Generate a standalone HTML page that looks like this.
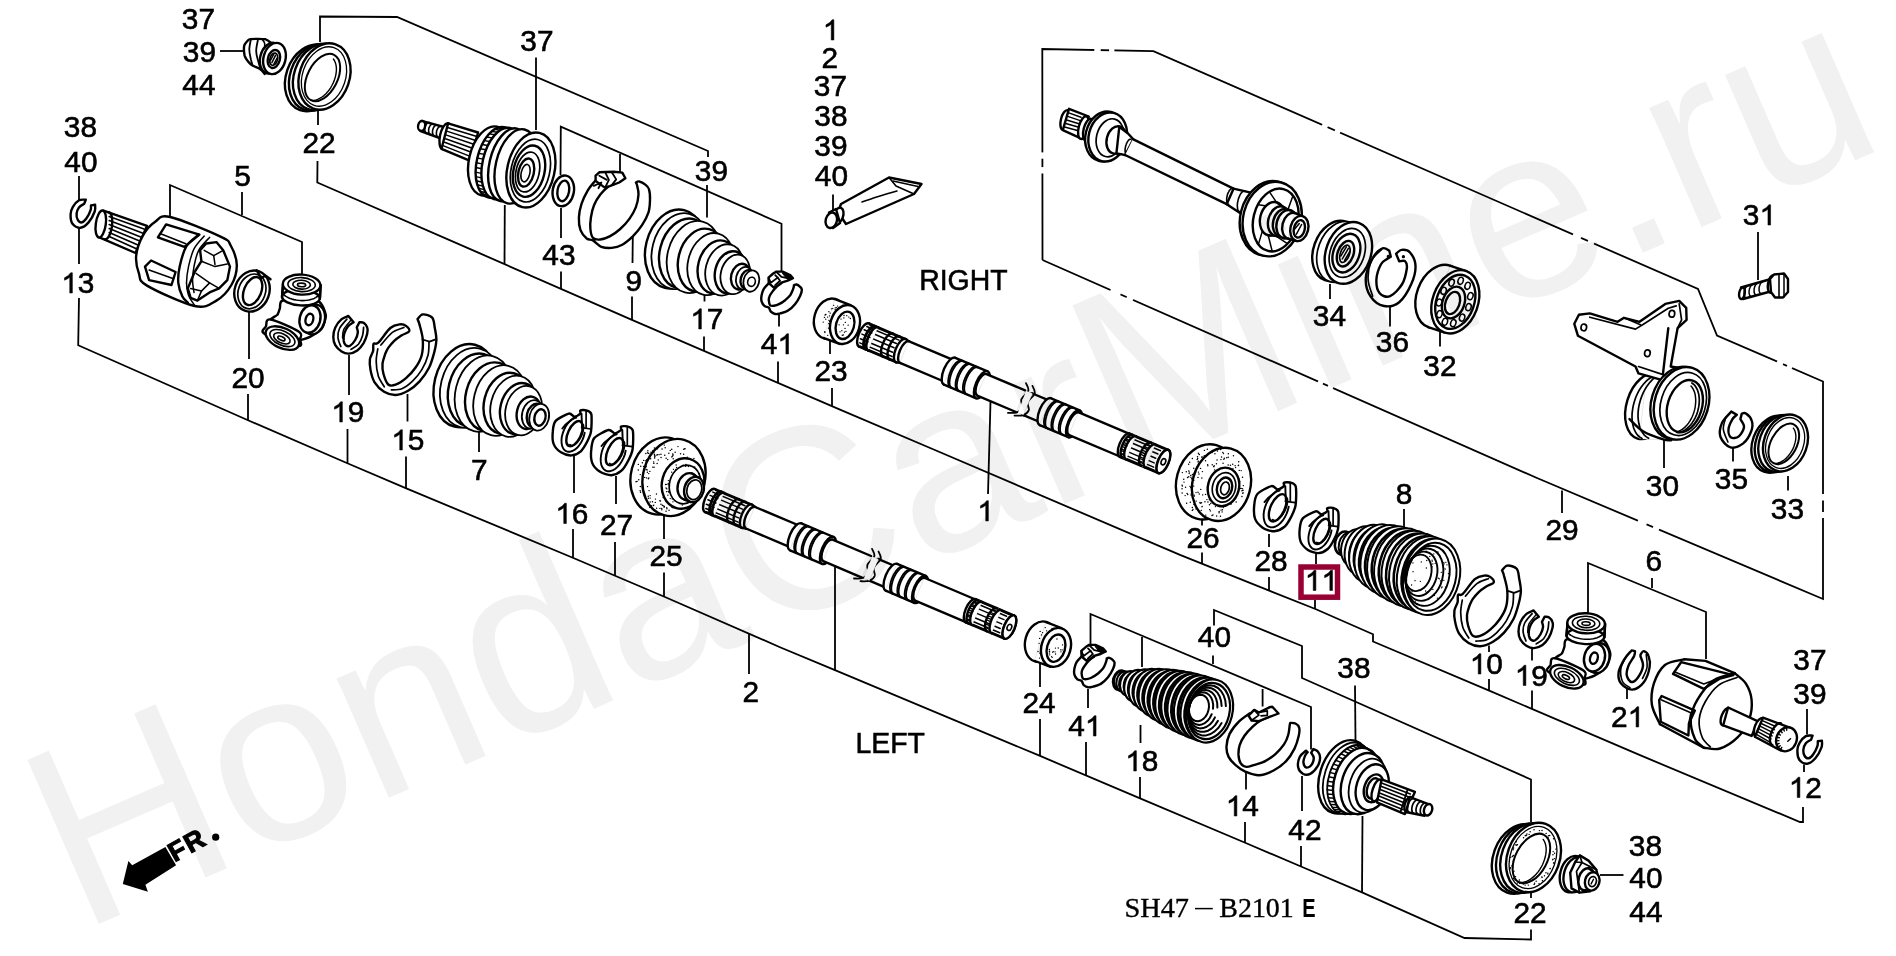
<!DOCTYPE html>
<html><head><meta charset="utf-8"><title>SH47-B2101E</title>
<style>
html,body{margin:0;padding:0;background:#fff;overflow:hidden}
svg{display:block}
.t{font-family:"Liberation Sans",sans-serif;fill:#000;stroke:#000;stroke-width:0.55px}
.s{font-family:"Liberation Serif",serif;fill:#000}
</style></head><body>
<svg width="1896" height="956" viewBox="0 0 1896 956">
<rect width="1896" height="956" fill="#fff"/>
<polyline points="320.0,42.0 320.0,16.5 397.0,17.0 708.0,151.0 708.0,157.0" fill="none" stroke="#000" stroke-width="1.8" />
<polyline points="317.5,161.0 317.3,182.5 480.0,253.4 632.5,320.1 840.0,409.6 933.7,449.5 1180.0,554.9 1269.2,590.6 1315.4,609.0 1373.0,634.3 1373.0,641.5 1489.2,690.6 1640.0,755.2 1800.0,822.0 1803.0,822.0 1803.0,807.0" fill="none" stroke="#000" stroke-width="1.8" />
<line x1="318.0" y1="111.0" x2="318.0" y2="125.0" stroke="#000" stroke-width="1.8" />
<polyline points="79.0,298.0 78.2,345.2 248.6,420.5 346.8,463.0 406.3,488.4 573.4,558.0 663.8,596.5 780.0,647.2 834.4,669.9 1039.5,755.7 1139.5,798.2 1244.6,842.5 1301.0,866.5 1362.0,892.3 1464.5,938.0 1531.0,939.5 1531.0,929.5" fill="none" stroke="#000" stroke-width="1.8" />
<line x1="79.0" y1="176.0" x2="79.0" y2="200.0" stroke="#000" stroke-width="1.8" />
<line x1="79.0" y1="225.0" x2="79.0" y2="264.0" stroke="#000" stroke-width="1.8" />
<line x1="220.0" y1="51.0" x2="244.0" y2="51.0" stroke="#000" stroke-width="1.8" />
<polyline points="170.0,217.0 170.0,185.0 302.0,242.0 302.0,274.0" fill="none" stroke="#000" stroke-width="1.8" />
<line x1="242.0" y1="192.0" x2="242.0" y2="215.0" stroke="#000" stroke-width="1.8" />
<line x1="536.0" y1="57.5" x2="536.0" y2="130.0" stroke="#000" stroke-width="1.8" />
<line x1="504.8" y1="205.0" x2="504.5" y2="264.1" stroke="#000" stroke-width="1.8" />
<line x1="707.0" y1="185.0" x2="707.0" y2="217.5" stroke="#000" stroke-width="1.8" />
<polyline points="560.5,175.0 560.8,126.6 781.5,223.8 781.5,273.0" fill="none" stroke="#000" stroke-width="1.8" />
<line x1="620.0" y1="154.0" x2="620.0" y2="172.0" stroke="#000" stroke-width="1.8" />
<line x1="561.0" y1="208.0" x2="561.0" y2="238.0" stroke="#000" stroke-width="1.8" />
<line x1="561.0" y1="271.5" x2="561.0" y2="288.8" stroke="#000" stroke-width="1.8" />
<line x1="632.8" y1="236.5" x2="632.5" y2="263.0" stroke="#000" stroke-width="1.8" />
<line x1="632.0" y1="296.5" x2="632.0" y2="319.9" stroke="#000" stroke-width="1.8" />
<line x1="704.5" y1="289.0" x2="704.5" y2="301.5" stroke="#000" stroke-width="1.8" />
<line x1="704.0" y1="336.5" x2="704.0" y2="350.9" stroke="#000" stroke-width="1.8" />
<line x1="779.0" y1="314.0" x2="779.0" y2="326.5" stroke="#000" stroke-width="1.8" />
<line x1="778.0" y1="361.5" x2="778.0" y2="382.9" stroke="#000" stroke-width="1.8" />
<line x1="830.0" y1="340.0" x2="830.0" y2="354.0" stroke="#000" stroke-width="1.8" />
<line x1="832.0" y1="388.0" x2="832.0" y2="406.1" stroke="#000" stroke-width="1.8" />
<line x1="833.0" y1="194.5" x2="833.0" y2="210.0" stroke="#000" stroke-width="1.8" />
<line x1="249.0" y1="310.0" x2="249.0" y2="359.0" stroke="#000" stroke-width="1.8" />
<line x1="248.0" y1="394.0" x2="248.0" y2="420.2" stroke="#000" stroke-width="1.8" />
<line x1="349.0" y1="355.0" x2="349.0" y2="395.0" stroke="#000" stroke-width="1.8" />
<line x1="347.5" y1="429.0" x2="347.5" y2="463.3" stroke="#000" stroke-width="1.8" />
<line x1="407.5" y1="394.0" x2="407.5" y2="421.5" stroke="#000" stroke-width="1.8" />
<line x1="406.0" y1="456.5" x2="406.0" y2="488.3" stroke="#000" stroke-width="1.8" />
<line x1="479.0" y1="431.5" x2="479.0" y2="452.0" stroke="#000" stroke-width="1.8" />
<line x1="574.0" y1="456.0" x2="574.0" y2="493.0" stroke="#000" stroke-width="1.8" />
<line x1="573.0" y1="529.0" x2="573.0" y2="557.8" stroke="#000" stroke-width="1.8" />
<line x1="616.0" y1="476.0" x2="616.0" y2="504.0" stroke="#000" stroke-width="1.8" />
<line x1="615.0" y1="542.0" x2="615.0" y2="575.7" stroke="#000" stroke-width="1.8" />
<line x1="664.0" y1="514.0" x2="664.0" y2="539.0" stroke="#000" stroke-width="1.8" />
<line x1="664.0" y1="572.5" x2="664.0" y2="596.6" stroke="#000" stroke-width="1.8" />
<line x1="749.0" y1="633.7" x2="749.0" y2="674.0" stroke="#000" stroke-width="1.8" />
<line x1="835.0" y1="564.0" x2="835.0" y2="670.2" stroke="#000" stroke-width="1.8" />
<line x1="990.5" y1="401.5" x2="988.0" y2="494.0" stroke="#000" stroke-width="1.8" />
<line x1="1202.0" y1="518.0" x2="1202.0" y2="525.5" stroke="#000" stroke-width="1.8" />
<line x1="1202.0" y1="552.5" x2="1202.0" y2="563.7" stroke="#000" stroke-width="1.8" />
<line x1="1269.0" y1="534.0" x2="1269.0" y2="547.0" stroke="#000" stroke-width="1.8" />
<line x1="1269.0" y1="577.0" x2="1269.0" y2="590.5" stroke="#000" stroke-width="1.8" />
<line x1="1316.0" y1="554.0" x2="1316.0" y2="564.0" stroke="#000" stroke-width="1.8" />
<line x1="1315.0" y1="600.0" x2="1315.0" y2="608.8" stroke="#000" stroke-width="1.8" />
<line x1="1404.0" y1="509.0" x2="1404.0" y2="529.0" stroke="#000" stroke-width="1.8" />
<line x1="1330.0" y1="284.0" x2="1330.0" y2="299.0" stroke="#000" stroke-width="1.8" />
<line x1="1390.0" y1="306.5" x2="1390.0" y2="326.5" stroke="#000" stroke-width="1.8" />
<line x1="1440.0" y1="331.5" x2="1440.0" y2="346.5" stroke="#000" stroke-width="1.8" />
<line x1="1758.0" y1="232.0" x2="1758.0" y2="280.0" stroke="#000" stroke-width="1.8" />
<line x1="1664.0" y1="439.0" x2="1664.0" y2="468.0" stroke="#000" stroke-width="1.8" />
<line x1="1733.0" y1="448.0" x2="1733.0" y2="461.5" stroke="#000" stroke-width="1.8" />
<line x1="1788.0" y1="476.0" x2="1788.0" y2="490.5" stroke="#000" stroke-width="1.8" />
<line x1="1562.0" y1="490.5" x2="1562.0" y2="513.0" stroke="#000" stroke-width="1.8" />
<polyline points="1588.0,613.0 1588.0,563.0 1706.0,612.0 1706.0,659.0" fill="none" stroke="#000" stroke-width="1.8" />
<line x1="1652.0" y1="578.0" x2="1652.0" y2="588.0" stroke="#000" stroke-width="1.8" />
<line x1="1489.0" y1="645.5" x2="1489.0" y2="652.0" stroke="#000" stroke-width="1.8" />
<line x1="1489.0" y1="679.0" x2="1489.0" y2="690.5" stroke="#000" stroke-width="1.8" />
<line x1="1532.0" y1="649.0" x2="1532.0" y2="660.5" stroke="#000" stroke-width="1.8" />
<line x1="1532.0" y1="690.5" x2="1532.0" y2="708.9" stroke="#000" stroke-width="1.8" />
<line x1="1627.0" y1="689.0" x2="1627.0" y2="699.0" stroke="#000" stroke-width="1.8" />
<line x1="1807.0" y1="709.0" x2="1807.0" y2="734.5" stroke="#000" stroke-width="1.8" />
<line x1="1804.0" y1="764.5" x2="1804.0" y2="772.0" stroke="#000" stroke-width="1.8" />
<polyline points="1214.0,625.5 1214.0,610.0 1302.0,646.0 1302.0,678.0 1531.0,779.5 1531.0,822.0" fill="none" stroke="#000" stroke-width="1.8" />
<line x1="1213.0" y1="655.5" x2="1213.0" y2="664.0" stroke="#000" stroke-width="1.8" />
<polyline points="1090.5,644.0 1090.5,614.0 1311.0,707.0 1311.0,749.5" fill="none" stroke="#000" stroke-width="1.8" />
<line x1="1142.0" y1="637.0" x2="1142.0" y2="667.0" stroke="#000" stroke-width="1.8" />
<line x1="1262.6" y1="689.0" x2="1262.6" y2="706.5" stroke="#000" stroke-width="1.8" />
<line x1="1355.0" y1="685.5" x2="1355.5" y2="741.0" stroke="#000" stroke-width="1.8" />
<line x1="1362.5" y1="816.0" x2="1362.0" y2="892.3" stroke="#000" stroke-width="1.8" />
<line x1="1040.0" y1="662.0" x2="1040.0" y2="687.0" stroke="#000" stroke-width="1.8" />
<line x1="1040.0" y1="719.0" x2="1040.0" y2="755.9" stroke="#000" stroke-width="1.8" />
<line x1="1088.0" y1="689.0" x2="1088.0" y2="708.0" stroke="#000" stroke-width="1.8" />
<line x1="1086.0" y1="742.0" x2="1086.0" y2="775.5" stroke="#000" stroke-width="1.8" />
<line x1="1140.5" y1="725.0" x2="1140.5" y2="743.0" stroke="#000" stroke-width="1.8" />
<line x1="1140.0" y1="777.0" x2="1140.0" y2="798.4" stroke="#000" stroke-width="1.8" />
<line x1="1246.0" y1="772.5" x2="1246.0" y2="789.5" stroke="#000" stroke-width="1.8" />
<line x1="1245.0" y1="822.0" x2="1245.0" y2="842.7" stroke="#000" stroke-width="1.8" />
<line x1="1302.0" y1="776.0" x2="1302.0" y2="811.0" stroke="#000" stroke-width="1.8" />
<line x1="1301.0" y1="846.0" x2="1301.0" y2="866.5" stroke="#000" stroke-width="1.8" />
<line x1="1531.0" y1="893.0" x2="1531.0" y2="898.0" stroke="#000" stroke-width="1.8" />
<line x1="1600.0" y1="875.0" x2="1623.5" y2="875.0" stroke="#000" stroke-width="1.8" />
<polyline points="1042.5,260.0 1042.3,49.0 1153.4,51.1 1698.0,289.0 1717.0,335.5 1823.0,381.5 1823.0,599.0 1537.0,478.0 1042.5,260.0" fill="none" stroke="#000" stroke-width="1.8" />
<line x1="1094.3" y1="50.0" x2="1100.7" y2="50.1" stroke="#fff" stroke-width="4"/>
<line x1="1109.1" y1="50.3" x2="1114.4" y2="50.4" stroke="#fff" stroke-width="4"/>
<line x1="1322.2" y1="124.8" x2="1327.5" y2="127.2" stroke="#fff" stroke-width="4"/>
<line x1="1334.9" y1="130.4" x2="1340.1" y2="132.7" stroke="#fff" stroke-width="4"/>
<line x1="1573.0" y1="234.4" x2="1581.0" y2="237.9" stroke="#fff" stroke-width="4"/>
<line x1="1588.0" y1="240.9" x2="1594.0" y2="243.6" stroke="#fff" stroke-width="4"/>
<line x1="1777.0" y1="361.5" x2="1783.0" y2="364.1" stroke="#fff" stroke-width="4"/>
<line x1="1787.0" y1="365.9" x2="1792.0" y2="368.0" stroke="#fff" stroke-width="4"/>
<line x1="1042.4" y1="152.4" x2="1042.4" y2="158.7" stroke="#fff" stroke-width="4"/>
<line x1="1042.4" y1="167.1" x2="1042.4" y2="173.5" stroke="#fff" stroke-width="4"/>
<line x1="1823.0" y1="494.0" x2="1823.0" y2="500.5" stroke="#fff" stroke-width="4"/>
<line x1="1823.0" y1="512.0" x2="1823.0" y2="518.0" stroke="#fff" stroke-width="4"/>
<line x1="1110.5" y1="290.0" x2="1120.5" y2="294.4" stroke="#fff" stroke-width="4"/>
<line x1="1126.7" y1="297.1" x2="1133.0" y2="299.9" stroke="#fff" stroke-width="4"/>
<line x1="1318.0" y1="381.5" x2="1323.0" y2="383.7" stroke="#fff" stroke-width="4"/>
<line x1="1328.0" y1="385.9" x2="1333.0" y2="388.1" stroke="#fff" stroke-width="4"/>
<line x1="1638.0" y1="520.7" x2="1646.5" y2="524.3" stroke="#fff" stroke-width="4"/>
<line x1="1653.0" y1="527.1" x2="1659.0" y2="529.6" stroke="#fff" stroke-width="4"/>
<text transform="translate(181.86 29.0) scale(1.085 1.055)" font-size="27.5" class="t">3</text>
<text transform="translate(198.46 29.0) scale(1.085 1.055)" font-size="27.5" class="t">7</text>
<text transform="translate(182.86 61.5) scale(1.085 1.055)" font-size="27.5" class="t">3</text>
<text transform="translate(199.46 61.5) scale(1.085 1.055)" font-size="27.5" class="t">9</text>
<text transform="translate(182.32 95.0) scale(1.085 1.055)" font-size="27.5" class="t">4</text>
<text transform="translate(198.91 95.0) scale(1.085 1.055)" font-size="27.5" class="t">4</text>
<text transform="translate(302.50 153.0) scale(1.085 1.055)" font-size="27.5" class="t">2</text>
<text transform="translate(319.09 153.0) scale(1.085 1.055)" font-size="27.5" class="t">2</text>
<text transform="translate(63.86 137.0) scale(1.085 1.055)" font-size="27.5" class="t">3</text>
<text transform="translate(80.46 137.0) scale(1.085 1.055)" font-size="27.5" class="t">8</text>
<text transform="translate(64.32 172.0) scale(1.085 1.055)" font-size="27.5" class="t">4</text>
<text transform="translate(80.91 172.0) scale(1.085 1.055)" font-size="27.5" class="t">0</text>
<text transform="translate(234.31 186.0) scale(1.085 1.055)" font-size="27.5" class="t">5</text>
<path transform="translate(61.25 293.0) scale(1.085 1.055)" d="M10.25,0.00 L7.83,0.00 L7.83,-14.97 L5.53,-13.35 L2.99,-12.14 L2.99,-14.41 L6.54,-16.65 L8.69,-19.21 L10.25,-19.21Z" fill="#000" stroke="#000" stroke-width="0.5"/>
<text transform="translate(77.85 293.0) scale(1.085 1.055)" font-size="27.5" class="t">3</text>
<text transform="translate(231.50 388.0) scale(1.085 1.055)" font-size="27.5" class="t">2</text>
<text transform="translate(248.09 388.0) scale(1.085 1.055)" font-size="27.5" class="t">0</text>
<path transform="translate(331.25 422.0) scale(1.085 1.055)" d="M10.25,0.00 L7.83,0.00 L7.83,-14.97 L5.53,-13.35 L2.99,-12.14 L2.99,-14.41 L6.54,-16.65 L8.69,-19.21 L10.25,-19.21Z" fill="#000" stroke="#000" stroke-width="0.5"/>
<text transform="translate(347.85 422.0) scale(1.085 1.055)" font-size="27.5" class="t">9</text>
<path transform="translate(391.25 450.0) scale(1.085 1.055)" d="M10.25,0.00 L7.83,0.00 L7.83,-14.97 L5.53,-13.35 L2.99,-12.14 L2.99,-14.41 L6.54,-16.65 L8.69,-19.21 L10.25,-19.21Z" fill="#000" stroke="#000" stroke-width="0.5"/>
<text transform="translate(407.85 450.0) scale(1.085 1.055)" font-size="27.5" class="t">5</text>
<text transform="translate(520.36 51.0) scale(1.085 1.055)" font-size="27.5" class="t">3</text>
<text transform="translate(536.96 51.0) scale(1.085 1.055)" font-size="27.5" class="t">7</text>
<text transform="translate(694.86 180.5) scale(1.085 1.055)" font-size="27.5" class="t">3</text>
<text transform="translate(711.46 180.5) scale(1.085 1.055)" font-size="27.5" class="t">9</text>
<path transform="translate(822.75 40.0) scale(1.085 1.055)" d="M10.25,0.00 L7.83,0.00 L7.83,-14.97 L5.53,-13.35 L2.99,-12.14 L2.99,-14.41 L6.54,-16.65 L8.69,-19.21 L10.25,-19.21Z" fill="#000" stroke="#000" stroke-width="0.5"/>
<text transform="translate(821.50 67.5) scale(1.085 1.055)" font-size="27.5" class="t">2</text>
<text transform="translate(813.86 96.0) scale(1.085 1.055)" font-size="27.5" class="t">3</text>
<text transform="translate(830.46 96.0) scale(1.085 1.055)" font-size="27.5" class="t">7</text>
<text transform="translate(814.36 126.0) scale(1.085 1.055)" font-size="27.5" class="t">3</text>
<text transform="translate(830.96 126.0) scale(1.085 1.055)" font-size="27.5" class="t">8</text>
<text transform="translate(814.36 156.0) scale(1.085 1.055)" font-size="27.5" class="t">3</text>
<text transform="translate(830.96 156.0) scale(1.085 1.055)" font-size="27.5" class="t">9</text>
<text transform="translate(814.82 186.0) scale(1.085 1.055)" font-size="27.5" class="t">4</text>
<text transform="translate(831.41 186.0) scale(1.085 1.055)" font-size="27.5" class="t">0</text>
<text transform="translate(542.32 265.0) scale(1.085 1.055)" font-size="27.5" class="t">4</text>
<text transform="translate(558.91 265.0) scale(1.085 1.055)" font-size="27.5" class="t">3</text>
<text transform="translate(625.60 291.0) scale(1.085 1.055)" font-size="27.5" class="t">9</text>
<path transform="translate(690.25 329.0) scale(1.085 1.055)" d="M10.25,0.00 L7.83,0.00 L7.83,-14.97 L5.53,-13.35 L2.99,-12.14 L2.99,-14.41 L6.54,-16.65 L8.69,-19.21 L10.25,-19.21Z" fill="#000" stroke="#000" stroke-width="0.5"/>
<text transform="translate(706.85 329.0) scale(1.085 1.055)" font-size="27.5" class="t">7</text>
<text transform="translate(760.82 354.0) scale(1.085 1.055)" font-size="27.5" class="t">4</text>
<path transform="translate(777.41 354.0) scale(1.085 1.055)" d="M10.25,0.00 L7.83,0.00 L7.83,-14.97 L5.53,-13.35 L2.99,-12.14 L2.99,-14.41 L6.54,-16.65 L8.69,-19.21 L10.25,-19.21Z" fill="#000" stroke="#000" stroke-width="0.5"/>
<text transform="translate(814.50 381.0) scale(1.085 1.055)" font-size="27.5" class="t">2</text>
<text transform="translate(831.09 381.0) scale(1.085 1.055)" font-size="27.5" class="t">3</text>
<text transform="translate(1312.86 326.0) scale(1.085 1.055)" font-size="27.5" class="t">3</text>
<text transform="translate(1329.46 326.0) scale(1.085 1.055)" font-size="27.5" class="t">4</text>
<text transform="translate(1375.86 352.0) scale(1.085 1.055)" font-size="27.5" class="t">3</text>
<text transform="translate(1392.46 352.0) scale(1.085 1.055)" font-size="27.5" class="t">6</text>
<text transform="translate(1423.36 376.0) scale(1.085 1.055)" font-size="27.5" class="t">3</text>
<text transform="translate(1439.96 376.0) scale(1.085 1.055)" font-size="27.5" class="t">2</text>
<text transform="translate(1742.86 225.0) scale(1.085 1.055)" font-size="27.5" class="t">3</text>
<path transform="translate(1759.46 225.0) scale(1.085 1.055)" d="M10.25,0.00 L7.83,0.00 L7.83,-14.97 L5.53,-13.35 L2.99,-12.14 L2.99,-14.41 L6.54,-16.65 L8.69,-19.21 L10.25,-19.21Z" fill="#000" stroke="#000" stroke-width="0.5"/>
<text transform="translate(1645.86 495.5) scale(1.085 1.055)" font-size="27.5" class="t">3</text>
<text transform="translate(1662.46 495.5) scale(1.085 1.055)" font-size="27.5" class="t">0</text>
<text transform="translate(1714.86 489.0) scale(1.085 1.055)" font-size="27.5" class="t">3</text>
<text transform="translate(1731.46 489.0) scale(1.085 1.055)" font-size="27.5" class="t">5</text>
<text transform="translate(1770.86 519.0) scale(1.085 1.055)" font-size="27.5" class="t">3</text>
<text transform="translate(1787.46 519.0) scale(1.085 1.055)" font-size="27.5" class="t">3</text>
<text transform="translate(1545.50 540.0) scale(1.085 1.055)" font-size="27.5" class="t">2</text>
<text transform="translate(1562.09 540.0) scale(1.085 1.055)" font-size="27.5" class="t">9</text>
<text transform="translate(470.97 480.0) scale(1.085 1.055)" font-size="27.5" class="t">7</text>
<path transform="translate(555.25 523.5) scale(1.085 1.055)" d="M10.25,0.00 L7.83,0.00 L7.83,-14.97 L5.53,-13.35 L2.99,-12.14 L2.99,-14.41 L6.54,-16.65 L8.69,-19.21 L10.25,-19.21Z" fill="#000" stroke="#000" stroke-width="0.5"/>
<text transform="translate(571.85 523.5) scale(1.085 1.055)" font-size="27.5" class="t">6</text>
<text transform="translate(600.00 535.0) scale(1.085 1.055)" font-size="27.5" class="t">2</text>
<text transform="translate(616.59 535.0) scale(1.085 1.055)" font-size="27.5" class="t">7</text>
<text transform="translate(649.50 566.0) scale(1.085 1.055)" font-size="27.5" class="t">2</text>
<text transform="translate(666.09 566.0) scale(1.085 1.055)" font-size="27.5" class="t">5</text>
<text transform="translate(742.50 702.0) scale(1.085 1.055)" font-size="27.5" class="t">2</text>
<path transform="translate(977.25 521.0) scale(1.085 1.055)" d="M10.25,0.00 L7.83,0.00 L7.83,-14.97 L5.53,-13.35 L2.99,-12.14 L2.99,-14.41 L6.54,-16.65 L8.69,-19.21 L10.25,-19.21Z" fill="#000" stroke="#000" stroke-width="0.5"/>
<text transform="translate(1186.50 547.5) scale(1.085 1.055)" font-size="27.5" class="t">2</text>
<text transform="translate(1203.09 547.5) scale(1.085 1.055)" font-size="27.5" class="t">6</text>
<text transform="translate(1254.50 571.0) scale(1.085 1.055)" font-size="27.5" class="t">2</text>
<text transform="translate(1271.09 571.0) scale(1.085 1.055)" font-size="27.5" class="t">8</text>
<path transform="translate(1304.75 590.5) scale(1.085 1.055)" d="M10.25,0.00 L7.83,0.00 L7.83,-14.97 L5.53,-13.35 L2.99,-12.14 L2.99,-14.41 L6.54,-16.65 L8.69,-19.21 L10.25,-19.21Z" fill="#000" stroke="#000" stroke-width="0.5"/>
<path transform="translate(1321.35 590.5) scale(1.085 1.055)" d="M10.25,0.00 L7.83,0.00 L7.83,-14.97 L5.53,-13.35 L2.99,-12.14 L2.99,-14.41 L6.54,-16.65 L8.69,-19.21 L10.25,-19.21Z" fill="#000" stroke="#000" stroke-width="0.5"/>
<text transform="translate(1395.70 504.0) scale(1.085 1.055)" font-size="27.5" class="t">8</text>
<text transform="translate(1197.82 647.0) scale(1.085 1.055)" font-size="27.5" class="t">4</text>
<text transform="translate(1214.41 647.0) scale(1.085 1.055)" font-size="27.5" class="t">0</text>
<text transform="translate(1337.36 678.0) scale(1.085 1.055)" font-size="27.5" class="t">3</text>
<text transform="translate(1353.96 678.0) scale(1.085 1.055)" font-size="27.5" class="t">8</text>
<text transform="translate(1022.50 713.0) scale(1.085 1.055)" font-size="27.5" class="t">2</text>
<text transform="translate(1039.09 713.0) scale(1.085 1.055)" font-size="27.5" class="t">4</text>
<text transform="translate(1068.32 736.0) scale(1.085 1.055)" font-size="27.5" class="t">4</text>
<path transform="translate(1084.91 736.0) scale(1.085 1.055)" d="M10.25,0.00 L7.83,0.00 L7.83,-14.97 L5.53,-13.35 L2.99,-12.14 L2.99,-14.41 L6.54,-16.65 L8.69,-19.21 L10.25,-19.21Z" fill="#000" stroke="#000" stroke-width="0.5"/>
<path transform="translate(1125.25 771.0) scale(1.085 1.055)" d="M10.25,0.00 L7.83,0.00 L7.83,-14.97 L5.53,-13.35 L2.99,-12.14 L2.99,-14.41 L6.54,-16.65 L8.69,-19.21 L10.25,-19.21Z" fill="#000" stroke="#000" stroke-width="0.5"/>
<text transform="translate(1141.85 771.0) scale(1.085 1.055)" font-size="27.5" class="t">8</text>
<path transform="translate(1225.75 816.0) scale(1.085 1.055)" d="M10.25,0.00 L7.83,0.00 L7.83,-14.97 L5.53,-13.35 L2.99,-12.14 L2.99,-14.41 L6.54,-16.65 L8.69,-19.21 L10.25,-19.21Z" fill="#000" stroke="#000" stroke-width="0.5"/>
<text transform="translate(1242.35 816.0) scale(1.085 1.055)" font-size="27.5" class="t">4</text>
<text transform="translate(1288.32 839.5) scale(1.085 1.055)" font-size="27.5" class="t">4</text>
<text transform="translate(1304.91 839.5) scale(1.085 1.055)" font-size="27.5" class="t">2</text>
<text transform="translate(1645.48 571.0) scale(1.085 1.055)" font-size="27.5" class="t">6</text>
<path transform="translate(1469.75 674.0) scale(1.085 1.055)" d="M10.25,0.00 L7.83,0.00 L7.83,-14.97 L5.53,-13.35 L2.99,-12.14 L2.99,-14.41 L6.54,-16.65 L8.69,-19.21 L10.25,-19.21Z" fill="#000" stroke="#000" stroke-width="0.5"/>
<text transform="translate(1486.35 674.0) scale(1.085 1.055)" font-size="27.5" class="t">0</text>
<path transform="translate(1514.75 685.5) scale(1.085 1.055)" d="M10.25,0.00 L7.83,0.00 L7.83,-14.97 L5.53,-13.35 L2.99,-12.14 L2.99,-14.41 L6.54,-16.65 L8.69,-19.21 L10.25,-19.21Z" fill="#000" stroke="#000" stroke-width="0.5"/>
<text transform="translate(1531.35 685.5) scale(1.085 1.055)" font-size="27.5" class="t">9</text>
<text transform="translate(1611.00 727.0) scale(1.085 1.055)" font-size="27.5" class="t">2</text>
<path transform="translate(1627.59 727.0) scale(1.085 1.055)" d="M10.25,0.00 L7.83,0.00 L7.83,-14.97 L5.53,-13.35 L2.99,-12.14 L2.99,-14.41 L6.54,-16.65 L8.69,-19.21 L10.25,-19.21Z" fill="#000" stroke="#000" stroke-width="0.5"/>
<text transform="translate(1793.36 670.0) scale(1.085 1.055)" font-size="27.5" class="t">3</text>
<text transform="translate(1809.96 670.0) scale(1.085 1.055)" font-size="27.5" class="t">7</text>
<text transform="translate(1793.36 704.0) scale(1.085 1.055)" font-size="27.5" class="t">3</text>
<text transform="translate(1809.96 704.0) scale(1.085 1.055)" font-size="27.5" class="t">9</text>
<path transform="translate(1788.75 797.5) scale(1.085 1.055)" d="M10.25,0.00 L7.83,0.00 L7.83,-14.97 L5.53,-13.35 L2.99,-12.14 L2.99,-14.41 L6.54,-16.65 L8.69,-19.21 L10.25,-19.21Z" fill="#000" stroke="#000" stroke-width="0.5"/>
<text transform="translate(1805.35 797.5) scale(1.085 1.055)" font-size="27.5" class="t">2</text>
<text transform="translate(1513.50 923.0) scale(1.085 1.055)" font-size="27.5" class="t">2</text>
<text transform="translate(1530.09 923.0) scale(1.085 1.055)" font-size="27.5" class="t">2</text>
<text transform="translate(1628.86 856.0) scale(1.085 1.055)" font-size="27.5" class="t">3</text>
<text transform="translate(1645.46 856.0) scale(1.085 1.055)" font-size="27.5" class="t">8</text>
<text transform="translate(1629.32 887.5) scale(1.085 1.055)" font-size="27.5" class="t">4</text>
<text transform="translate(1645.91 887.5) scale(1.085 1.055)" font-size="27.5" class="t">0</text>
<text transform="translate(1629.32 922.0) scale(1.085 1.055)" font-size="27.5" class="t">4</text>
<text transform="translate(1645.91 922.0) scale(1.085 1.055)" font-size="27.5" class="t">4</text>
<text transform="translate(919.17 290) scale(1 1.04)" font-size="28.4" class="t">RIGHT</text>
<text transform="translate(855.42 753) scale(1 1.04)" font-size="28.4" class="t">LEFT</text>
<rect x="1301" y="567" width="36.5" height="30.2" fill="none" stroke="#990033" stroke-width="5.5"/>
<text x="1124.5" y="916.8" font-size="26.5" class="s" stroke="#000" stroke-width="0.35" textLength="64.5" lengthAdjust="spacingAndGlyphs">SH47</text>
<line x1="1195" y1="908.6" x2="1212.8" y2="908.6" stroke="#000" stroke-width="1.5"/>
<text x="1219.3" y="916.8" font-size="26.5" class="s" stroke="#000" stroke-width="0.35" textLength="74.5" lengthAdjust="spacingAndGlyphs">B2101</text>
<text transform="translate(1302.3 916.8) scale(0.80 1.03)" font-size="25" font-weight="bold" font-family="Liberation Sans, sans-serif">E</text>
<polygon points="122.8,884 128.4,860.9 132.2,865.3 165.4,847.1 176.1,865.3 145.4,884.8 147.9,891.7" fill="#000"/>
<text x="174.5" y="862.5" font-size="27" font-weight="bold" font-family="Liberation Sans, sans-serif" stroke="#000" stroke-width="1.1" letter-spacing="1.5" transform="rotate(-29 174.5 862.5)">FR</text>
<circle cx="215.7" cy="837.2" r="3.6" fill="#000"/>
<path d="M271.9,43.6 C271.1,43.1 268.1,39.9 265.6,39.3 C263.1,38.8 252.6,38.8 250.4,39.1 C248.2,39.4 247.3,41.1 246.5,42.0 C245.8,42.8 244.3,44.5 244.1,46.1 C243.9,47.7 244.2,53.7 244.6,55.6 C245.1,57.4 247.4,60.7 248.3,61.8 C249.2,63.0 251.1,64.6 252.5,65.5 C253.9,66.3 258.9,68.2 260.3,69.2 C261.8,70.1 264.2,73.3 264.7,73.9" fill="#fff" stroke="#000" stroke-width="2.4" stroke-linejoin="round" stroke-linecap="round" />
<path d="M250.9,39.4 C250.6,41.1 249.3,46.2 249.3,49.6 C249.3,52.9 250.4,56.9 250.9,59.5 C251.5,62.2 252.4,64.5 252.7,65.5" fill="none" stroke="#000" stroke-width="1.8" stroke-linejoin="round" stroke-linecap="round" />
<path d="M258.0,39.4 C257.7,41.4 256.1,47.5 256.2,51.2 C256.2,54.9 257.5,58.6 258.3,61.6 C259.0,64.6 260.2,67.9 260.6,69.2" fill="none" stroke="#000" stroke-width="1.8" stroke-linejoin="round" stroke-linecap="round" />
<path d="M262.4,39.6 C262.8,40.2 264.1,41.7 264.5,42.8 C264.9,43.8 264.7,45.4 264.7,45.9" fill="none" stroke="#000" stroke-width="1.6" stroke-linejoin="round" stroke-linecap="round" />
<ellipse cx="271.0" cy="58.2" rx="10.8" ry="15.7" transform="rotate(15 271.0 58.2)" fill="#fff" stroke="#000" stroke-width="2.4" />
<ellipse cx="274.5" cy="58.5" rx="11.0" ry="15.9" transform="rotate(15 274.5 58.5)" fill="#fff" stroke="#000" stroke-width="2.4" />
<ellipse cx="273.9" cy="59.0" rx="6.0" ry="9.1" transform="rotate(15 273.9 59.0)" fill="#fff" stroke="#000" stroke-width="2.4" />
<ellipse cx="273.7" cy="59.2" rx="3.8" ry="6.3" transform="rotate(15 273.7 59.2)" fill="#fff" stroke="#000" stroke-width="1.7" />
<path d="M271.9,62.7 L275.5,55.3" fill="none" stroke="#000" stroke-width="1.5" stroke-linejoin="round" stroke-linecap="round" />
<path d="M270.3,60.6 L273.9,53.8" fill="none" stroke="#000" stroke-width="1.5" stroke-linejoin="round" stroke-linecap="round" />
<path d="M273.9,64.2 L277.1,58.0" fill="none" stroke="#000" stroke-width="1.5" stroke-linejoin="round" stroke-linecap="round" />
<ellipse cx="311.0" cy="78.0" rx="25.0" ry="34.0" transform="rotate(19 311.0 78.0)" fill="#fff" stroke="#000" stroke-width="2.4" />
<ellipse cx="315.0" cy="77.5" rx="25.0" ry="34.0" transform="rotate(19 315.0 77.5)" fill="#fff" stroke="#000" stroke-width="2.4" />
<ellipse cx="319.0" cy="77.0" rx="25.0" ry="34.0" transform="rotate(19 319.0 77.0)" fill="#fff" stroke="#000" stroke-width="2.4" />
<ellipse cx="324.5" cy="76.5" rx="25.0" ry="34.0" transform="rotate(19 324.5 76.5)" fill="#fff" stroke="#000" stroke-width="2.4" />
<ellipse cx="324.0" cy="76.5" rx="21.5" ry="30.5" transform="rotate(19 324.0 76.5)" fill="#fff" stroke="#000" stroke-width="1.3" />
<ellipse cx="322.5" cy="77.5" rx="15.0" ry="25.5" transform="rotate(27 322.5 77.5)" fill="#fff" stroke="#000" stroke-width="2.0" />
<path d="M333.4,59.0 L334.4,60.5 L335.2,62.2 L335.8,64.1 L336.2,66.1 L336.4,68.3 L336.4,70.7 L336.1,73.1 L335.7,75.6 L335.0,78.1 L334.2,80.6 L333.1,83.1 L331.9,85.5 L330.6,87.8 L329.1,90.0 L327.4,92.1 L325.7,93.9 L323.9,95.6 L322.0,97.0 L320.1,98.2 L318.2,99.2 L316.3,99.9 L314.5,100.3 L312.7,100.4 L311.0,100.2" fill="none" stroke="#000" stroke-width="1.4" stroke-linejoin="round" stroke-linecap="round" />
<path d="M85.8,199.7 C84.7,199.8 81.2,199.1 79.0,200.2 C76.9,201.4 74.3,204.4 72.9,206.8 C71.5,209.1 70.7,211.4 70.6,214.2 C70.5,217.1 70.9,221.5 72.5,223.8 C74.1,226.0 77.7,228.1 80.4,227.8 C83.1,227.6 86.2,225.1 88.6,222.4 C90.9,219.7 93.6,214.5 94.7,211.5 C95.8,208.6 95.0,205.9 95.1,204.7 L91.0,205.4 C90.9,206.2 91.3,208.0 90.6,210.2 C89.9,212.3 88.0,216.3 86.5,218.3 C85.0,220.4 83.2,222.2 81.8,222.4 C80.3,222.6 78.5,221.2 77.7,219.7 C76.8,218.2 76.4,215.6 76.6,213.6 C76.8,211.5 77.8,209.1 79.0,207.4 C80.3,205.8 83.3,204.4 84.2,203.8Z" fill="#fff" stroke="#000" stroke-width="2.4" stroke-linejoin="round" stroke-linecap="round" />
<path d="M1812.6,735.6 C1811.5,735.7 1808.0,735.0 1805.8,736.1 C1803.7,737.3 1801.1,740.3 1799.7,742.7 C1798.3,745.0 1797.5,747.3 1797.4,750.1 C1797.3,753.0 1797.7,757.4 1799.3,759.7 C1800.9,761.9 1804.5,764.0 1807.2,763.7 C1809.9,763.5 1813.0,761.0 1815.4,758.3 C1817.7,755.6 1820.4,750.4 1821.5,747.4 C1822.6,744.5 1821.8,741.8 1821.9,740.6 L1817.8,741.3 C1817.7,742.1 1818.1,743.9 1817.4,746.1 C1816.7,748.2 1814.8,752.2 1813.3,754.2 C1811.8,756.3 1810.0,758.1 1808.6,758.3 C1807.1,758.5 1805.3,757.1 1804.5,755.6 C1803.6,754.1 1803.2,751.5 1803.4,749.5 C1803.6,747.4 1804.6,745.0 1805.8,743.3 C1807.1,741.7 1810.1,740.3 1811.0,739.7Z" fill="#fff" stroke="#000" stroke-width="2.4" stroke-linejoin="round" stroke-linecap="round" />
<path d="M103.5,210.6 L147.0,225.8 L135.5,253.0 L99.4,237.4Z" fill="#fff" stroke="#000" stroke-width="2.4" stroke-linejoin="round" stroke-linecap="round" />
<ellipse cx="100.8" cy="224.0" rx="5.0" ry="13.6" transform="rotate(8 100.8 224.0)" fill="#fff" stroke="#000" stroke-width="2.4" />
<path d="M108.8,212.3 L109.4,212.5 L110.0,213.0 L110.6,213.6 L111.1,214.5 L111.5,215.5 L111.8,216.8 L112.0,218.2 L112.2,219.7 L112.2,221.3 L112.2,223.0 L112.1,224.7 L111.9,226.5 L111.6,228.3 L111.2,230.0 L110.8,231.6 L110.3,233.1 L109.7,234.6 L109.1,235.8 L108.5,236.9 L107.8,237.8 L107.1,238.5 L106.4,239.0 L105.7,239.2 L105.0,239.3" fill="none" stroke="#000" stroke-width="2.4" stroke-linejoin="round" stroke-linecap="round" />
<path d="M109.2,216.5 L144.0,229.1" fill="none" stroke="#000" stroke-width="1.6" stroke-linejoin="round" stroke-linecap="round" />
<path d="M109.2,220.5 L142.4,233.0" fill="none" stroke="#000" stroke-width="1.6" stroke-linejoin="round" stroke-linecap="round" />
<path d="M109.2,224.5 L140.7,236.9" fill="none" stroke="#000" stroke-width="1.6" stroke-linejoin="round" stroke-linecap="round" />
<path d="M109.2,228.5 L139.1,240.8" fill="none" stroke="#000" stroke-width="1.6" stroke-linejoin="round" stroke-linecap="round" />
<path d="M109.2,232.5 L137.4,244.7" fill="none" stroke="#000" stroke-width="1.6" stroke-linejoin="round" stroke-linecap="round" />
<path d="M109.2,236.6 L135.8,248.6" fill="none" stroke="#000" stroke-width="1.6" stroke-linejoin="round" stroke-linecap="round" />
<path d="M194.6,306.0 C183.1,303.5 156.3,291.1 147.0,285.6 C137.7,280.2 140.7,278.4 138.9,273.4 C137.1,268.4 135.5,262.1 136.2,255.7 C136.8,249.4 139.8,241.0 143.0,235.3 C146.1,229.7 150.7,224.8 155.2,221.7 C159.7,218.7 159.3,214.5 170.2,217.0 C181.0,219.5 210.4,231.9 220.5,236.7 C230.6,241.4 228.0,240.8 230.7,245.5 C233.4,250.3 236.7,258.7 236.8,265.2 C236.9,271.8 234.8,279.1 231.4,285.0 C228.0,290.9 222.5,297.1 216.4,300.6 C210.3,304.1 206.2,308.5 194.6,306.0Z" fill="#fff" stroke="#000" stroke-width="2.4" stroke-linejoin="round" stroke-linecap="round" />
<path d="M198.7,234.6 C196.7,236.6 189.7,240.9 186.5,246.2 C183.3,251.5 181.0,260.5 179.7,266.6 C178.3,272.7 177.9,277.9 178.3,282.9 C178.8,287.9 180.8,293.2 182.4,296.5 C184.0,299.8 186.9,301.6 187.8,302.6" fill="none" stroke="#000" stroke-width="2.4" stroke-linejoin="round" stroke-linecap="round" />
<path d="M204.2,236.0 C202.5,238.2 196.6,243.8 194.0,248.9 C191.4,254.0 189.8,260.9 188.5,266.6 C187.3,272.3 186.5,278.2 186.5,282.9 C186.5,287.7 187.2,291.4 188.5,295.2 C189.9,298.9 193.6,303.7 194.6,305.4" fill="none" stroke="#000" stroke-width="1.5" stroke-linejoin="round" stroke-linecap="round" />
<path d="M209.6,237.4 C207.8,239.5 201.3,245.4 198.7,250.3 C196.1,255.2 195.0,261.6 194.0,266.6 C192.9,271.6 192.6,275.9 192.6,280.2 C192.6,284.5 193.7,290.4 194.0,292.4" fill="none" stroke="#000" stroke-width="1.5" stroke-linejoin="round" stroke-linecap="round" />
<path d="M157.9,237.4 L166.1,224.4 L199.4,234.6 L184.4,246.9Z" fill="none" stroke="#000" stroke-width="2.4" stroke-linejoin="round" stroke-linecap="round" />
<path d="M161.3,234.0 L185.8,243.8" fill="none" stroke="#000" stroke-width="1.5" stroke-linejoin="round" stroke-linecap="round" />
<path d="M145.0,266.6 L151.1,260.5 L175.6,272.0 L171.5,285.0 L149.1,280.2Z" fill="none" stroke="#000" stroke-width="2.4" stroke-linejoin="round" stroke-linecap="round" />
<path d="M149.1,270.0 L173.6,278.8" fill="none" stroke="#000" stroke-width="1.5" stroke-linejoin="round" stroke-linecap="round" />
<path d="M206.2,243.5 L216.4,242.1 L223.2,250.3 L230.0,266.6 L227.3,280.2 L219.1,288.4 L209.6,292.4 L197.4,300.6 L190.6,297.9 L187.8,288.4 L194.6,272.0 L201.4,261.2 L200.1,250.3Z" fill="none" stroke="#000" stroke-width="2.4" stroke-linejoin="round" stroke-linecap="round" />
<path d="M204.2,250.3 L213.7,255.7 L223.2,250.3" fill="none" stroke="#000" stroke-width="1.5" stroke-linejoin="round" stroke-linecap="round" />
<path d="M213.7,255.7 L215.0,264.6" fill="none" stroke="#000" stroke-width="1.5" stroke-linejoin="round" stroke-linecap="round" />
<path d="M201.4,261.2 L215.0,266.6 L227.3,263.9" fill="none" stroke="#000" stroke-width="1.5" stroke-linejoin="round" stroke-linecap="round" />
<path d="M196.0,273.4 L209.6,282.9 L219.1,288.4" fill="none" stroke="#000" stroke-width="1.5" stroke-linejoin="round" stroke-linecap="round" />
<path d="M209.6,282.9 L201.4,291.1 L190.6,288.4" fill="none" stroke="#000" stroke-width="1.5" stroke-linejoin="round" stroke-linecap="round" />
<path d="M201.4,291.1 L197.4,300.6" fill="none" stroke="#000" stroke-width="1.5" stroke-linejoin="round" stroke-linecap="round" />
<ellipse cx="252.0" cy="291.1" rx="17.3" ry="20.9" transform="rotate(20 252.0 291.1)" fill="#fff" stroke="#000" stroke-width="2.4" />
<ellipse cx="251.9" cy="291.4" rx="13.5" ry="17.8" transform="rotate(20 251.9 291.4)" fill="#fff" stroke="#000" stroke-width="1.7" />
<ellipse cx="252.6" cy="291.1" rx="8.6" ry="14.7" transform="rotate(22 252.6 291.1)" fill="#fff" stroke="#000" stroke-width="2.4" />
<path d="M256.6,270.2 L261.1,277.8 L265.7,275.6 L270.5,279.3" fill="none" stroke="#000" stroke-width="2.4" stroke-linejoin="round" stroke-linecap="round" />
<path d="M282.7,300.5 C279.0,301.3 280.5,306.7 279.9,308.1 C279.4,309.5 278.3,313.7 277.3,314.9 C276.4,316.1 269.8,318.6 270.5,320.2 C271.2,321.8 281.4,328.9 284.2,330.9 C286.9,332.8 295.2,339.4 297.8,340.0 C300.4,340.6 307.5,338.1 310.0,336.9 C312.4,335.7 320.5,330.0 322.1,327.8 C323.7,325.7 325.9,318.0 325.9,315.7 C325.9,313.4 323.1,306.6 322.1,305.1 C321.1,303.6 320.0,301.0 316.0,300.5 C312.1,300.1 286.3,299.8 282.7,300.5Z" fill="#fff" stroke="#000" stroke-width="2.4" stroke-linejoin="round" stroke-linecap="round" />
<ellipse cx="313.8" cy="319.5" rx="10.9" ry="15.2" transform="rotate(15 313.8 319.5)" fill="#fff" stroke="#000" stroke-width="2.4" />
<ellipse cx="310.0" cy="319.0" rx="10.3" ry="14.0" transform="rotate(15 310.0 319.0)" fill="#fff" stroke="#000" stroke-width="2.4" />
<ellipse cx="309.4" cy="319.5" rx="3.8" ry="5.8" transform="rotate(15 309.4 319.5)" fill="#fff" stroke="#000" stroke-width="2.4" />
<path d="M283.0,284.6 L282.0,297.5 L319.8,299.0 L320.6,285.3" fill="#fff" stroke="#000" stroke-width="2.4" stroke-linejoin="round" stroke-linecap="round" />
<ellipse cx="300.9" cy="297.5" rx="18.8" ry="7.9" transform="rotate(3 300.9 297.5)" fill="#fff" stroke="#000" stroke-width="2.4" />
<path d="M283.0,284.6 L282.0,296.7" fill="none" stroke="#000" stroke-width="2.4" stroke-linejoin="round" stroke-linecap="round" />
<path d="M320.6,285.3 L320.0,298.2" fill="none" stroke="#000" stroke-width="2.4" stroke-linejoin="round" stroke-linecap="round" />
<ellipse cx="301.6" cy="284.6" rx="18.8" ry="10.0" transform="rotate(3 301.6 284.6)" fill="#fff" stroke="#000" stroke-width="2.4" />
<ellipse cx="301.6" cy="284.6" rx="13.7" ry="7.0" transform="rotate(3 301.6 284.6)" fill="#fff" stroke="#000" stroke-width="1.6" />
<ellipse cx="301.6" cy="284.7" rx="8.8" ry="4.4" transform="rotate(3 301.6 284.7)" fill="#fff" stroke="#000" stroke-width="1.6" />
<ellipse cx="301.6" cy="284.9" rx="4.1" ry="1.8" transform="rotate(3 301.6 284.9)" fill="#fff" stroke="#000" stroke-width="1.6" />
<path d="M319.3,294.0 L318.7,295.0 L317.9,295.9 L316.9,296.8 L315.6,297.6 L314.2,298.4 L312.6,299.0 L310.8,299.5 L308.9,300.0 L306.8,300.3 L304.7,300.5 L302.6,300.6 L300.4,300.5 L298.2,300.3 L296.1,300.0 L294.0,299.6 L292.0,299.1 L290.1,298.5 L288.4,297.7 L286.9,296.9 L285.5,296.1 L284.4,295.1 L283.4,294.1 L282.7,293.1 L282.3,292.0" fill="none" stroke="#000" stroke-width="1.6" stroke-linejoin="round" stroke-linecap="round" />
<path d="M270.5,319.5 C265.1,318.6 266.9,323.9 266.0,326.3 C265.0,328.7 259.4,330.6 264.8,333.9 C270.1,337.2 291.9,345.1 297.8,346.0 C303.7,346.9 300.0,341.6 300.1,339.2 C300.2,336.8 303.5,334.9 298.6,331.6 C293.7,328.3 276.0,320.4 270.5,319.5Z" fill="#fff" stroke="#000" stroke-width="2.4" stroke-linejoin="round" stroke-linecap="round" />
<ellipse cx="282.4" cy="338.1" rx="17.9" ry="10.0" transform="rotate(25 282.4 338.1)" fill="#fff" stroke="#000" stroke-width="2.4" />
<ellipse cx="282.4" cy="338.1" rx="13.4" ry="7.1" transform="rotate(25 282.4 338.1)" fill="#fff" stroke="#000" stroke-width="1.6" />
<ellipse cx="281.9" cy="338.4" rx="8.8" ry="4.6" transform="rotate(25 281.9 338.4)" fill="#fff" stroke="#000" stroke-width="1.6" />
<ellipse cx="281.4" cy="338.4" rx="3.9" ry="1.8" transform="rotate(25 281.4 338.4)" fill="#fff" stroke="#000" stroke-width="1.6" />
<path d="M348.4,315.9 C347.3,316.5 343.8,317.2 341.6,319.1 C339.4,321.0 336.7,324.5 335.3,327.4 C333.9,330.4 333.3,333.9 333.3,336.9 C333.3,339.8 333.9,342.8 335.3,345.2 C336.7,347.7 339.4,350.1 341.6,351.5 C343.9,352.9 346.3,353.8 348.9,353.6 C351.6,353.4 354.9,352.2 357.3,350.5 C359.8,348.7 361.9,345.9 363.6,343.1 C365.2,340.3 366.6,336.3 367.2,333.7 C367.9,331.1 367.9,329.3 367.2,327.4 C366.6,325.6 364.9,323.6 363.6,322.7 C362.3,321.9 360.1,322.3 359.4,322.2 L356.8,327.4 C357.0,328.3 358.1,330.6 357.8,332.7 C357.6,334.8 356.5,337.8 355.2,340.0 C353.9,342.2 351.6,344.9 350.0,345.8 C348.4,346.6 346.9,346.0 345.8,345.2 C344.8,344.4 344.0,343.0 343.7,341.0 C343.5,339.1 343.5,336.2 344.2,333.7 C344.9,331.3 346.3,328.3 347.9,326.4 C349.5,324.5 352.7,322.9 353.6,322.2Z" fill="#fff" stroke="#000" stroke-width="2.4" stroke-linejoin="round" stroke-linecap="round" />
<path d="M346.9,319.1 C345.6,320.6 341.0,325.4 339.5,328.5 C338.0,331.6 337.7,334.9 338.0,337.9 C338.2,340.9 340.3,345.1 340.8,346.5" fill="none" stroke="#000" stroke-width="1.7" stroke-linejoin="round" stroke-linecap="round" />
<path d="M363.6,327.4 C363.4,328.8 363.4,333.0 362.5,335.8 C361.7,338.6 360.3,341.9 358.4,344.2 C356.4,346.4 352.3,348.5 351.0,349.4" fill="none" stroke="#000" stroke-width="1.7" stroke-linejoin="round" stroke-linecap="round" />
<path d="M350.5,320.6 C349.4,322.1 345.1,326.7 343.7,329.5 C342.4,332.4 342.7,336.5 342.5,337.9" fill="none" stroke="#000" stroke-width="1.5" stroke-linejoin="round" stroke-linecap="round" />
<path d="M417.5,319.1 C418.4,318.3 420.3,314.7 422.8,314.4 C425.2,314.2 430.2,315.3 432.2,317.6 C434.2,319.8 434.1,324.4 434.8,328.0 C435.5,331.7 436.4,335.5 436.4,339.5 C436.3,343.5 435.5,347.4 434.3,352.1 C433.0,356.8 431.5,362.9 429.0,367.8 C426.6,372.6 423.1,377.5 419.6,381.4 C416.1,385.2 412.1,388.5 408.1,390.8 C404.1,393.0 399.6,394.8 395.6,395.0 C391.6,395.1 387.5,393.9 384.1,391.8 C380.6,389.7 376.9,386.1 374.6,382.4 C372.4,378.7 371.2,373.7 370.5,369.9 C369.7,366.0 369.5,362.5 369.9,359.4 C370.4,356.3 372.5,353.6 373.1,351.0 C373.7,348.4 372.7,345.1 373.6,343.7 C374.5,342.3 375.5,345.3 378.3,342.7 C381.1,340.0 386.8,331.1 390.3,328.0 C393.9,325.0 397.1,324.7 399.7,324.4 C402.4,324.0 404.5,324.8 406.0,325.9 C407.6,327.1 409.9,329.6 409.2,331.2 C408.5,332.7 404.3,333.8 401.8,335.3 C399.4,336.9 396.8,338.5 394.5,340.6 C392.3,342.7 389.8,345.6 388.2,347.9 C386.7,350.2 385.6,353.1 385.1,354.2 L385.1,354.2 C384.7,355.7 382.8,360.3 382.5,363.6 C382.2,366.9 382.6,370.6 383.5,374.0 C384.5,377.5 386.2,382.7 388.2,384.5 C390.2,386.3 392.6,385.8 395.6,384.7 C398.5,383.7 402.7,381.0 406.0,378.2 C409.3,375.4 412.8,371.6 415.4,367.8 C418.1,363.9 420.5,359.9 421.7,355.2 C422.9,350.5 423.1,344.6 422.8,339.5 C422.4,334.5 420.5,328.3 419.6,324.9 C418.8,321.5 417.9,320.1 417.5,319.1Z" fill="#fff" stroke="#000" stroke-width="2.4" stroke-linejoin="round" stroke-linecap="round" />
<path d="M429.0,341.6 C428.9,343.9 429.2,350.5 428.0,355.2 C426.8,359.9 424.3,365.5 421.7,369.9 C419.1,374.2 415.6,378.2 412.3,381.4 C409.0,384.5 405.3,387.3 401.8,388.7 C398.4,390.1 393.1,389.7 391.4,389.9" fill="none" stroke="#000" stroke-width="1.7" stroke-linejoin="round" stroke-linecap="round" />
<path d="M377.8,348.9 C377.5,351.0 376.1,357.0 376.2,361.5 C376.3,366.0 377.0,371.9 378.3,376.1 C379.6,380.3 383.3,385.0 384.3,386.8" fill="none" stroke="#000" stroke-width="1.7" stroke-linejoin="round" stroke-linecap="round" />
<path d="M380.9,345.0 C382.8,342.9 388.6,335.3 392.4,332.4 C396.3,329.5 402.0,328.3 403.9,327.5" fill="none" stroke="#000" stroke-width="1.7" stroke-linejoin="round" stroke-linecap="round" />
<path d="M422.4,339.5 L429.6,341.6 L434.9,339.7" fill="none" stroke="#000" stroke-width="1.8" stroke-linejoin="round" stroke-linecap="round" />
<path d="M1502.0,570.3 C1502.9,569.5 1504.8,565.9 1507.3,565.6 C1509.7,565.4 1514.7,566.5 1516.7,568.8 C1518.7,571.0 1518.6,575.6 1519.3,579.2 C1520.0,582.9 1520.9,586.7 1520.9,590.7 C1520.8,594.7 1520.0,598.6 1518.8,603.3 C1517.5,608.0 1516.0,614.1 1513.5,619.0 C1511.1,623.8 1507.6,628.7 1504.1,632.6 C1500.6,636.4 1496.6,639.7 1492.6,642.0 C1488.6,644.2 1484.1,646.0 1480.1,646.2 C1476.1,646.3 1472.0,645.1 1468.6,643.0 C1465.1,640.9 1461.4,637.3 1459.1,633.6 C1456.9,629.9 1455.7,624.9 1455.0,621.1 C1454.2,617.2 1454.0,613.7 1454.4,610.6 C1454.9,607.5 1457.0,604.8 1457.6,602.2 C1458.2,599.6 1457.2,596.3 1458.1,594.9 C1459.0,593.5 1460.0,596.5 1462.8,593.9 C1465.6,591.2 1471.3,582.3 1474.8,579.2 C1478.4,576.2 1481.6,575.9 1484.2,575.6 C1486.9,575.2 1489.0,576.0 1490.5,577.1 C1492.1,578.3 1494.4,580.8 1493.7,582.4 C1493.0,583.9 1488.8,585.0 1486.3,586.5 C1483.9,588.1 1481.3,589.7 1479.0,591.8 C1476.8,593.9 1474.3,596.8 1472.7,599.1 C1471.2,601.4 1470.1,604.3 1469.6,605.4 L1469.6,605.4 C1469.2,606.9 1467.3,611.5 1467.0,614.8 C1466.7,618.1 1467.1,621.8 1468.0,625.2 C1469.0,628.7 1470.7,633.9 1472.7,635.7 C1474.7,637.5 1477.1,637.0 1480.1,635.9 C1483.0,634.9 1487.2,632.2 1490.5,629.4 C1493.8,626.6 1497.3,622.8 1499.9,619.0 C1502.6,615.1 1505.0,611.1 1506.2,606.4 C1507.4,601.7 1507.6,595.8 1507.3,590.7 C1506.9,585.7 1505.0,579.5 1504.1,576.1 C1503.3,572.7 1502.4,571.3 1502.0,570.3Z" fill="#fff" stroke="#000" stroke-width="2.4" stroke-linejoin="round" stroke-linecap="round" />
<path d="M1513.5,592.8 C1513.4,595.1 1513.7,601.7 1512.5,606.4 C1511.3,611.1 1508.8,616.7 1506.2,621.1 C1503.6,625.4 1500.1,629.4 1496.8,632.6 C1493.5,635.7 1489.8,638.5 1486.3,639.9 C1482.9,641.3 1477.6,640.9 1475.9,641.1" fill="none" stroke="#000" stroke-width="1.7" stroke-linejoin="round" stroke-linecap="round" />
<path d="M1462.3,600.1 C1462.0,602.2 1460.6,608.2 1460.7,612.7 C1460.8,617.2 1461.5,623.1 1462.8,627.3 C1464.1,631.5 1467.8,636.2 1468.8,638.0" fill="none" stroke="#000" stroke-width="1.7" stroke-linejoin="round" stroke-linecap="round" />
<path d="M1465.4,596.2 C1467.3,594.1 1473.1,586.5 1476.9,583.6 C1480.8,580.7 1486.5,579.5 1488.4,578.7" fill="none" stroke="#000" stroke-width="1.7" stroke-linejoin="round" stroke-linecap="round" />
<path d="M1506.9,590.7 L1514.1,592.8 L1519.4,590.9" fill="none" stroke="#000" stroke-width="1.8" stroke-linejoin="round" stroke-linecap="round" />
<path d="M1533.6,610.4 C1532.5,611.0 1529.0,611.7 1526.8,613.6 C1524.6,615.5 1521.9,619.0 1520.5,621.9 C1519.1,624.9 1518.5,628.4 1518.5,631.4 C1518.5,634.3 1519.1,637.3 1520.5,639.7 C1521.9,642.2 1524.6,644.6 1526.8,646.0 C1529.1,647.4 1531.5,648.3 1534.1,648.1 C1536.8,647.9 1540.1,646.7 1542.5,645.0 C1545.0,643.2 1547.1,640.4 1548.8,637.6 C1550.4,634.8 1551.8,630.8 1552.4,628.2 C1553.1,625.6 1553.1,623.8 1552.4,621.9 C1551.8,620.1 1550.1,618.1 1548.8,617.2 C1547.5,616.4 1545.3,616.8 1544.6,616.7 L1542.0,621.9 C1542.2,622.8 1543.3,625.1 1543.0,627.2 C1542.8,629.3 1541.7,632.3 1540.4,634.5 C1539.1,636.7 1536.8,639.4 1535.2,640.3 C1533.6,641.1 1532.1,640.5 1531.0,639.7 C1530.0,638.9 1529.2,637.5 1528.9,635.5 C1528.7,633.6 1528.7,630.7 1529.4,628.2 C1530.1,625.8 1531.5,622.8 1533.1,620.9 C1534.7,619.0 1537.9,617.4 1538.8,616.7Z" fill="#fff" stroke="#000" stroke-width="2.4" stroke-linejoin="round" stroke-linecap="round" />
<path d="M1532.1,613.6 C1530.8,615.1 1526.2,619.9 1524.7,623.0 C1523.2,626.1 1522.9,629.4 1523.2,632.4 C1523.4,635.4 1525.5,639.6 1526.0,641.0" fill="none" stroke="#000" stroke-width="1.7" stroke-linejoin="round" stroke-linecap="round" />
<path d="M1548.8,621.9 C1548.6,623.3 1548.6,627.5 1547.7,630.3 C1546.9,633.1 1545.5,636.4 1543.6,638.7 C1541.6,640.9 1537.5,643.0 1536.2,643.9" fill="none" stroke="#000" stroke-width="1.7" stroke-linejoin="round" stroke-linecap="round" />
<path d="M1535.7,615.1 C1534.6,616.6 1530.3,621.2 1528.9,624.0 C1527.6,626.9 1527.9,631.0 1527.7,632.4" fill="none" stroke="#000" stroke-width="1.5" stroke-linejoin="round" stroke-linecap="round" />
<path d="M1567.2,639.2 C1563.5,640.0 1565.0,645.4 1564.4,646.8 C1563.9,648.2 1562.8,652.4 1561.8,653.6 C1560.9,654.8 1554.3,657.3 1555.0,658.9 C1555.7,660.5 1565.9,667.6 1568.7,669.6 C1571.4,671.5 1579.7,678.1 1582.3,678.7 C1584.9,679.3 1592.0,676.8 1594.5,675.6 C1596.9,674.4 1605.0,668.7 1606.6,666.5 C1608.2,664.4 1610.4,656.7 1610.4,654.4 C1610.4,652.1 1607.6,645.3 1606.6,643.8 C1605.6,642.3 1604.5,639.7 1600.5,639.2 C1596.6,638.8 1570.8,638.5 1567.2,639.2Z" fill="#fff" stroke="#000" stroke-width="2.4" stroke-linejoin="round" stroke-linecap="round" />
<ellipse cx="1598.3" cy="658.2" rx="10.9" ry="15.2" transform="rotate(15 1598.3 658.2)" fill="#fff" stroke="#000" stroke-width="2.4" />
<ellipse cx="1594.5" cy="657.7" rx="10.3" ry="14.0" transform="rotate(15 1594.5 657.7)" fill="#fff" stroke="#000" stroke-width="2.4" />
<ellipse cx="1593.9" cy="658.2" rx="3.8" ry="5.8" transform="rotate(15 1593.9 658.2)" fill="#fff" stroke="#000" stroke-width="2.4" />
<path d="M1567.5,623.3 L1566.5,636.2 L1604.3,637.7 L1605.1,624.0" fill="#fff" stroke="#000" stroke-width="2.4" stroke-linejoin="round" stroke-linecap="round" />
<ellipse cx="1585.4" cy="636.2" rx="18.8" ry="7.9" transform="rotate(3 1585.4 636.2)" fill="#fff" stroke="#000" stroke-width="2.4" />
<path d="M1567.5,623.3 L1566.5,635.4" fill="none" stroke="#000" stroke-width="2.4" stroke-linejoin="round" stroke-linecap="round" />
<path d="M1605.1,624.0 L1604.5,636.9" fill="none" stroke="#000" stroke-width="2.4" stroke-linejoin="round" stroke-linecap="round" />
<ellipse cx="1586.1" cy="623.3" rx="18.8" ry="10.0" transform="rotate(3 1586.1 623.3)" fill="#fff" stroke="#000" stroke-width="2.4" />
<ellipse cx="1586.1" cy="623.3" rx="13.7" ry="7.0" transform="rotate(3 1586.1 623.3)" fill="#fff" stroke="#000" stroke-width="1.6" />
<ellipse cx="1586.1" cy="623.4" rx="8.8" ry="4.4" transform="rotate(3 1586.1 623.4)" fill="#fff" stroke="#000" stroke-width="1.6" />
<ellipse cx="1586.1" cy="623.6" rx="4.1" ry="1.8" transform="rotate(3 1586.1 623.6)" fill="#fff" stroke="#000" stroke-width="1.6" />
<path d="M1603.8,632.7 L1603.2,633.7 L1602.4,634.6 L1601.4,635.5 L1600.1,636.3 L1598.7,637.1 L1597.1,637.7 L1595.3,638.2 L1593.4,638.7 L1591.3,639.0 L1589.2,639.2 L1587.1,639.3 L1584.9,639.2 L1582.7,639.0 L1580.6,638.7 L1578.5,638.3 L1576.5,637.8 L1574.6,637.2 L1572.9,636.4 L1571.4,635.6 L1570.0,634.8 L1568.9,633.8 L1567.9,632.8 L1567.2,631.8 L1566.8,630.7" fill="none" stroke="#000" stroke-width="1.6" stroke-linejoin="round" stroke-linecap="round" />
<path d="M1555.0,658.2 C1549.6,657.3 1551.4,662.6 1550.5,665.0 C1549.5,667.4 1543.9,669.3 1549.3,672.6 C1554.6,675.9 1576.4,683.8 1582.3,684.7 C1588.2,685.6 1584.5,680.3 1584.6,677.9 C1584.7,675.5 1588.0,673.6 1583.1,670.3 C1578.2,667.0 1560.5,659.1 1555.0,658.2Z" fill="#fff" stroke="#000" stroke-width="2.4" stroke-linejoin="round" stroke-linecap="round" />
<ellipse cx="1566.9" cy="676.8" rx="17.9" ry="10.0" transform="rotate(25 1566.9 676.8)" fill="#fff" stroke="#000" stroke-width="2.4" />
<ellipse cx="1566.9" cy="676.8" rx="13.4" ry="7.1" transform="rotate(25 1566.9 676.8)" fill="#fff" stroke="#000" stroke-width="1.6" />
<ellipse cx="1566.4" cy="677.1" rx="8.8" ry="4.6" transform="rotate(25 1566.4 677.1)" fill="#fff" stroke="#000" stroke-width="1.6" />
<ellipse cx="1565.9" cy="677.1" rx="3.9" ry="1.8" transform="rotate(25 1565.9 677.1)" fill="#fff" stroke="#000" stroke-width="1.6" />
<ellipse cx="464.7" cy="385.7" rx="30.4" ry="42.2" transform="rotate(14 464.7 385.7)" fill="#fff" stroke="#000" stroke-width="2.4" />
<ellipse cx="469.9" cy="387.9" rx="29.2" ry="40.5" transform="rotate(14 469.9 387.9)" fill="#fff" stroke="#000" stroke-width="1.8" />
<ellipse cx="475.1" cy="390.1" rx="26.6" ry="37.0" transform="rotate(14 475.1 390.1)" fill="#fff" stroke="#000" stroke-width="2.4" />
<ellipse cx="483.3" cy="393.6" rx="27.9" ry="38.7" transform="rotate(14 483.3 393.6)" fill="#fff" stroke="#000" stroke-width="1.8" />
<ellipse cx="490.8" cy="396.7" rx="25.1" ry="34.8" transform="rotate(14 490.8 396.7)" fill="#fff" stroke="#000" stroke-width="2.4" />
<ellipse cx="499.7" cy="400.5" rx="25.8" ry="35.8" transform="rotate(14 499.7 400.5)" fill="#fff" stroke="#000" stroke-width="1.8" />
<ellipse cx="506.4" cy="403.3" rx="22.3" ry="31.0" transform="rotate(14 506.4 403.3)" fill="#fff" stroke="#000" stroke-width="2.4" />
<ellipse cx="513.1" cy="406.2" rx="22.3" ry="31.0" transform="rotate(14 513.1 406.2)" fill="#fff" stroke="#000" stroke-width="1.8" />
<ellipse cx="519.1" cy="408.7" rx="18.7" ry="26.0" transform="rotate(14 519.1 408.7)" fill="#fff" stroke="#000" stroke-width="2.4" />
<ellipse cx="523.6" cy="410.6" rx="18.0" ry="25.0" transform="rotate(14 523.6 410.6)" fill="#fff" stroke="#000" stroke-width="1.8" />
<ellipse cx="528.8" cy="412.8" rx="11.9" ry="16.5" transform="rotate(14 528.8 412.8)" fill="#fff" stroke="#000" stroke-width="2.4" />
<ellipse cx="532.5" cy="414.4" rx="10.4" ry="14.5" transform="rotate(14 532.5 414.4)" fill="#fff" stroke="#000" stroke-width="1.8" />
<ellipse cx="535.5" cy="415.6" rx="8.6" ry="12.0" transform="rotate(14 535.5 415.6)" fill="#fff" stroke="#000" stroke-width="2.4" />
<ellipse cx="539.2" cy="417.2" rx="9.7" ry="13.5" transform="rotate(14 539.2 417.2)" fill="#fff" stroke="#000" stroke-width="1.8" />
<ellipse cx="540.0" cy="417.5" rx="5.5" ry="8.3" transform="rotate(14 540.0 417.5)" fill="#fff" stroke="#000" stroke-width="2.4" />
<path d="M555.7,420.9 C557.8,418.5 566.3,414.2 568.8,413.6 C571.3,413.0 573.0,416.7 574.5,416.7 C576.1,416.7 579.5,414.4 580.3,413.6 C581.0,412.8 579.5,410.9 580.3,410.5 C581.0,410.0 584.6,409.8 586.0,410.3 C587.5,410.7 590.6,411.3 591.3,414.1 C591.9,416.9 591.6,427.7 591.0,431.4 C590.5,435.1 588.4,439.2 587.1,441.8 C585.7,444.5 582.9,449.4 580.8,451.3 C578.7,453.1 574.0,455.3 571.4,455.4 C568.7,455.6 563.3,453.8 560.9,452.3 C558.5,450.8 554.7,446.7 553.6,443.9 C552.5,441.1 552.5,434.4 552.8,431.4 C553.0,428.3 553.6,423.3 555.7,420.9Z" fill="#fff" stroke="#000" stroke-width="2.4" stroke-linejoin="round" stroke-linecap="round" />
<path d="M584.7,432.7 L583.9,436.1 L582.7,439.4 L581.1,442.5 L579.2,445.3 L577.1,447.8 L574.8,449.7 L572.5,451.0 L570.2,451.7 L568.1,451.8 L566.1,451.2 L564.4,450.0 L563.1,448.2 L562.1,445.9 L561.6,443.1 L561.5,440.0 L561.8,436.8 L562.7,433.4 L563.9,430.1 L565.4,427.0 L567.3,424.1 L569.4,421.7 L571.7,419.8 L574.0,418.4 L576.3,417.7" fill="none" stroke="#000" stroke-width="1.9" stroke-linejoin="round" stroke-linecap="round" />
<ellipse cx="574.5" cy="433.7" rx="6.5" ry="13.6" transform="rotate(25 574.5 433.7)" fill="#fff" stroke="#000" stroke-width="2.4" />
<path d="M583.4,424.9 L583.5,425.9 L583.6,426.9 L583.5,428.1 L583.4,429.4 L583.2,430.7 L582.8,432.0 L582.4,433.4 L581.9,434.8 L581.3,436.1 L580.6,437.4 L579.9,438.7 L579.1,439.9 L578.3,441.0 L577.5,442.1 L576.6,443.0 L575.7,443.8 L574.9,444.4 L574.0,444.9 L573.2,445.3 L572.4,445.5 L571.7,445.5 L571.0,445.4 L570.4,445.1 L569.9,444.6" fill="none" stroke="#000" stroke-width="1.7" stroke-linejoin="round" stroke-linecap="round" />
<path d="M581.5,413.6 L582.1,427.7" fill="none" stroke="#000" stroke-width="1.9" stroke-linejoin="round" stroke-linecap="round" />
<path d="M586.1,410.9 L586.1,427.4" fill="none" stroke="#000" stroke-width="1.7" stroke-linejoin="round" stroke-linecap="round" />
<path d="M581.6,427.7 L590.8,429.0" fill="none" stroke="#000" stroke-width="1.7" stroke-linejoin="round" stroke-linecap="round" />
<path d="M562.3,428.5 L565.1,425.1 L574.7,417.1" fill="none" stroke="#000" stroke-width="1.9" stroke-linejoin="round" stroke-linecap="round" />
<path d="M594.4,437.9 C596.7,435.3 605.8,430.6 608.5,430.0 C611.2,429.4 613.1,433.4 614.7,433.4 C616.4,433.4 620.1,430.9 621.0,430.0 C621.8,429.1 620.1,427.1 621.0,426.6 C621.8,426.1 625.6,425.9 627.2,426.4 C628.8,426.9 632.1,427.5 632.8,430.6 C633.5,433.6 633.2,445.2 632.6,449.2 C632.0,453.2 629.8,457.6 628.3,460.5 C626.8,463.4 623.8,468.7 621.5,470.7 C619.3,472.6 614.2,475.0 611.4,475.2 C608.5,475.3 602.6,473.5 600.1,471.8 C597.5,470.1 593.3,465.8 592.2,462.8 C591.0,459.7 590.9,452.5 591.3,449.2 C591.6,445.9 592.1,440.5 594.4,437.9Z" fill="#fff" stroke="#000" stroke-width="2.4" stroke-linejoin="round" stroke-linecap="round" />
<path d="M625.7,450.6 L624.9,454.3 L623.5,457.8 L621.8,461.2 L619.8,464.3 L617.5,466.9 L615.1,469.0 L612.6,470.4 L610.1,471.2 L607.8,471.3 L605.7,470.6 L603.8,469.3 L602.4,467.4 L601.3,464.8 L600.8,461.9 L600.7,458.5 L601.1,455.0 L601.9,451.4 L603.2,447.8 L604.9,444.4 L607.0,441.4 L609.3,438.8 L611.7,436.7 L614.2,435.2 L616.7,434.4" fill="none" stroke="#000" stroke-width="1.9" stroke-linejoin="round" stroke-linecap="round" />
<ellipse cx="614.7" cy="451.7" rx="7.0" ry="14.7" transform="rotate(25 614.7 451.7)" fill="#fff" stroke="#000" stroke-width="2.4" />
<path d="M624.3,442.2 L624.5,443.2 L624.5,444.4 L624.5,445.7 L624.3,447.0 L624.1,448.4 L623.7,449.9 L623.3,451.4 L622.7,452.8 L622.1,454.3 L621.4,455.7 L620.6,457.1 L619.7,458.4 L618.9,459.6 L617.9,460.7 L617.0,461.7 L616.1,462.6 L615.1,463.3 L614.2,463.8 L613.3,464.2 L612.5,464.4 L611.7,464.4 L611.0,464.3 L610.3,464.0 L609.7,463.5" fill="none" stroke="#000" stroke-width="1.7" stroke-linejoin="round" stroke-linecap="round" />
<path d="M622.3,430.0 L622.9,445.3" fill="none" stroke="#000" stroke-width="1.9" stroke-linejoin="round" stroke-linecap="round" />
<path d="M627.3,427.1 L627.3,444.9" fill="none" stroke="#000" stroke-width="1.7" stroke-linejoin="round" stroke-linecap="round" />
<path d="M622.4,445.3 L632.4,446.6" fill="none" stroke="#000" stroke-width="1.7" stroke-linejoin="round" stroke-linecap="round" />
<path d="M601.5,446.0 L604.6,442.4 L615.0,433.7" fill="none" stroke="#000" stroke-width="1.9" stroke-linejoin="round" stroke-linecap="round" />
<ellipse cx="710.0" cy="500.6" rx="5.3" ry="12.6" transform="rotate(22.91378056430903 710.0 500.6)" fill="#fff" stroke="#000" stroke-width="2.4" />
<path d="M714.9,489.0 L751.7,504.6 L741.9,527.8 L705.1,512.2Z" fill="#fff" stroke="#000" stroke-width="0.1" stroke-linejoin="round" stroke-linecap="round" />
<path d="M714.9,489.0 L751.7,504.6" fill="none" stroke="#000" stroke-width="2.4" stroke-linejoin="round" stroke-linecap="round" />
<path d="M705.1,512.2 L741.9,527.8" fill="none" stroke="#000" stroke-width="2.4" stroke-linejoin="round" stroke-linecap="round" />
<path d="M715.4,490.3 L747.7,503.9" fill="none" stroke="#000" stroke-width="1.5" stroke-linejoin="round" stroke-linecap="round" />
<path d="M712.8,492.1 L745.0,505.7" fill="none" stroke="#000" stroke-width="1.5" stroke-linejoin="round" stroke-linecap="round" />
<path d="M710.1,495.4 L742.4,509.1" fill="none" stroke="#000" stroke-width="1.5" stroke-linejoin="round" stroke-linecap="round" />
<path d="M707.9,499.7 L740.1,513.3" fill="none" stroke="#000" stroke-width="1.5" stroke-linejoin="round" stroke-linecap="round" />
<path d="M706.4,504.3 L738.6,517.9" fill="none" stroke="#000" stroke-width="1.5" stroke-linejoin="round" stroke-linecap="round" />
<path d="M705.8,508.5 L738.1,522.1" fill="none" stroke="#000" stroke-width="1.5" stroke-linejoin="round" stroke-linecap="round" />
<path d="M706.4,511.7 L738.6,525.3" fill="none" stroke="#000" stroke-width="1.5" stroke-linejoin="round" stroke-linecap="round" />
<path d="M711.5,514.9 L710.4,514.0 L709.8,512.3 L709.5,510.1 L709.8,507.3 L710.5,504.3 L711.6,501.3 L713.0,498.3 L714.7,495.7 L716.5,493.7 L718.3,492.2 L719.9,491.6 L721.4,491.7" fill="none" stroke="#000" stroke-width="2.4" stroke-linejoin="round" stroke-linecap="round" />
<path d="M714.3,516.1 L713.2,515.2 L712.5,513.5 L712.3,511.2 L712.5,508.5 L713.2,505.5 L714.3,502.4 L715.8,499.5 L717.4,496.9 L719.2,494.8 L721.0,493.4 L722.7,492.7 L724.1,492.9" fill="none" stroke="#000" stroke-width="2.4" stroke-linejoin="round" stroke-linecap="round" />
<path d="M729.0,522.3 L727.9,521.4 L727.3,519.7 L727.0,517.5 L727.3,514.7 L728.0,511.7 L729.1,508.7 L730.5,505.7 L732.2,503.1 L734.0,501.1 L735.8,499.6 L737.4,499.0 L738.9,499.1" fill="none" stroke="#000" stroke-width="2.4" stroke-linejoin="round" stroke-linecap="round" />
<path d="M735.5,525.1 L734.4,524.1 L733.7,522.5 L733.5,520.2 L733.7,517.5 L734.4,514.5 L735.5,511.4 L737.0,508.5 L738.6,505.9 L740.4,503.8 L742.2,502.4 L743.9,501.7 L745.3,501.8" fill="none" stroke="#000" stroke-width="2.4" stroke-linejoin="round" stroke-linecap="round" />
<path d="M721.4,491.7 L724.1,492.9 L714.3,516.1 L711.5,514.9Z" fill="#fff" stroke="#000" stroke-width="0.1" stroke-linejoin="round" stroke-linecap="round" />
<path d="M711.5,514.9 L710.4,514.0 L709.8,512.3 L709.5,510.1 L709.8,507.3 L710.5,504.3 L711.6,501.3 L713.0,498.3 L714.7,495.7 L716.5,493.7 L718.3,492.2 L719.9,491.6 L721.4,491.7" fill="none" stroke="#000" stroke-width="2.4" stroke-linejoin="round" stroke-linecap="round" />
<path d="M714.3,516.1 L713.2,515.2 L712.5,513.5 L712.3,511.2 L712.5,508.5 L713.2,505.5 L714.3,502.4 L715.8,499.5 L717.4,496.9 L719.2,494.8 L721.0,493.4 L722.7,492.7 L724.1,492.9" fill="none" stroke="#000" stroke-width="2.4" stroke-linejoin="round" stroke-linecap="round" />
<ellipse cx="746.8" cy="516.2" rx="5.3" ry="12.6" transform="rotate(22.91378056430903 746.8 516.2)" fill="#fff" stroke="#000" stroke-width="2.4" />
<path d="M751.7,504.6 L755.1,507.0 L746.0,528.5 L741.9,527.8Z" fill="#fff" stroke="#000" stroke-width="0.1" stroke-linejoin="round" stroke-linecap="round" />
<path d="M751.7,504.6 L755.1,507.0" fill="none" stroke="#000" stroke-width="2.4" stroke-linejoin="round" stroke-linecap="round" />
<path d="M741.9,527.8 L746.0,528.5" fill="none" stroke="#000" stroke-width="2.4" stroke-linejoin="round" stroke-linecap="round" />
<ellipse cx="750.5" cy="517.7" rx="4.9" ry="11.7" transform="rotate(22.91378056430903 750.5 517.7)" fill="#fff" stroke="#000" stroke-width="2.4" />
<path d="M755.1,507.0 L800.2,526.0 L791.1,547.6 L746.0,528.5Z" fill="#fff" stroke="#000" stroke-width="0.1" stroke-linejoin="round" stroke-linecap="round" />
<path d="M755.1,507.0 L800.2,526.0" fill="none" stroke="#000" stroke-width="2.4" stroke-linejoin="round" stroke-linecap="round" />
<path d="M746.0,528.5 L791.1,547.6" fill="none" stroke="#000" stroke-width="2.4" stroke-linejoin="round" stroke-linecap="round" />
<ellipse cx="795.7" cy="536.8" rx="6.1" ry="14.6" transform="rotate(22.91378056430903 795.7 536.8)" fill="#fff" stroke="#000" stroke-width="2.4" />
<path d="M801.3,523.4 L833.6,537.0 L822.2,563.9 L790.0,550.3Z" fill="#fff" stroke="#000" stroke-width="0.1" stroke-linejoin="round" stroke-linecap="round" />
<path d="M801.3,523.4 L833.6,537.0" fill="none" stroke="#000" stroke-width="2.4" stroke-linejoin="round" stroke-linecap="round" />
<path d="M790.0,550.3 L822.2,563.9" fill="none" stroke="#000" stroke-width="2.4" stroke-linejoin="round" stroke-linecap="round" />
<ellipse cx="827.9" cy="550.4" rx="6.1" ry="14.6" transform="rotate(22.91378056430903 827.9 550.4)" fill="#fff" stroke="#000" stroke-width="2.4" />
<path d="M796.4,553.0 L795.2,551.9 L794.4,550.0 L794.1,547.4 L794.4,544.2 L795.2,540.7 L796.5,537.1 L798.1,533.7 L800.1,530.7 L802.1,528.3 L804.2,526.7 L806.1,525.9 L807.8,526.1" fill="none" stroke="#000" stroke-width="1.8" stroke-linejoin="round" stroke-linecap="round" />
<path d="M797.8,553.6 L796.5,552.5 L795.7,550.6 L795.5,547.9 L795.8,544.8 L796.6,541.3 L797.8,537.7 L799.5,534.3 L801.4,531.3 L803.5,528.9 L805.6,527.3 L807.5,526.5 L809.2,526.7" fill="none" stroke="#000" stroke-width="1.8" stroke-linejoin="round" stroke-linecap="round" />
<path d="M803.8,556.1 L802.5,555.0 L801.7,553.1 L801.5,550.5 L801.7,547.3 L802.6,543.8 L803.8,540.3 L805.5,536.9 L807.4,533.9 L809.5,531.5 L811.6,529.8 L813.5,529.0 L815.2,529.2" fill="none" stroke="#000" stroke-width="1.8" stroke-linejoin="round" stroke-linecap="round" />
<path d="M805.2,556.7 L803.9,555.6 L803.1,553.7 L802.8,551.1 L803.1,547.9 L803.9,544.4 L805.2,540.8 L806.9,537.4 L808.8,534.4 L810.9,532.0 L813.0,530.4 L814.9,529.6 L816.5,529.8" fill="none" stroke="#000" stroke-width="1.8" stroke-linejoin="round" stroke-linecap="round" />
<path d="M811.2,559.2 L809.9,558.1 L809.1,556.2 L808.8,553.6 L809.1,550.4 L809.9,546.9 L811.2,543.4 L812.9,540.0 L814.8,537.0 L816.9,534.6 L818.9,532.9 L820.9,532.2 L822.5,532.3" fill="none" stroke="#000" stroke-width="1.8" stroke-linejoin="round" stroke-linecap="round" />
<path d="M812.5,559.8 L811.3,558.7 L810.5,556.8 L810.2,554.2 L810.5,551.0 L811.3,547.5 L812.6,544.0 L814.2,540.6 L816.2,537.6 L818.3,535.2 L820.3,533.5 L822.3,532.7 L823.9,532.9" fill="none" stroke="#000" stroke-width="1.8" stroke-linejoin="round" stroke-linecap="round" />
<ellipse cx="827.9" cy="550.4" rx="4.9" ry="11.7" transform="rotate(22.91378056430903 827.9 550.4)" fill="#fff" stroke="#000" stroke-width="2.4" />
<path d="M832.5,539.7 L871.1,556.0 L862.0,577.6 L823.3,561.2Z" fill="#fff" stroke="#000" stroke-width="0.1" stroke-linejoin="round" stroke-linecap="round" />
<path d="M832.5,539.7 L871.1,556.0" fill="none" stroke="#000" stroke-width="2.4" stroke-linejoin="round" stroke-linecap="round" />
<path d="M823.3,561.2 L862.0,577.6" fill="none" stroke="#000" stroke-width="2.4" stroke-linejoin="round" stroke-linecap="round" />
<ellipse cx="874.0" cy="569.9" rx="4.9" ry="11.7" transform="rotate(22.91378056430903 874.0 569.9)" fill="#fff" stroke="#000" stroke-width="2.4" />
<path d="M878.5,559.1 L896.0,566.5 L886.9,588.1 L869.4,580.7Z" fill="#fff" stroke="#000" stroke-width="0.1" stroke-linejoin="round" stroke-linecap="round" />
<path d="M878.5,559.1 L896.0,566.5" fill="none" stroke="#000" stroke-width="2.4" stroke-linejoin="round" stroke-linecap="round" />
<path d="M869.4,580.7 L886.9,588.1" fill="none" stroke="#000" stroke-width="2.4" stroke-linejoin="round" stroke-linecap="round" />
<path d="M872.0,548.8 C872.4,550.0 875.1,553.6 874.3,556.3 C873.5,559.0 868.4,562.2 867.4,564.9 C866.4,567.7 869.1,570.8 868.3,573.0 C867.6,575.1 865.3,577.0 863.0,578.0 C860.6,578.9 855.5,578.4 854.0,578.5" fill="none" stroke="#000" stroke-width="1.8" stroke-linejoin="round" stroke-linecap="round" />
<path d="M878.5,551.5 C878.9,552.8 881.5,556.3 880.7,559.0 C880.0,561.7 874.8,564.9 873.8,567.7 C872.8,570.5 875.5,573.5 874.8,575.7 C874.0,577.8 871.8,579.8 869.4,580.7 C867.0,581.6 862.0,581.2 860.5,581.2" fill="none" stroke="#000" stroke-width="1.8" stroke-linejoin="round" stroke-linecap="round" />
<path d="M872.1,556.4 L878.5,559.1 L869.4,580.7 L863.9,578.3Z" fill="#fff" stroke="#000" stroke-width="0.1" stroke-linejoin="round" stroke-linecap="round" />
<ellipse cx="891.5" cy="577.3" rx="6.1" ry="14.6" transform="rotate(22.91378056430903 891.5 577.3)" fill="#fff" stroke="#000" stroke-width="2.4" />
<path d="M897.1,563.9 L925.7,575.9 L914.3,602.8 L885.8,590.7Z" fill="#fff" stroke="#000" stroke-width="0.1" stroke-linejoin="round" stroke-linecap="round" />
<path d="M897.1,563.9 L925.7,575.9" fill="none" stroke="#000" stroke-width="2.4" stroke-linejoin="round" stroke-linecap="round" />
<path d="M885.8,590.7 L914.3,602.8" fill="none" stroke="#000" stroke-width="2.4" stroke-linejoin="round" stroke-linecap="round" />
<ellipse cx="920.0" cy="589.4" rx="6.1" ry="14.6" transform="rotate(22.91378056430903 920.0 589.4)" fill="#fff" stroke="#000" stroke-width="2.4" />
<path d="M892.2,593.5 L891.0,592.4 L890.2,590.5 L889.9,587.8 L890.2,584.7 L891.0,581.2 L892.3,577.6 L893.9,574.2 L895.9,571.2 L897.9,568.8 L900.0,567.2 L901.9,566.4 L903.6,566.6" fill="none" stroke="#000" stroke-width="1.8" stroke-linejoin="round" stroke-linecap="round" />
<path d="M893.6,594.1 L892.3,593.0 L891.5,591.1 L891.3,588.4 L891.6,585.3 L892.4,581.8 L893.6,578.2 L895.3,574.8 L897.2,571.8 L899.3,569.4 L901.4,567.8 L903.3,567.0 L905.0,567.2" fill="none" stroke="#000" stroke-width="1.8" stroke-linejoin="round" stroke-linecap="round" />
<path d="M899.6,596.6 L898.3,595.5 L897.5,593.6 L897.3,591.0 L897.5,587.8 L898.3,584.3 L899.6,580.8 L901.3,577.4 L903.2,574.3 L905.3,571.9 L907.4,570.3 L909.3,569.5 L911.0,569.7" fill="none" stroke="#000" stroke-width="1.8" stroke-linejoin="round" stroke-linecap="round" />
<path d="M901.0,597.2 L899.7,596.1 L898.9,594.2 L898.6,591.5 L898.9,588.4 L899.7,584.9 L901.0,581.3 L902.7,577.9 L904.6,574.9 L906.7,572.5 L908.8,570.9 L910.7,570.1 L912.3,570.3" fill="none" stroke="#000" stroke-width="1.8" stroke-linejoin="round" stroke-linecap="round" />
<path d="M907.0,599.7 L905.7,598.6 L904.9,596.7 L904.6,594.1 L904.9,590.9 L905.7,587.4 L907.0,583.9 L908.7,580.5 L910.6,577.5 L912.7,575.1 L914.7,573.4 L916.7,572.6 L918.3,572.8" fill="none" stroke="#000" stroke-width="1.8" stroke-linejoin="round" stroke-linecap="round" />
<path d="M908.3,600.3 L907.1,599.2 L906.3,597.3 L906.0,594.7 L906.3,591.5 L907.1,588.0 L908.4,584.5 L910.0,581.1 L912.0,578.0 L914.0,575.6 L916.1,574.0 L918.1,573.2 L919.7,573.4" fill="none" stroke="#000" stroke-width="1.8" stroke-linejoin="round" stroke-linecap="round" />
<ellipse cx="920.0" cy="589.4" rx="5.2" ry="12.3" transform="rotate(22.91378056430903 920.0 589.4)" fill="#fff" stroke="#000" stroke-width="2.4" />
<path d="M924.8,578.0 L975.5,599.5 L965.9,622.1 L915.2,600.7Z" fill="#fff" stroke="#000" stroke-width="0.1" stroke-linejoin="round" stroke-linecap="round" />
<path d="M924.8,578.0 L975.5,599.5" fill="none" stroke="#000" stroke-width="2.4" stroke-linejoin="round" stroke-linecap="round" />
<path d="M915.2,600.7 L965.9,622.1" fill="none" stroke="#000" stroke-width="2.4" stroke-linejoin="round" stroke-linecap="round" />
<ellipse cx="970.7" cy="610.8" rx="5.3" ry="12.6" transform="rotate(22.91378056430903 970.7 610.8)" fill="#fff" stroke="#000" stroke-width="2.4" />
<path d="M975.6,599.2 L1014.3,615.5 L1004.4,638.7 L965.8,622.4Z" fill="#fff" stroke="#000" stroke-width="0.1" stroke-linejoin="round" stroke-linecap="round" />
<path d="M975.6,599.2 L1014.3,615.5" fill="none" stroke="#000" stroke-width="2.4" stroke-linejoin="round" stroke-linecap="round" />
<path d="M965.8,622.4 L1004.4,638.7" fill="none" stroke="#000" stroke-width="2.4" stroke-linejoin="round" stroke-linecap="round" />
<ellipse cx="1009.4" cy="627.1" rx="5.3" ry="12.6" transform="rotate(22.91378056430903 1009.4 627.1)" fill="#fff" stroke="#000" stroke-width="2.4" />
<path d="M976.1,600.4 L1009.3,614.5" fill="none" stroke="#000" stroke-width="1.5" stroke-linejoin="round" stroke-linecap="round" />
<path d="M973.5,602.3 L1006.6,616.3" fill="none" stroke="#000" stroke-width="1.5" stroke-linejoin="round" stroke-linecap="round" />
<path d="M970.8,605.6 L1004.0,619.6" fill="none" stroke="#000" stroke-width="1.5" stroke-linejoin="round" stroke-linecap="round" />
<path d="M968.6,609.9 L1001.7,623.9" fill="none" stroke="#000" stroke-width="1.5" stroke-linejoin="round" stroke-linecap="round" />
<path d="M967.1,614.5 L1000.2,628.5" fill="none" stroke="#000" stroke-width="1.5" stroke-linejoin="round" stroke-linecap="round" />
<path d="M966.5,618.7 L999.7,632.7" fill="none" stroke="#000" stroke-width="1.5" stroke-linejoin="round" stroke-linecap="round" />
<path d="M967.0,621.9 L1000.2,635.9" fill="none" stroke="#000" stroke-width="1.5" stroke-linejoin="round" stroke-linecap="round" />
<path d="M978.3,600.3 L982.0,601.9 L972.2,625.1 L968.5,623.6Z" fill="#fff" stroke="#000" stroke-width="0.1" stroke-linejoin="round" stroke-linecap="round" />
<path d="M968.5,623.6 L967.4,622.6 L966.7,621.0 L966.5,618.7 L966.8,616.0 L967.5,613.0 L968.6,609.9 L970.0,607.0 L971.7,604.4 L973.5,602.3 L975.2,600.9 L976.9,600.2 L978.3,600.3" fill="none" stroke="#000" stroke-width="2.4" stroke-linejoin="round" stroke-linecap="round" />
<path d="M972.2,625.1 L971.1,624.2 L970.4,622.5 L970.2,620.3 L970.4,617.5 L971.1,614.5 L972.2,611.4 L973.7,608.5 L975.3,605.9 L977.1,603.8 L978.9,602.4 L980.6,601.8 L982.0,601.9" fill="none" stroke="#000" stroke-width="2.4" stroke-linejoin="round" stroke-linecap="round" />
<path d="M977.1,600.7 L979.3,601.6" fill="none" stroke="#000" stroke-width="1.3" stroke-linejoin="round" stroke-linecap="round" />
<path d="M974.8,602.0 L977.0,603.0" fill="none" stroke="#000" stroke-width="1.3" stroke-linejoin="round" stroke-linecap="round" />
<path d="M972.4,604.7 L974.6,605.6" fill="none" stroke="#000" stroke-width="1.3" stroke-linejoin="round" stroke-linecap="round" />
<path d="M970.2,608.2 L972.4,609.2" fill="none" stroke="#000" stroke-width="1.3" stroke-linejoin="round" stroke-linecap="round" />
<path d="M968.5,612.3 L970.7,613.2" fill="none" stroke="#000" stroke-width="1.3" stroke-linejoin="round" stroke-linecap="round" />
<path d="M967.5,616.3 L969.7,617.2" fill="none" stroke="#000" stroke-width="1.3" stroke-linejoin="round" stroke-linecap="round" />
<path d="M967.3,619.8 L969.5,620.8" fill="none" stroke="#000" stroke-width="1.3" stroke-linejoin="round" stroke-linecap="round" />
<path d="M967.9,622.5 L970.1,623.4" fill="none" stroke="#000" stroke-width="1.3" stroke-linejoin="round" stroke-linecap="round" />
<path d="M996.8,608.1 L1001.4,610.1 L991.6,633.3 L986.9,631.3Z" fill="#fff" stroke="#000" stroke-width="0.1" stroke-linejoin="round" stroke-linecap="round" />
<path d="M986.9,631.3 L985.9,630.4 L985.2,628.8 L984.9,626.5 L985.2,623.8 L985.9,620.8 L987.0,617.7 L988.4,614.7 L990.1,612.2 L991.9,610.1 L993.7,608.7 L995.3,608.0 L996.8,608.1" fill="none" stroke="#000" stroke-width="2.4" stroke-linejoin="round" stroke-linecap="round" />
<path d="M991.6,633.3 L990.5,632.4 L989.8,630.7 L989.5,628.4 L989.8,625.7 L990.5,622.7 L991.6,619.6 L993.0,616.7 L994.7,614.1 L996.5,612.0 L998.3,610.6 L999.9,609.9 L1001.4,610.1" fill="none" stroke="#000" stroke-width="2.4" stroke-linejoin="round" stroke-linecap="round" />
<path d="M995.5,608.4 L998.7,609.8" fill="none" stroke="#000" stroke-width="1.3" stroke-linejoin="round" stroke-linecap="round" />
<path d="M993.2,609.8 L996.3,611.2" fill="none" stroke="#000" stroke-width="1.3" stroke-linejoin="round" stroke-linecap="round" />
<path d="M990.8,612.5 L994.0,613.8" fill="none" stroke="#000" stroke-width="1.3" stroke-linejoin="round" stroke-linecap="round" />
<path d="M988.6,616.0 L991.8,617.3" fill="none" stroke="#000" stroke-width="1.3" stroke-linejoin="round" stroke-linecap="round" />
<path d="M986.9,620.0 L990.1,621.4" fill="none" stroke="#000" stroke-width="1.3" stroke-linejoin="round" stroke-linecap="round" />
<path d="M985.9,624.1 L989.0,625.4" fill="none" stroke="#000" stroke-width="1.3" stroke-linejoin="round" stroke-linecap="round" />
<path d="M985.7,627.6 L988.8,628.9" fill="none" stroke="#000" stroke-width="1.3" stroke-linejoin="round" stroke-linecap="round" />
<path d="M986.3,630.3 L989.4,631.6" fill="none" stroke="#000" stroke-width="1.3" stroke-linejoin="round" stroke-linecap="round" />
<ellipse cx="1009.4" cy="627.1" rx="5.3" ry="12.6" transform="rotate(22.91378056430903 1009.4 627.1)" fill="#fff" stroke="#000" stroke-width="2.4" />
<ellipse cx="1009.4" cy="627.4" rx="2.2" ry="3.2" transform="rotate(22.91378056430903 1009.4 627.4)" fill="#fff" stroke="#000" stroke-width="1.6" />
<ellipse cx="864.0" cy="335.0" rx="5.3" ry="12.6" transform="rotate(22.91378056430903 864.0 335.0)" fill="#fff" stroke="#000" stroke-width="2.4" />
<path d="M868.9,323.4 L905.7,339.0 L895.9,362.2 L859.1,346.6Z" fill="#fff" stroke="#000" stroke-width="0.1" stroke-linejoin="round" stroke-linecap="round" />
<path d="M868.9,323.4 L905.7,339.0" fill="none" stroke="#000" stroke-width="2.4" stroke-linejoin="round" stroke-linecap="round" />
<path d="M859.1,346.6 L895.9,362.2" fill="none" stroke="#000" stroke-width="2.4" stroke-linejoin="round" stroke-linecap="round" />
<path d="M869.4,324.7 L901.7,338.3" fill="none" stroke="#000" stroke-width="1.5" stroke-linejoin="round" stroke-linecap="round" />
<path d="M866.8,326.5 L899.0,340.1" fill="none" stroke="#000" stroke-width="1.5" stroke-linejoin="round" stroke-linecap="round" />
<path d="M864.1,329.8 L896.4,343.5" fill="none" stroke="#000" stroke-width="1.5" stroke-linejoin="round" stroke-linecap="round" />
<path d="M861.9,334.1 L894.1,347.7" fill="none" stroke="#000" stroke-width="1.5" stroke-linejoin="round" stroke-linecap="round" />
<path d="M860.4,338.7 L892.6,352.3" fill="none" stroke="#000" stroke-width="1.5" stroke-linejoin="round" stroke-linecap="round" />
<path d="M859.8,342.9 L892.1,356.5" fill="none" stroke="#000" stroke-width="1.5" stroke-linejoin="round" stroke-linecap="round" />
<path d="M860.4,346.1 L892.6,359.7" fill="none" stroke="#000" stroke-width="1.5" stroke-linejoin="round" stroke-linecap="round" />
<path d="M865.5,349.3 L864.4,348.4 L863.8,346.7 L863.5,344.5 L863.8,341.7 L864.5,338.7 L865.6,335.7 L867.0,332.7 L868.7,330.1 L870.5,328.1 L872.3,326.6 L873.9,326.0 L875.4,326.1" fill="none" stroke="#000" stroke-width="2.4" stroke-linejoin="round" stroke-linecap="round" />
<path d="M868.3,350.5 L867.2,349.6 L866.5,347.9 L866.3,345.6 L866.5,342.9 L867.2,339.9 L868.3,336.8 L869.8,333.9 L871.4,331.3 L873.2,329.2 L875.0,327.8 L876.7,327.1 L878.1,327.3" fill="none" stroke="#000" stroke-width="2.4" stroke-linejoin="round" stroke-linecap="round" />
<path d="M883.0,356.7 L881.9,355.8 L881.3,354.1 L881.0,351.9 L881.3,349.1 L882.0,346.1 L883.1,343.1 L884.5,340.1 L886.2,337.5 L888.0,335.5 L889.8,334.0 L891.4,333.4 L892.9,333.5" fill="none" stroke="#000" stroke-width="2.4" stroke-linejoin="round" stroke-linecap="round" />
<path d="M889.5,359.5 L888.4,358.5 L887.7,356.9 L887.5,354.6 L887.7,351.9 L888.4,348.9 L889.5,345.8 L891.0,342.9 L892.6,340.3 L894.4,338.2 L896.2,336.8 L897.9,336.1 L899.3,336.2" fill="none" stroke="#000" stroke-width="2.4" stroke-linejoin="round" stroke-linecap="round" />
<path d="M875.4,326.1 L878.1,327.3 L868.3,350.5 L865.5,349.3Z" fill="#fff" stroke="#000" stroke-width="0.1" stroke-linejoin="round" stroke-linecap="round" />
<path d="M865.5,349.3 L864.4,348.4 L863.8,346.7 L863.5,344.5 L863.8,341.7 L864.5,338.7 L865.6,335.7 L867.0,332.7 L868.7,330.1 L870.5,328.1 L872.3,326.6 L873.9,326.0 L875.4,326.1" fill="none" stroke="#000" stroke-width="2.4" stroke-linejoin="round" stroke-linecap="round" />
<path d="M868.3,350.5 L867.2,349.6 L866.5,347.9 L866.3,345.6 L866.5,342.9 L867.2,339.9 L868.3,336.8 L869.8,333.9 L871.4,331.3 L873.2,329.2 L875.0,327.8 L876.7,327.1 L878.1,327.3" fill="none" stroke="#000" stroke-width="2.4" stroke-linejoin="round" stroke-linecap="round" />
<ellipse cx="900.8" cy="350.6" rx="5.3" ry="12.6" transform="rotate(22.91378056430903 900.8 350.6)" fill="#fff" stroke="#000" stroke-width="2.4" />
<path d="M905.7,339.0 L909.1,341.4 L900.0,362.9 L895.9,362.2Z" fill="#fff" stroke="#000" stroke-width="0.1" stroke-linejoin="round" stroke-linecap="round" />
<path d="M905.7,339.0 L909.1,341.4" fill="none" stroke="#000" stroke-width="2.4" stroke-linejoin="round" stroke-linecap="round" />
<path d="M895.9,362.2 L900.0,362.9" fill="none" stroke="#000" stroke-width="2.4" stroke-linejoin="round" stroke-linecap="round" />
<ellipse cx="904.5" cy="352.1" rx="4.9" ry="11.7" transform="rotate(22.91378056430903 904.5 352.1)" fill="#fff" stroke="#000" stroke-width="2.4" />
<path d="M909.1,341.4 L954.2,360.4 L945.1,382.0 L900.0,362.9Z" fill="#fff" stroke="#000" stroke-width="0.1" stroke-linejoin="round" stroke-linecap="round" />
<path d="M909.1,341.4 L954.2,360.4" fill="none" stroke="#000" stroke-width="2.4" stroke-linejoin="round" stroke-linecap="round" />
<path d="M900.0,362.9 L945.1,382.0" fill="none" stroke="#000" stroke-width="2.4" stroke-linejoin="round" stroke-linecap="round" />
<ellipse cx="949.7" cy="371.2" rx="6.1" ry="14.6" transform="rotate(22.91378056430903 949.7 371.2)" fill="#fff" stroke="#000" stroke-width="2.4" />
<path d="M955.3,357.8 L987.6,371.4 L976.2,398.3 L944.0,384.7Z" fill="#fff" stroke="#000" stroke-width="0.1" stroke-linejoin="round" stroke-linecap="round" />
<path d="M955.3,357.8 L987.6,371.4" fill="none" stroke="#000" stroke-width="2.4" stroke-linejoin="round" stroke-linecap="round" />
<path d="M944.0,384.7 L976.2,398.3" fill="none" stroke="#000" stroke-width="2.4" stroke-linejoin="round" stroke-linecap="round" />
<ellipse cx="981.9" cy="384.8" rx="6.1" ry="14.6" transform="rotate(22.91378056430903 981.9 384.8)" fill="#fff" stroke="#000" stroke-width="2.4" />
<path d="M950.4,387.4 L949.2,386.3 L948.4,384.4 L948.1,381.8 L948.4,378.6 L949.2,375.1 L950.5,371.5 L952.1,368.1 L954.1,365.1 L956.1,362.7 L958.2,361.1 L960.1,360.3 L961.8,360.5" fill="none" stroke="#000" stroke-width="1.8" stroke-linejoin="round" stroke-linecap="round" />
<path d="M951.8,388.0 L950.5,386.9 L949.7,385.0 L949.5,382.3 L949.8,379.2 L950.6,375.7 L951.8,372.1 L953.5,368.7 L955.4,365.7 L957.5,363.3 L959.6,361.7 L961.5,360.9 L963.2,361.1" fill="none" stroke="#000" stroke-width="1.8" stroke-linejoin="round" stroke-linecap="round" />
<path d="M957.8,390.5 L956.5,389.4 L955.7,387.5 L955.5,384.9 L955.7,381.7 L956.6,378.2 L957.8,374.7 L959.5,371.3 L961.4,368.3 L963.5,365.9 L965.6,364.2 L967.5,363.4 L969.2,363.6" fill="none" stroke="#000" stroke-width="1.8" stroke-linejoin="round" stroke-linecap="round" />
<path d="M959.2,391.1 L957.9,390.0 L957.1,388.1 L956.8,385.5 L957.1,382.3 L957.9,378.8 L959.2,375.2 L960.9,371.8 L962.8,368.8 L964.9,366.4 L967.0,364.8 L968.9,364.0 L970.5,364.2" fill="none" stroke="#000" stroke-width="1.8" stroke-linejoin="round" stroke-linecap="round" />
<path d="M965.2,393.6 L963.9,392.5 L963.1,390.6 L962.8,388.0 L963.1,384.8 L963.9,381.3 L965.2,377.8 L966.9,374.4 L968.8,371.4 L970.9,369.0 L972.9,367.3 L974.9,366.6 L976.5,366.7" fill="none" stroke="#000" stroke-width="1.8" stroke-linejoin="round" stroke-linecap="round" />
<path d="M966.5,394.2 L965.3,393.1 L964.5,391.2 L964.2,388.6 L964.5,385.4 L965.3,381.9 L966.6,378.4 L968.2,375.0 L970.2,372.0 L972.3,369.6 L974.3,367.9 L976.3,367.1 L977.9,367.3" fill="none" stroke="#000" stroke-width="1.8" stroke-linejoin="round" stroke-linecap="round" />
<ellipse cx="981.9" cy="384.8" rx="4.9" ry="11.7" transform="rotate(22.91378056430903 981.9 384.8)" fill="#fff" stroke="#000" stroke-width="2.4" />
<path d="M986.5,374.1 L1025.1,390.4 L1016.0,412.0 L977.3,395.6Z" fill="#fff" stroke="#000" stroke-width="0.1" stroke-linejoin="round" stroke-linecap="round" />
<path d="M986.5,374.1 L1025.1,390.4" fill="none" stroke="#000" stroke-width="2.4" stroke-linejoin="round" stroke-linecap="round" />
<path d="M977.3,395.6 L1016.0,412.0" fill="none" stroke="#000" stroke-width="2.4" stroke-linejoin="round" stroke-linecap="round" />
<ellipse cx="1028.0" cy="404.3" rx="4.9" ry="11.7" transform="rotate(22.91378056430903 1028.0 404.3)" fill="#fff" stroke="#000" stroke-width="2.4" />
<path d="M1032.5,393.5 L1050.0,400.9 L1040.9,422.5 L1023.4,415.1Z" fill="#fff" stroke="#000" stroke-width="0.1" stroke-linejoin="round" stroke-linecap="round" />
<path d="M1032.5,393.5 L1050.0,400.9" fill="none" stroke="#000" stroke-width="2.4" stroke-linejoin="round" stroke-linecap="round" />
<path d="M1023.4,415.1 L1040.9,422.5" fill="none" stroke="#000" stroke-width="2.4" stroke-linejoin="round" stroke-linecap="round" />
<path d="M1026.0,383.2 C1026.4,384.4 1029.1,388.0 1028.3,390.7 C1027.5,393.4 1022.4,396.6 1021.4,399.3 C1020.4,402.1 1023.1,405.2 1022.3,407.4 C1021.6,409.5 1019.3,411.4 1017.0,412.4 C1014.6,413.3 1009.5,412.8 1008.0,412.9" fill="none" stroke="#000" stroke-width="1.8" stroke-linejoin="round" stroke-linecap="round" />
<path d="M1032.5,385.9 C1032.9,387.2 1035.5,390.7 1034.7,393.4 C1034.0,396.1 1028.8,399.3 1027.8,402.1 C1026.8,404.9 1029.5,407.9 1028.8,410.1 C1028.0,412.2 1025.8,414.2 1023.4,415.1 C1021.0,416.0 1016.0,415.6 1014.5,415.6" fill="none" stroke="#000" stroke-width="1.8" stroke-linejoin="round" stroke-linecap="round" />
<path d="M1026.1,390.8 L1032.5,393.5 L1023.4,415.1 L1017.9,412.7Z" fill="#fff" stroke="#000" stroke-width="0.1" stroke-linejoin="round" stroke-linecap="round" />
<ellipse cx="1045.5" cy="411.7" rx="6.1" ry="14.6" transform="rotate(22.91378056430903 1045.5 411.7)" fill="#fff" stroke="#000" stroke-width="2.4" />
<path d="M1051.1,398.3 L1079.7,410.3 L1068.3,437.2 L1039.8,425.1Z" fill="#fff" stroke="#000" stroke-width="0.1" stroke-linejoin="round" stroke-linecap="round" />
<path d="M1051.1,398.3 L1079.7,410.3" fill="none" stroke="#000" stroke-width="2.4" stroke-linejoin="round" stroke-linecap="round" />
<path d="M1039.8,425.1 L1068.3,437.2" fill="none" stroke="#000" stroke-width="2.4" stroke-linejoin="round" stroke-linecap="round" />
<ellipse cx="1074.0" cy="423.8" rx="6.1" ry="14.6" transform="rotate(22.91378056430903 1074.0 423.8)" fill="#fff" stroke="#000" stroke-width="2.4" />
<path d="M1046.2,427.9 L1045.0,426.8 L1044.2,424.9 L1043.9,422.2 L1044.2,419.1 L1045.0,415.6 L1046.3,412.0 L1047.9,408.6 L1049.9,405.6 L1051.9,403.2 L1054.0,401.6 L1055.9,400.8 L1057.6,401.0" fill="none" stroke="#000" stroke-width="1.8" stroke-linejoin="round" stroke-linecap="round" />
<path d="M1047.6,428.5 L1046.3,427.4 L1045.5,425.5 L1045.3,422.8 L1045.6,419.7 L1046.4,416.2 L1047.6,412.6 L1049.3,409.2 L1051.2,406.2 L1053.3,403.8 L1055.4,402.2 L1057.3,401.4 L1059.0,401.6" fill="none" stroke="#000" stroke-width="1.8" stroke-linejoin="round" stroke-linecap="round" />
<path d="M1053.6,431.0 L1052.3,429.9 L1051.5,428.0 L1051.3,425.4 L1051.5,422.2 L1052.3,418.7 L1053.6,415.2 L1055.3,411.8 L1057.2,408.7 L1059.3,406.3 L1061.4,404.7 L1063.3,403.9 L1065.0,404.1" fill="none" stroke="#000" stroke-width="1.8" stroke-linejoin="round" stroke-linecap="round" />
<path d="M1055.0,431.6 L1053.7,430.5 L1052.9,428.6 L1052.6,425.9 L1052.9,422.8 L1053.7,419.3 L1055.0,415.7 L1056.7,412.3 L1058.6,409.3 L1060.7,406.9 L1062.8,405.3 L1064.7,404.5 L1066.3,404.7" fill="none" stroke="#000" stroke-width="1.8" stroke-linejoin="round" stroke-linecap="round" />
<path d="M1061.0,434.1 L1059.7,433.0 L1058.9,431.1 L1058.6,428.5 L1058.9,425.3 L1059.7,421.8 L1061.0,418.3 L1062.7,414.9 L1064.6,411.9 L1066.7,409.5 L1068.7,407.8 L1070.7,407.0 L1072.3,407.2" fill="none" stroke="#000" stroke-width="1.8" stroke-linejoin="round" stroke-linecap="round" />
<path d="M1062.3,434.7 L1061.1,433.6 L1060.3,431.7 L1060.0,429.1 L1060.3,425.9 L1061.1,422.4 L1062.4,418.9 L1064.0,415.5 L1066.0,412.4 L1068.0,410.0 L1070.1,408.4 L1072.1,407.6 L1073.7,407.8" fill="none" stroke="#000" stroke-width="1.8" stroke-linejoin="round" stroke-linecap="round" />
<ellipse cx="1074.0" cy="423.8" rx="5.2" ry="12.3" transform="rotate(22.91378056430903 1074.0 423.8)" fill="#fff" stroke="#000" stroke-width="2.4" />
<path d="M1078.8,412.4 L1129.5,433.9 L1119.9,456.5 L1069.2,435.1Z" fill="#fff" stroke="#000" stroke-width="0.1" stroke-linejoin="round" stroke-linecap="round" />
<path d="M1078.8,412.4 L1129.5,433.9" fill="none" stroke="#000" stroke-width="2.4" stroke-linejoin="round" stroke-linecap="round" />
<path d="M1069.2,435.1 L1119.9,456.5" fill="none" stroke="#000" stroke-width="2.4" stroke-linejoin="round" stroke-linecap="round" />
<ellipse cx="1124.7" cy="445.2" rx="5.3" ry="12.6" transform="rotate(22.91378056430903 1124.7 445.2)" fill="#fff" stroke="#000" stroke-width="2.4" />
<path d="M1129.6,433.6 L1168.3,449.9 L1158.4,473.1 L1119.8,456.8Z" fill="#fff" stroke="#000" stroke-width="0.1" stroke-linejoin="round" stroke-linecap="round" />
<path d="M1129.6,433.6 L1168.3,449.9" fill="none" stroke="#000" stroke-width="2.4" stroke-linejoin="round" stroke-linecap="round" />
<path d="M1119.8,456.8 L1158.4,473.1" fill="none" stroke="#000" stroke-width="2.4" stroke-linejoin="round" stroke-linecap="round" />
<ellipse cx="1163.4" cy="461.5" rx="5.3" ry="12.6" transform="rotate(22.91378056430903 1163.4 461.5)" fill="#fff" stroke="#000" stroke-width="2.4" />
<path d="M1130.1,434.8 L1163.3,448.9" fill="none" stroke="#000" stroke-width="1.5" stroke-linejoin="round" stroke-linecap="round" />
<path d="M1127.5,436.7 L1160.6,450.7" fill="none" stroke="#000" stroke-width="1.5" stroke-linejoin="round" stroke-linecap="round" />
<path d="M1124.8,440.0 L1158.0,454.0" fill="none" stroke="#000" stroke-width="1.5" stroke-linejoin="round" stroke-linecap="round" />
<path d="M1122.6,444.3 L1155.7,458.3" fill="none" stroke="#000" stroke-width="1.5" stroke-linejoin="round" stroke-linecap="round" />
<path d="M1121.1,448.9 L1154.2,462.9" fill="none" stroke="#000" stroke-width="1.5" stroke-linejoin="round" stroke-linecap="round" />
<path d="M1120.5,453.1 L1153.7,467.1" fill="none" stroke="#000" stroke-width="1.5" stroke-linejoin="round" stroke-linecap="round" />
<path d="M1121.0,456.3 L1154.2,470.3" fill="none" stroke="#000" stroke-width="1.5" stroke-linejoin="round" stroke-linecap="round" />
<path d="M1132.3,434.7 L1136.0,436.3 L1126.2,459.5 L1122.5,458.0Z" fill="#fff" stroke="#000" stroke-width="0.1" stroke-linejoin="round" stroke-linecap="round" />
<path d="M1122.5,458.0 L1121.4,457.0 L1120.7,455.4 L1120.5,453.1 L1120.8,450.4 L1121.5,447.4 L1122.6,444.3 L1124.0,441.4 L1125.7,438.8 L1127.5,436.7 L1129.2,435.3 L1130.9,434.6 L1132.3,434.7" fill="none" stroke="#000" stroke-width="2.4" stroke-linejoin="round" stroke-linecap="round" />
<path d="M1126.2,459.5 L1125.1,458.6 L1124.4,456.9 L1124.2,454.7 L1124.4,451.9 L1125.1,448.9 L1126.2,445.8 L1127.7,442.9 L1129.3,440.3 L1131.1,438.2 L1132.9,436.8 L1134.6,436.2 L1136.0,436.3" fill="none" stroke="#000" stroke-width="2.4" stroke-linejoin="round" stroke-linecap="round" />
<path d="M1131.1,435.1 L1133.3,436.0" fill="none" stroke="#000" stroke-width="1.3" stroke-linejoin="round" stroke-linecap="round" />
<path d="M1128.8,436.4 L1131.0,437.4" fill="none" stroke="#000" stroke-width="1.3" stroke-linejoin="round" stroke-linecap="round" />
<path d="M1126.4,439.1 L1128.6,440.0" fill="none" stroke="#000" stroke-width="1.3" stroke-linejoin="round" stroke-linecap="round" />
<path d="M1124.2,442.6 L1126.4,443.6" fill="none" stroke="#000" stroke-width="1.3" stroke-linejoin="round" stroke-linecap="round" />
<path d="M1122.5,446.7 L1124.7,447.6" fill="none" stroke="#000" stroke-width="1.3" stroke-linejoin="round" stroke-linecap="round" />
<path d="M1121.5,450.7 L1123.7,451.6" fill="none" stroke="#000" stroke-width="1.3" stroke-linejoin="round" stroke-linecap="round" />
<path d="M1121.3,454.2 L1123.5,455.2" fill="none" stroke="#000" stroke-width="1.3" stroke-linejoin="round" stroke-linecap="round" />
<path d="M1121.9,456.9 L1124.1,457.8" fill="none" stroke="#000" stroke-width="1.3" stroke-linejoin="round" stroke-linecap="round" />
<path d="M1150.8,442.5 L1155.4,444.5 L1145.6,467.7 L1140.9,465.7Z" fill="#fff" stroke="#000" stroke-width="0.1" stroke-linejoin="round" stroke-linecap="round" />
<path d="M1140.9,465.7 L1139.9,464.8 L1139.2,463.2 L1138.9,460.9 L1139.2,458.2 L1139.9,455.2 L1141.0,452.1 L1142.4,449.1 L1144.1,446.6 L1145.9,444.5 L1147.7,443.1 L1149.3,442.4 L1150.8,442.5" fill="none" stroke="#000" stroke-width="2.4" stroke-linejoin="round" stroke-linecap="round" />
<path d="M1145.6,467.7 L1144.5,466.8 L1143.8,465.1 L1143.5,462.8 L1143.8,460.1 L1144.5,457.1 L1145.6,454.0 L1147.0,451.1 L1148.7,448.5 L1150.5,446.4 L1152.3,445.0 L1153.9,444.3 L1155.4,444.5" fill="none" stroke="#000" stroke-width="2.4" stroke-linejoin="round" stroke-linecap="round" />
<path d="M1149.5,442.8 L1152.7,444.2" fill="none" stroke="#000" stroke-width="1.3" stroke-linejoin="round" stroke-linecap="round" />
<path d="M1147.2,444.2 L1150.3,445.6" fill="none" stroke="#000" stroke-width="1.3" stroke-linejoin="round" stroke-linecap="round" />
<path d="M1144.8,446.9 L1148.0,448.2" fill="none" stroke="#000" stroke-width="1.3" stroke-linejoin="round" stroke-linecap="round" />
<path d="M1142.6,450.4 L1145.8,451.7" fill="none" stroke="#000" stroke-width="1.3" stroke-linejoin="round" stroke-linecap="round" />
<path d="M1140.9,454.4 L1144.1,455.8" fill="none" stroke="#000" stroke-width="1.3" stroke-linejoin="round" stroke-linecap="round" />
<path d="M1139.9,458.5 L1143.0,459.8" fill="none" stroke="#000" stroke-width="1.3" stroke-linejoin="round" stroke-linecap="round" />
<path d="M1139.7,462.0 L1142.8,463.3" fill="none" stroke="#000" stroke-width="1.3" stroke-linejoin="round" stroke-linecap="round" />
<path d="M1140.3,464.7 L1143.4,466.0" fill="none" stroke="#000" stroke-width="1.3" stroke-linejoin="round" stroke-linecap="round" />
<ellipse cx="1163.4" cy="461.5" rx="5.3" ry="12.6" transform="rotate(22.91378056430903 1163.4 461.5)" fill="#fff" stroke="#000" stroke-width="2.4" />
<ellipse cx="1163.4" cy="461.8" rx="2.2" ry="3.2" transform="rotate(22.91378056430903 1163.4 461.8)" fill="#fff" stroke="#000" stroke-width="1.6" />
<ellipse cx="1040.5" cy="641.6" rx="15.2" ry="20.5" transform="rotate(16 1040.5 641.6)" fill="#fff" stroke="#000" stroke-width="2.4" />
<path d="M1046.0,622.4 L1061.5,628.2 L1050.5,666.6 L1035.0,660.8Z" fill="#fff" stroke="#000" stroke-width="0.1" stroke-linejoin="round" stroke-linecap="round" />
<path d="M1046.0,622.1 L1061.5,628.0" fill="none" stroke="#000" stroke-width="2.4" stroke-linejoin="round" stroke-linecap="round" />
<path d="M1035.0,661.0 L1050.5,666.8" fill="none" stroke="#000" stroke-width="2.4" stroke-linejoin="round" stroke-linecap="round" />
<path d="M1039.0,643.3h0.1M1041.2,646.2h0.1M1052.0,629.1h0.1M1042.5,632.7h0.1M1052.4,644.6h0.1M1051.4,632.2h0.1M1044.2,657.0h0.1M1043.1,651.9h0.1M1053.0,629.4h0.1M1049.6,648.1h0.1M1053.0,644.7h0.1M1045.9,657.8h0.1M1045.3,659.3h0.1M1039.8,653.2h0.1M1039.5,658.1h0.1M1040.1,631.4h0.1M1055.5,644.0h0.1M1049.7,637.3h0.1M1046.3,639.5h0.1M1041.0,645.4h0.1M1042.8,657.9h0.1M1044.6,659.3h0.1M1052.0,632.8h0.1M1052.9,648.2h0.1M1052.4,634.7h0.1M1051.3,648.0h0.1M1046.6,630.8h0.1M1038.0,651.5h0.1M1051.9,628.3h0.1M1051.3,638.9h0.1M1045.2,627.6h0.1M1039.5,638.4h0.1M1050.7,632.2h0.1M1054.6,641.6h0.1M1044.0,643.9h0.1M1047.1,647.6h0.1M1045.1,647.9h0.1M1054.2,646.3h0.1M1041.4,650.6h0.1M1041.4,634.9h0.1M1042.4,645.7h0.1M1052.2,629.0h0.1M1048.0,643.0h0.1M1050.3,639.4h0.1M1047.0,652.9h0.1" stroke="#000" stroke-width="1.3" stroke-linecap="round" fill="none"/>
<ellipse cx="1056.0" cy="647.4" rx="14.6" ry="19.8" transform="rotate(16 1056.0 647.4)" fill="#fff" stroke="#000" stroke-width="2.4" />
<ellipse cx="1056.0" cy="648.2" rx="9.0" ry="14.0" transform="rotate(16 1056.0 648.2)" fill="#fff" stroke="#000" stroke-width="2.4" />
<path d="M1049.6,651.7h0.1M1058.2,648.0h0.1M1055.4,648.1h0.1M1049.7,654.8h0.1M1052.1,657.3h0.1M1056.9,639.0h0.1M1049.3,649.5h0.1M1053.3,651.6h0.1M1052.6,652.2h0.1M1055.0,651.8h0.1M1060.9,651.8h0.1M1062.1,649.9h0.1M1055.5,654.0h0.1M1062.5,644.9h0.1M1051.6,656.6h0.1M1049.3,653.1h0.1M1049.3,651.2h0.1M1060.6,649.8h0.1" stroke="#000" stroke-width="1.3" stroke-linecap="round" fill="none"/>
<ellipse cx="829.5" cy="318.7" rx="15.2" ry="20.5" transform="rotate(16 829.5 318.7)" fill="#fff" stroke="#000" stroke-width="2.4" />
<path d="M835.0,299.5 L850.5,305.3 L839.5,343.7 L824.0,337.9Z" fill="#fff" stroke="#000" stroke-width="0.1" stroke-linejoin="round" stroke-linecap="round" />
<path d="M835.0,299.2 L850.5,305.1" fill="none" stroke="#000" stroke-width="2.4" stroke-linejoin="round" stroke-linecap="round" />
<path d="M824.0,338.1 L839.5,343.9" fill="none" stroke="#000" stroke-width="2.4" stroke-linejoin="round" stroke-linecap="round" />
<path d="M835.2,307.9h0.1M825.8,314.5h0.1M842.4,312.5h0.1M837.0,313.0h0.1M837.9,333.1h0.1M843.4,311.7h0.1M828.7,323.7h0.1M835.4,334.2h0.1M834.5,327.1h0.1M837.3,309.4h0.1M837.5,306.1h0.1M837.0,313.9h0.1M841.9,325.5h0.1M835.0,317.6h0.1M836.8,318.7h0.1M828.8,311.7h0.1M823.2,322.1h0.1M829.0,320.4h0.1M835.0,314.9h0.1M835.1,309.7h0.1M839.0,313.6h0.1M828.5,328.2h0.1M829.6,321.4h0.1M838.5,326.1h0.1M830.1,313.1h0.1M827.6,317.1h0.1M827.7,335.3h0.1M833.4,332.2h0.1M832.7,308.6h0.1M836.4,307.6h0.1M841.4,317.5h0.1M833.6,305.3h0.1M841.2,309.4h0.1M824.4,317.4h0.1M825.7,319.2h0.1M840.7,319.0h0.1M829.4,315.8h0.1M825.0,315.0h0.1M824.8,332.4h0.1M841.0,322.5h0.1M831.4,308.8h0.1M824.7,331.7h0.1M842.4,325.4h0.1M841.0,328.3h0.1M837.7,330.7h0.1" stroke="#000" stroke-width="1.3" stroke-linecap="round" fill="none"/>
<ellipse cx="845.0" cy="324.5" rx="14.6" ry="19.8" transform="rotate(16 845.0 324.5)" fill="#fff" stroke="#000" stroke-width="2.4" />
<ellipse cx="845.0" cy="325.3" rx="9.0" ry="14.0" transform="rotate(16 845.0 325.3)" fill="#fff" stroke="#000" stroke-width="2.4" />
<path d="M845.3,322.4h0.1M845.0,328.4h0.1M848.1,325.2h0.1M850.3,318.5h0.1M844.0,315.5h0.1M842.3,335.3h0.1M844.4,332.2h0.1M841.8,330.7h0.1M841.0,319.1h0.1M845.9,331.4h0.1M846.7,315.7h0.1M843.8,317.9h0.1M840.0,331.8h0.1M843.4,324.8h0.1M848.8,317.1h0.1M843.4,334.9h0.1M839.1,324.8h0.1M842.2,335.2h0.1" stroke="#000" stroke-width="1.3" stroke-linecap="round" fill="none"/>
<ellipse cx="662.0" cy="476.0" rx="31.0" ry="39.0" transform="rotate(15 662.0 476.0)" fill="#fff" stroke="#000" stroke-width="2.4" />
<ellipse cx="674.0" cy="477.5" rx="31.0" ry="39.0" transform="rotate(15 674.0 477.5)" fill="#fff" stroke="#000" stroke-width="2.4" />
<path d="M662.0,449.0h0.1M684.3,449.0h0.1M638.2,470.0h0.1M638.3,464.4h0.1M655.4,499.1h0.1M647.8,450.8h0.1M666.0,511.2h0.1M693.4,468.1h0.1M648.2,496.3h0.1M644.6,477.4h0.1M677.9,446.6h0.1M681.5,496.3h0.1M648.8,477.9h0.1M660.9,504.2h0.1M685.2,465.8h0.1M656.4,494.0h0.1M644.5,470.3h0.1M682.0,486.7h0.1M694.0,470.1h0.1M691.1,467.1h0.1M647.7,452.6h0.1M652.4,501.7h0.1M640.7,466.2h0.1M662.3,505.2h0.1M654.0,467.2h0.1M650.1,502.0h0.1M651.0,452.3h0.1M649.8,471.4h0.1M676.7,461.6h0.1M638.7,479.8h0.1M654.4,447.9h0.1M643.7,460.4h0.1M680.5,453.8h0.1M653.6,461.9h0.1M665.1,447.7h0.1M661.0,457.5h0.1M693.9,458.4h0.1M675.1,452.2h0.1M685.9,497.2h0.1M653.8,463.4h0.1M640.1,490.8h0.1M663.2,497.5h0.1M660.9,454.3h0.1M683.1,504.9h0.1M682.2,499.6h0.1M648.7,473.6h0.1M647.5,486.6h0.1M696.6,481.0h0.1M653.9,452.7h0.1M652.8,450.7h0.1M666.7,507.7h0.1M688.6,481.3h0.1M670.5,501.0h0.1M637.0,481.4h0.1M682.9,479.7h0.1M640.5,492.2h0.1M650.1,495.6h0.1M651.7,507.3h0.1M687.2,457.3h0.1M659.9,508.4h0.1M655.2,502.4h0.1M692.8,461.9h0.1M654.6,458.0h0.1M648.3,478.7h0.1M652.7,467.1h0.1M664.1,507.3h0.1M653.4,505.5h0.1M668.8,453.3h0.1M646.1,469.5h0.1M664.6,498.3h0.1M640.2,474.6h0.1M654.7,456.8h0.1M683.7,482.2h0.1M665.5,496.6h0.1M693.9,480.0h0.1M656.6,508.2h0.1M672.0,507.3h0.1M661.8,509.7h0.1M643.5,466.4h0.1M636.0,481.8h0.1M640.3,486.5h0.1M683.6,454.2h0.1M646.2,466.3h0.1M650.6,458.8h0.1M645.8,453.5h0.1M659.0,446.6h0.1M653.7,505.1h0.1M691.5,465.2h0.1M669.3,500.9h0.1M661.7,508.4h0.1M658.8,446.5h0.1M673.2,458.8h0.1M658.2,459.9h0.1M687.1,466.4h0.1M672.7,454.0h0.1M680.4,484.6h0.1M647.2,469.9h0.1M688.1,477.6h0.1M659.8,500.8h0.1M650.1,498.1h0.1M677.1,490.3h0.1M657.4,448.8h0.1M686.9,495.5h0.1M657.5,454.8h0.1M645.7,467.3h0.1M657.1,463.5h0.1M647.3,472.2h0.1M642.3,462.8h0.1M659.1,454.6h0.1M679.5,492.5h0.1M673.0,507.8h0.1M678.0,491.1h0.1M689.0,492.8h0.1M675.4,503.3h0.1M643.1,472.5h0.1M660.4,501.0h0.1M679.7,505.5h0.1M664.3,506.5h0.1M674.5,493.9h0.1M645.8,460.8h0.1M680.7,499.8h0.1M685.0,448.7h0.1M686.3,463.3h0.1M686.8,459.8h0.1M681.3,489.9h0.1M683.7,449.2h0.1M648.7,453.4h0.1M685.8,467.2h0.1M673.8,493.7h0.1M681.7,465.1h0.1M671.7,449.2h0.1M667.7,459.6h0.1M646.5,477.9h0.1M643.2,472.6h0.1M686.7,483.1h0.1M687.3,498.1h0.1M646.6,459.7h0.1M648.3,498.2h0.1M696.1,468.8h0.1M655.0,456.0h0.1M673.1,455.0h0.1M649.7,507.4h0.1M666.9,508.8h0.1M693.7,488.0h0.1M682.3,477.5h0.1M679.8,491.6h0.1M649.0,490.6h0.1M680.3,465.4h0.1M671.7,456.9h0.1M670.2,450.4h0.1M664.3,445.1h0.1M654.5,455.3h0.1M663.5,505.9h0.1M684.1,475.0h0.1M695.1,462.9h0.1M656.7,455.1h0.1M692.2,481.8h0.1M651.4,505.7h0.1M670.8,498.4h0.1M679.5,465.5h0.1M647.5,452.9h0.1M671.4,493.5h0.1M664.7,455.3h0.1M691.4,481.8h0.1M654.4,454.4h0.1M666.1,458.3h0.1M669.0,510.2h0.1M683.9,458.5h0.1M680.9,499.2h0.1M672.5,456.0h0.1" stroke="#000" stroke-width="1.4" stroke-linecap="round" fill="none"/>
<ellipse cx="683.0" cy="483.5" rx="21.0" ry="25.5" transform="rotate(15 683.0 483.5)" fill="#fff" stroke="#000" stroke-width="2.4" />
<ellipse cx="685.0" cy="484.5" rx="15.5" ry="19.5" transform="rotate(15 685.0 484.5)" fill="#fff" stroke="#000" stroke-width="1.7" />
<path d="M666.8,488.9h0.1M667.8,495.2h0.1M674.8,500.5h0.1M683.2,465.1h0.1M665.5,484.5h0.1M696.8,491.1h0.1M699.5,487.4h0.1M699.5,477.7h0.1M673.2,498.9h0.1M666.5,491.7h0.1M666.0,488.0h0.1M676.1,465.0h0.1M675.8,469.4h0.1M668.9,492.4h0.1M668.3,480.6h0.1M698.8,473.9h0.1M685.8,464.4h0.1M668.2,483.4h0.1M685.7,466.4h0.1M676.5,467.4h0.1M685.7,465.6h0.1M672.9,501.8h0.1M682.2,505.0h0.1M699.3,473.4h0.1M698.0,478.6h0.1M693.4,495.1h0.1M698.2,476.6h0.1M670.2,498.6h0.1M689.8,499.3h0.1M668.4,484.8h0.1M694.7,467.0h0.1M666.8,484.3h0.1M694.6,493.9h0.1M691.3,500.7h0.1M688.3,466.5h0.1M673.4,469.3h0.1M668.2,491.4h0.1M672.1,498.8h0.1M680.1,503.5h0.1M671.6,472.2h0.1" stroke="#000" stroke-width="1.3" stroke-linecap="round" fill="none"/>
<ellipse cx="688.0" cy="486.5" rx="10.3" ry="13.5" transform="rotate(15 688.0 486.5)" fill="#fff" stroke="#000" stroke-width="2.4" />
<path d="M691.5,473.5 L697.3,477.1 L690.7,501.9 L684.5,499.5Z" fill="#fff" stroke="#000" stroke-width="0.1" stroke-linejoin="round" stroke-linecap="round" />
<path d="M691.5,473.3 L697.3,476.9" fill="none" stroke="#000" stroke-width="2.4" stroke-linejoin="round" stroke-linecap="round" />
<path d="M684.5,499.7 L690.7,502.1" fill="none" stroke="#000" stroke-width="2.4" stroke-linejoin="round" stroke-linecap="round" />
<ellipse cx="694.0" cy="489.5" rx="9.7" ry="12.8" transform="rotate(15 694.0 489.5)" fill="#fff" stroke="#000" stroke-width="2.4" />
<ellipse cx="694.3" cy="489.7" rx="7.3" ry="10.0" transform="rotate(15 694.3 489.7)" fill="#fff" stroke="#000" stroke-width="1.7" />
<path d="M421.6,120.9 L445.8,127.5 L442.5,139.1 L420.6,131.0Z" fill="#fff" stroke="#000" stroke-width="2.4" stroke-linejoin="round" stroke-linecap="round" />
<ellipse cx="421.6" cy="125.9" rx="3.5" ry="5.0" transform="rotate(12 421.6 125.9)" fill="#fff" stroke="#000" stroke-width="2.4" />
<path d="M426.6,133.6 L426.2,133.4 L425.9,133.1 L425.6,132.7 L425.4,132.3 L425.2,131.8 L425.0,131.3 L424.9,130.7 L424.8,130.1 L424.8,129.4 L424.8,128.8 L424.9,128.1 L425.0,127.4 L425.1,126.8 L425.3,126.1 L425.6,125.5 L425.9,125.0 L426.2,124.4 L426.5,124.0 L426.9,123.5 L427.3,123.2 L427.7,122.9 L428.1,122.7 L428.6,122.5 L429.0,122.4" fill="none" stroke="#000" stroke-width="1.6" stroke-linejoin="round" stroke-linecap="round" />
<path d="M430.5,134.9 L430.1,134.7 L429.8,134.4 L429.5,134.0 L429.2,133.6 L429.0,133.1 L428.9,132.5 L428.7,132.0 L428.7,131.3 L428.6,130.7 L428.7,130.0 L428.7,129.4 L428.8,128.7 L429.0,128.1 L429.2,127.4 L429.5,126.8 L429.7,126.2 L430.1,125.7 L430.4,125.2 L430.8,124.8 L431.2,124.5 L431.6,124.2 L432.0,123.9 L432.4,123.8 L432.8,123.7" fill="none" stroke="#000" stroke-width="1.6" stroke-linejoin="round" stroke-linecap="round" />
<path d="M434.3,136.2 L434.0,135.9 L433.7,135.6 L433.4,135.3 L433.1,134.8 L432.9,134.4 L432.7,133.8 L432.6,133.2 L432.5,132.6 L432.5,132.0 L432.5,131.3 L432.6,130.7 L432.7,130.0 L432.9,129.3 L433.1,128.7 L433.3,128.1 L433.6,127.5 L433.9,127.0 L434.3,126.5 L434.7,126.1 L435.1,125.7 L435.5,125.4 L435.9,125.2 L436.3,125.1 L436.7,125.0" fill="none" stroke="#000" stroke-width="1.6" stroke-linejoin="round" stroke-linecap="round" />
<path d="M438.2,137.5 L437.9,137.2 L437.5,136.9 L437.2,136.6 L437.0,136.1 L436.8,135.6 L436.6,135.1 L436.5,134.5 L436.4,133.9 L436.4,133.3 L436.4,132.6 L436.5,131.9 L436.6,131.3 L436.7,130.6 L437.0,130.0 L437.2,129.4 L437.5,128.8 L437.8,128.3 L438.2,127.8 L438.5,127.4 L438.9,127.0 L439.3,126.7 L439.8,126.5 L440.2,126.3 L440.6,126.3" fill="none" stroke="#000" stroke-width="1.6" stroke-linejoin="round" stroke-linecap="round" />
<ellipse cx="445.2" cy="136.2" rx="5.2" ry="13.2" transform="rotate(12 445.2 136.2)" fill="#fff" stroke="#000" stroke-width="2.4" />
<path d="M448.1,123.4 L478.1,132.5 L469.6,160.6 L441.5,148.8Z" fill="#fff" stroke="#000" stroke-width="2.4" stroke-linejoin="round" stroke-linecap="round" />
<path d="M448.3,127.8 L476.9,136.5" fill="none" stroke="#000" stroke-width="1.5" stroke-linejoin="round" stroke-linecap="round" />
<path d="M447.4,131.4 L475.7,140.5" fill="none" stroke="#000" stroke-width="1.5" stroke-linejoin="round" stroke-linecap="round" />
<path d="M446.5,135.1 L474.5,144.5" fill="none" stroke="#000" stroke-width="1.5" stroke-linejoin="round" stroke-linecap="round" />
<path d="M445.5,138.7 L473.2,148.5" fill="none" stroke="#000" stroke-width="1.5" stroke-linejoin="round" stroke-linecap="round" />
<path d="M444.6,142.3 L472.0,152.5" fill="none" stroke="#000" stroke-width="1.5" stroke-linejoin="round" stroke-linecap="round" />
<path d="M443.6,145.9 L470.8,156.6" fill="none" stroke="#000" stroke-width="1.5" stroke-linejoin="round" stroke-linecap="round" />
<ellipse cx="489.3" cy="161.0" rx="20.3" ry="35.2" transform="rotate(13 489.3 161.0)" fill="#fff" stroke="#000" stroke-width="2.4" />
<ellipse cx="496.1" cy="162.3" rx="19.3" ry="36.0" transform="rotate(13 496.1 162.3)" fill="#fff" stroke="#000" stroke-width="2.4" />
<ellipse cx="501.9" cy="163.5" rx="19.3" ry="36.4" transform="rotate(13 501.9 163.5)" fill="#fff" stroke="#000" stroke-width="2.4" />
<path d="M486.4,196.9 L492.1,198.4" fill="none" stroke="#000" stroke-width="1.4" stroke-linejoin="round" stroke-linecap="round" />
<path d="M484.1,195.6 L489.8,197.1" fill="none" stroke="#000" stroke-width="1.4" stroke-linejoin="round" stroke-linecap="round" />
<path d="M481.9,193.6 L487.7,195.2" fill="none" stroke="#000" stroke-width="1.4" stroke-linejoin="round" stroke-linecap="round" />
<path d="M480.1,191.2 L485.8,192.7" fill="none" stroke="#000" stroke-width="1.4" stroke-linejoin="round" stroke-linecap="round" />
<path d="M478.5,188.2 L484.2,189.6" fill="none" stroke="#000" stroke-width="1.4" stroke-linejoin="round" stroke-linecap="round" />
<path d="M477.2,184.7 L483.0,186.1" fill="none" stroke="#000" stroke-width="1.4" stroke-linejoin="round" stroke-linecap="round" />
<path d="M476.3,180.8 L482.1,182.2" fill="none" stroke="#000" stroke-width="1.4" stroke-linejoin="round" stroke-linecap="round" />
<path d="M475.8,176.6 L481.5,177.9" fill="none" stroke="#000" stroke-width="1.4" stroke-linejoin="round" stroke-linecap="round" />
<path d="M475.6,172.1 L481.4,173.4" fill="none" stroke="#000" stroke-width="1.4" stroke-linejoin="round" stroke-linecap="round" />
<path d="M475.8,167.5 L481.6,168.7" fill="none" stroke="#000" stroke-width="1.4" stroke-linejoin="round" stroke-linecap="round" />
<path d="M476.3,162.7 L482.1,163.9" fill="none" stroke="#000" stroke-width="1.4" stroke-linejoin="round" stroke-linecap="round" />
<path d="M477.3,158.0 L483.1,159.1" fill="none" stroke="#000" stroke-width="1.4" stroke-linejoin="round" stroke-linecap="round" />
<path d="M478.5,153.3 L484.3,154.4" fill="none" stroke="#000" stroke-width="1.4" stroke-linejoin="round" stroke-linecap="round" />
<path d="M480.1,148.8 L485.9,149.8" fill="none" stroke="#000" stroke-width="1.4" stroke-linejoin="round" stroke-linecap="round" />
<path d="M482.0,144.5 L487.8,145.5" fill="none" stroke="#000" stroke-width="1.4" stroke-linejoin="round" stroke-linecap="round" />
<path d="M484.1,140.6 L489.9,141.5" fill="none" stroke="#000" stroke-width="1.4" stroke-linejoin="round" stroke-linecap="round" />
<path d="M486.4,137.0 L492.3,137.9" fill="none" stroke="#000" stroke-width="1.4" stroke-linejoin="round" stroke-linecap="round" />
<path d="M489.0,133.9 L494.8,134.8" fill="none" stroke="#000" stroke-width="1.4" stroke-linejoin="round" stroke-linecap="round" />
<path d="M491.6,131.4 L497.5,132.2" fill="none" stroke="#000" stroke-width="1.4" stroke-linejoin="round" stroke-linecap="round" />
<path d="M494.3,129.3 L500.2,130.2" fill="none" stroke="#000" stroke-width="1.4" stroke-linejoin="round" stroke-linecap="round" />
<path d="M497.1,127.9 L503.0,128.7" fill="none" stroke="#000" stroke-width="1.4" stroke-linejoin="round" stroke-linecap="round" />
<path d="M499.9,127.1 L505.7,127.9" fill="none" stroke="#000" stroke-width="1.4" stroke-linejoin="round" stroke-linecap="round" />
<path d="M502.5,127.0 L508.4,127.8" fill="none" stroke="#000" stroke-width="1.4" stroke-linejoin="round" stroke-linecap="round" />
<ellipse cx="508.7" cy="164.8" rx="19.3" ry="37.2" transform="rotate(13 508.7 164.8)" fill="#fff" stroke="#000" stroke-width="2.4" />
<ellipse cx="516.0" cy="166.4" rx="20.3" ry="37.9" transform="rotate(13 516.0 166.4)" fill="#fff" stroke="#000" stroke-width="2.4" />
<ellipse cx="530.9" cy="170.0" rx="23.6" ry="38.1" transform="rotate(13 530.9 170.0)" fill="#fff" stroke="#000" stroke-width="2.4" />
<ellipse cx="530.4" cy="170.6" rx="19.3" ry="31.9" transform="rotate(13 530.4 170.6)" fill="#fff" stroke="#000" stroke-width="1.7" />
<ellipse cx="529.0" cy="171.2" rx="15.5" ry="26.1" transform="rotate(13 529.0 171.2)" fill="#fff" stroke="#000" stroke-width="2.4" />
<ellipse cx="527.6" cy="172.0" rx="11.6" ry="20.3" transform="rotate(13 527.6 172.0)" fill="#fff" stroke="#000" stroke-width="1.7" />
<ellipse cx="526.1" cy="172.6" rx="7.7" ry="14.3" transform="rotate(13 526.1 172.6)" fill="#fff" stroke="#000" stroke-width="2.4" />
<ellipse cx="525.5" cy="173.1" rx="4.3" ry="8.9" transform="rotate(13 525.5 173.1)" fill="#fff" stroke="#000" stroke-width="1.6" />
<ellipse cx="563.3" cy="190.9" rx="10.6" ry="15.5" transform="rotate(10 563.3 190.9)" fill="#fff" stroke="#000" stroke-width="2.4" />
<ellipse cx="563.3" cy="190.9" rx="5.8" ry="10.4" transform="rotate(10 563.3 190.9)" fill="#fff" stroke="#000" stroke-width="2.4" />
<path d="M595.1,180.9 C593.9,182.5 590.0,186.5 587.8,190.3 C585.5,194.2 583.0,199.4 581.5,203.9 C580.0,208.5 579.1,213.2 578.9,217.5 C578.7,221.9 579.2,226.6 580.5,230.1 C581.8,233.6 584.6,236.7 586.7,238.5 C588.8,240.2 590.6,239.1 593.0,240.5 C595.5,241.9 598.2,245.6 601.4,246.8 C604.5,248.0 608.4,248.2 611.8,247.9 C615.3,247.5 618.8,246.6 622.3,244.7 C625.8,242.8 629.4,239.7 632.8,236.4 C636.1,233.0 639.6,228.9 642.2,224.9 C644.8,220.8 647.1,216.5 648.5,212.3 C649.8,208.1 649.9,203.6 650.0,199.7 C650.1,195.9 649.8,191.8 649.0,189.3 C648.2,186.8 647.0,185.9 645.3,184.6 C643.7,183.3 640.6,181.8 639.0,181.4 C637.5,181.1 636.4,182.3 635.9,182.5 L636.9,184.6 C637.2,186.2 638.7,190.8 638.5,194.5 C638.3,198.3 637.4,203.1 635.9,207.1 C634.4,211.1 632.2,214.9 629.6,218.6 C627.0,222.2 623.5,226.1 620.2,229.0 C616.9,232.0 613.1,234.6 609.7,236.4 C606.4,238.1 603.1,239.2 600.3,239.5 C597.5,239.8 594.7,239.7 593.0,237.9 C591.4,236.2 590.7,232.4 590.4,229.0 C590.0,225.6 590.3,221.5 590.9,217.5 C591.5,213.5 592.5,208.8 594.1,205.0 C595.6,201.1 597.9,197.7 600.3,194.5 C602.8,191.4 606.4,187.9 608.7,186.2 C611.0,184.4 613.1,184.4 613.9,184.1Z" fill="#fff" stroke="#000" stroke-width="2.4" stroke-linejoin="round" stroke-linecap="round" />
<path d="M595.6,175.7 L599.3,172.3 L613.9,171.7 L622.3,172.6 L625.4,178.3 L619.2,182.5 L609.7,186.2 L604.5,187.4 L595.6,180.9Z" fill="#fff" stroke="#000" stroke-width="2.4" stroke-linejoin="round" stroke-linecap="round" />
<path d="M605.6,173.1 L608.9,179.9 L605.6,186.7" fill="none" stroke="#000" stroke-width="1.8" stroke-linejoin="round" stroke-linecap="round" />
<path d="M611.8,172.3 L616.2,179.4 L611.8,185.1" fill="none" stroke="#000" stroke-width="1.8" stroke-linejoin="round" stroke-linecap="round" />
<path d="M599.3,175.7 L606.8,179.9" fill="none" stroke="#000" stroke-width="1.8" stroke-linejoin="round" stroke-linecap="round" />
<path d="M593.8,185.8 L601.4,182.5 L598.5,188.2" fill="none" stroke="#000" stroke-width="1.8" stroke-linejoin="round" stroke-linecap="round" />
<ellipse cx="674.5" cy="249.0" rx="28.8" ry="40.0" transform="rotate(14 674.5 249.0)" fill="#fff" stroke="#000" stroke-width="2.4" />
<ellipse cx="679.9" cy="251.2" rx="27.7" ry="38.5" transform="rotate(14 679.9 251.2)" fill="#fff" stroke="#000" stroke-width="1.8" />
<ellipse cx="685.3" cy="253.5" rx="25.6" ry="35.5" transform="rotate(14 685.3 253.5)" fill="#fff" stroke="#000" stroke-width="2.4" />
<ellipse cx="693.7" cy="257.0" rx="26.3" ry="36.5" transform="rotate(14 693.7 257.0)" fill="#fff" stroke="#000" stroke-width="1.8" />
<ellipse cx="701.4" cy="260.2" rx="23.0" ry="32.0" transform="rotate(14 701.4 260.2)" fill="#fff" stroke="#000" stroke-width="2.4" />
<ellipse cx="710.6" cy="264.1" rx="22.7" ry="31.5" transform="rotate(14 710.6 264.1)" fill="#fff" stroke="#000" stroke-width="1.8" />
<ellipse cx="717.5" cy="267.0" rx="19.4" ry="27.0" transform="rotate(14 717.5 267.0)" fill="#fff" stroke="#000" stroke-width="2.4" />
<ellipse cx="724.4" cy="269.9" rx="18.7" ry="26.0" transform="rotate(14 724.4 269.9)" fill="#fff" stroke="#000" stroke-width="1.8" />
<ellipse cx="730.6" cy="272.4" rx="15.5" ry="21.5" transform="rotate(14 730.6 272.4)" fill="#fff" stroke="#000" stroke-width="2.4" />
<ellipse cx="735.2" cy="274.4" rx="14.4" ry="20.0" transform="rotate(14 735.2 274.4)" fill="#fff" stroke="#000" stroke-width="1.8" />
<ellipse cx="740.5" cy="276.6" rx="9.4" ry="13.0" transform="rotate(14 740.5 276.6)" fill="#fff" stroke="#000" stroke-width="2.4" />
<ellipse cx="744.4" cy="278.2" rx="8.3" ry="11.5" transform="rotate(14 744.4 278.2)" fill="#fff" stroke="#000" stroke-width="1.8" />
<ellipse cx="747.5" cy="279.5" rx="6.8" ry="9.5" transform="rotate(14 747.5 279.5)" fill="#fff" stroke="#000" stroke-width="2.4" />
<ellipse cx="751.3" cy="281.1" rx="7.8" ry="10.8" transform="rotate(14 751.3 281.1)" fill="#fff" stroke="#000" stroke-width="1.8" />
<ellipse cx="751.5" cy="281.8" rx="3.8" ry="4.6" transform="rotate(14 751.5 281.8)" fill="#fff" stroke="#000" stroke-width="1.6" />
<path d="M768.8,283.2 C768.0,284.2 765.0,286.9 763.8,288.9 C762.6,290.9 762.0,293.1 761.6,295.2 C761.2,297.2 761.1,299.7 761.6,301.4 C762.1,303.2 763.2,304.8 764.4,305.8 C765.6,306.9 767.8,306.8 768.8,307.7 C769.9,308.7 769.7,310.4 770.7,311.5 C771.8,312.5 773.5,313.7 775.1,314.0 C776.7,314.3 778.0,313.9 780.1,313.4 C782.2,312.8 785.2,312.4 787.7,310.8 C790.2,309.3 793.1,306.5 795.2,303.9 C797.3,301.4 799.1,298.2 800.2,295.8 C801.3,293.4 801.9,291.1 801.8,289.5 C801.7,287.9 800.5,287.2 799.6,286.4 C798.7,285.5 797.4,284.7 796.5,284.5 C795.5,284.3 794.4,285.0 793.9,285.1 L793.9,286.4 C793.7,287.0 793.3,288.7 792.7,290.1 C792.1,291.6 791.4,293.5 790.2,295.2 C788.9,296.8 786.9,298.7 785.2,300.2 C783.4,301.6 781.4,303.0 779.5,303.9 C777.6,304.9 775.4,305.6 773.9,305.8 C772.3,306.0 770.9,306.1 770.1,305.2 C769.3,304.3 768.9,301.6 768.8,300.2 C768.7,298.7 768.8,297.9 769.5,296.4 C770.1,294.9 771.4,293.0 772.6,291.4 C773.7,289.8 774.9,288.4 776.4,287.0 C777.8,285.6 780.6,283.9 781.4,283.2Z" fill="#fff" stroke="#000" stroke-width="2.4" stroke-linejoin="round" stroke-linecap="round" />
<path d="M768.5,277.6 L773.2,273.5 L776.4,271.6 L782.6,271.6 L790.2,275.1 L793.0,278.2 L787.7,280.7 L781.4,282.6 L776.4,286.4 L773.9,287.6 L768.8,283.2Z" fill="#fff" stroke="#000" stroke-width="2.4" stroke-linejoin="round" stroke-linecap="round" />
<path d="M782.6,273.2 L787.7,274.4 L793.0,278.2 L787.7,279.6 L786.1,277.9Z" fill="#000" stroke="#000" stroke-width="1.0" stroke-linejoin="round" stroke-linecap="round" />
<path d="M768.8,278.3 L770.8,282.7 L777.7,277.6 L775.2,275.1" fill="none" stroke="#000" stroke-width="1.8" stroke-linejoin="round" stroke-linecap="round" />
<path d="M777.7,277.6 L780.1,280.7 L775.1,285.1" fill="none" stroke="#000" stroke-width="1.8" stroke-linejoin="round" stroke-linecap="round" />
<path d="M776.4,271.9 L781.4,276.9 L786.1,277.9" fill="none" stroke="#000" stroke-width="1.8" stroke-linejoin="round" stroke-linecap="round" />
<path d="M841.0,204.0 L889.0,177.5 L921.5,184.0 L914.0,194.0 L846.0,224.0 L838.0,212.0Z" fill="#fff" stroke="#000" stroke-width="2.4" stroke-linejoin="round" stroke-linecap="round" />
<path d="M889.0,177.5 L896.0,186.0 L914.0,194.0" fill="none" stroke="#000" stroke-width="1.6" stroke-linejoin="round" stroke-linecap="round" />
<path d="M893.0,181.0 L918.0,186.5" fill="none" stroke="#000" stroke-width="1.4" stroke-linejoin="round" stroke-linecap="round" />
<path d="M862.0,202.0 C865.0,201.0 874.2,197.8 880.0,196.0 C885.8,194.2 894.2,191.8 897.0,191.0" fill="none" stroke="#000" stroke-width="1.5" stroke-linejoin="round" stroke-linecap="round" />
<ellipse cx="838.0" cy="216.0" rx="5.0" ry="8.6" transform="rotate(20 838.0 216.0)" fill="#fff" stroke="#000" stroke-width="2.4" />
<path d="M829.0,212.5 L836.0,209.0 L840.0,223.0 L833.0,228.0Z" fill="#fff" stroke="#000" stroke-width="2.4" stroke-linejoin="round" stroke-linecap="round" />
<ellipse cx="831.3" cy="220.3" rx="5.6" ry="7.8" transform="rotate(15 831.3 220.3)" fill="#fff" stroke="#000" stroke-width="2.4" />
<ellipse cx="1065.2" cy="120.0" rx="4.3" ry="10.1" transform="rotate(14 1065.2 120.0)" fill="#fff" stroke="#000" stroke-width="2.4" />
<path d="M1069.0,108.8 L1088.8,116.5 L1082.0,138.8 L1062.8,130.1Z" fill="#fff" stroke="#000" stroke-width="2.4" stroke-linejoin="round" stroke-linecap="round" />
<path d="M1068.8,112.9 L1081.0,117.2" fill="none" stroke="#000" stroke-width="1.5" stroke-linejoin="round" stroke-linecap="round" />
<path d="M1067.7,116.4 L1080.3,120.6" fill="none" stroke="#000" stroke-width="1.5" stroke-linejoin="round" stroke-linecap="round" />
<path d="M1066.7,120.0 L1079.7,124.0" fill="none" stroke="#000" stroke-width="1.5" stroke-linejoin="round" stroke-linecap="round" />
<path d="M1065.7,123.5 L1079.0,127.3" fill="none" stroke="#000" stroke-width="1.5" stroke-linejoin="round" stroke-linecap="round" />
<path d="M1064.6,127.1 L1078.4,130.7" fill="none" stroke="#000" stroke-width="1.5" stroke-linejoin="round" stroke-linecap="round" />
<ellipse cx="1083.5" cy="127.7" rx="4.8" ry="11.6" transform="rotate(14 1083.5 127.7)" fill="#fff" stroke="#000" stroke-width="2.4" />
<ellipse cx="1088.4" cy="129.7" rx="4.8" ry="11.2" transform="rotate(14 1088.4 129.7)" fill="#fff" stroke="#000" stroke-width="2.4" />
<ellipse cx="1104.8" cy="136.4" rx="19.3" ry="25.2" transform="rotate(14 1104.8 136.4)" fill="#fff" stroke="#000" stroke-width="2.4" />
<ellipse cx="1107.7" cy="137.0" rx="19.0" ry="24.8" transform="rotate(14 1107.7 137.0)" fill="#fff" stroke="#000" stroke-width="2.4" />
<ellipse cx="1110.0" cy="137.8" rx="13.5" ry="19.3" transform="rotate(14 1110.0 137.8)" fill="#fff" stroke="#000" stroke-width="1.7" />
<ellipse cx="1116.4" cy="139.9" rx="9.7" ry="13.9" transform="rotate(14 1116.4 139.9)" fill="#fff" stroke="#000" stroke-width="2.4" />
<path d="M1119.3,126.8 L1128.0,133.5 L1133.3,139.3 L1125.1,155.2 L1120.9,154.2 L1116.4,153.5Z" fill="#fff" stroke="#000" stroke-width="2.4" stroke-linejoin="round" stroke-linecap="round" />
<path d="M1127.0,155.0 L1126.6,154.8 L1126.2,154.5 L1125.9,154.0 L1125.6,153.5 L1125.4,152.8 L1125.2,152.1 L1125.1,151.2 L1125.1,150.3 L1125.1,149.3 L1125.2,148.3 L1125.4,147.3 L1125.6,146.2 L1125.9,145.2 L1126.3,144.2 L1126.6,143.3 L1127.1,142.4 L1127.5,141.6 L1128.0,140.9 L1128.5,140.3 L1129.0,139.8 L1129.5,139.5 L1130.0,139.2 L1130.5,139.2 L1131.0,139.2" fill="none" stroke="#000" stroke-width="1.6" stroke-linejoin="round" stroke-linecap="round" />
<path d="M1132.9,139.1 L1233.5,188.7 L1226.7,204.2 L1125.1,155.0Z" fill="#fff" stroke="#000" stroke-width="0.1" stroke-linejoin="round" stroke-linecap="round" />
<path d="M1132.9,139.1 L1233.5,188.7" fill="none" stroke="#000" stroke-width="2.4" stroke-linejoin="round" stroke-linecap="round" />
<path d="M1125.1,155.0 L1226.7,204.2" fill="none" stroke="#000" stroke-width="2.4" stroke-linejoin="round" stroke-linecap="round" />
<path d="M1233.5,188.7 L1251.9,192.9 L1241.2,213.8 L1226.7,204.2Z" fill="#fff" stroke="#000" stroke-width="2.4" stroke-linejoin="round" stroke-linecap="round" />
<path d="M1228.6,204.3 L1228.2,204.1 L1227.8,203.8 L1227.5,203.4 L1227.2,202.8 L1227.0,202.2 L1226.8,201.4 L1226.7,200.6 L1226.7,199.6 L1226.7,198.7 L1226.8,197.7 L1227.0,196.6 L1227.2,195.6 L1227.5,194.6 L1227.8,193.6 L1228.2,192.6 L1228.7,191.8 L1229.1,191.0 L1229.6,190.3 L1230.1,189.7 L1230.6,189.2 L1231.1,188.8 L1231.6,188.6 L1232.1,188.5 L1232.6,188.5" fill="none" stroke="#000" stroke-width="1.6" stroke-linejoin="round" stroke-linecap="round" />
<path d="M1239.6,211.6 L1239.1,211.4 L1238.6,211.0 L1238.2,210.4 L1237.9,209.7 L1237.6,208.8 L1237.5,207.8 L1237.4,206.7 L1237.3,205.5 L1237.4,204.3 L1237.5,202.9 L1237.8,201.6 L1238.1,200.2 L1238.4,198.9 L1238.9,197.6 L1239.4,196.4 L1239.9,195.2 L1240.5,194.2 L1241.1,193.2 L1241.7,192.4 L1242.4,191.8 L1243.0,191.3 L1243.6,191.0 L1244.2,190.9 L1244.8,190.9" fill="none" stroke="#000" stroke-width="1.6" stroke-linejoin="round" stroke-linecap="round" />
<ellipse cx="1269.3" cy="218.3" rx="29.0" ry="37.7" transform="rotate(14 1269.3 218.3)" fill="#fff" stroke="#000" stroke-width="2.4" />
<ellipse cx="1272.2" cy="219.1" rx="29.0" ry="37.7" transform="rotate(14 1272.2 219.1)" fill="#fff" stroke="#000" stroke-width="2.4" />
<ellipse cx="1275.7" cy="220.0" rx="22.3" ry="31.9" transform="rotate(14 1275.7 220.0)" fill="#fff" stroke="#000" stroke-width="2.4" />
<path d="M1258.5,204.8 L1270.0,206.4" fill="none" stroke="#000" stroke-width="1.5" stroke-linejoin="round" stroke-linecap="round" />
<path d="M1269.8,192.4 L1277.2,203.3" fill="none" stroke="#000" stroke-width="1.5" stroke-linejoin="round" stroke-linecap="round" />
<path d="M1292.7,196.6 L1286.7,212.9" fill="none" stroke="#000" stroke-width="1.5" stroke-linejoin="round" stroke-linecap="round" />
<path d="M1287.0,243.4 L1276.1,236.2" fill="none" stroke="#000" stroke-width="1.5" stroke-linejoin="round" stroke-linecap="round" />
<path d="M1272.0,250.5 L1268.2,235.3" fill="none" stroke="#000" stroke-width="1.5" stroke-linejoin="round" stroke-linecap="round" />
<path d="M1258.7,243.4 L1263.5,227.2" fill="none" stroke="#000" stroke-width="1.5" stroke-linejoin="round" stroke-linecap="round" />
<ellipse cx="1272.2" cy="218.7" rx="12.0" ry="17.0" transform="rotate(14 1272.2 218.7)" fill="#fff" stroke="#000" stroke-width="2.4" />
<path d="M1276.3,202.2 L1282.6,206.5 L1275.3,235.8 L1268.1,235.2Z" fill="#fff" stroke="#000" stroke-width="0.1" stroke-linejoin="round" stroke-linecap="round" />
<path d="M1276.3,202.2 L1282.6,206.5" fill="none" stroke="#000" stroke-width="2.4" stroke-linejoin="round" stroke-linecap="round" />
<path d="M1268.1,235.2 L1275.3,235.8" fill="none" stroke="#000" stroke-width="2.4" stroke-linejoin="round" stroke-linecap="round" />
<ellipse cx="1279.0" cy="221.2" rx="10.8" ry="15.1" transform="rotate(14 1279.0 221.2)" fill="#fff" stroke="#000" stroke-width="2.4" />
<path d="M1282.6,206.5 L1286.2,209.2 L1279.5,236.3 L1275.3,235.8Z" fill="#fff" stroke="#000" stroke-width="0.1" stroke-linejoin="round" stroke-linecap="round" />
<path d="M1282.6,206.5 L1286.2,209.2" fill="none" stroke="#000" stroke-width="2.4" stroke-linejoin="round" stroke-linecap="round" />
<path d="M1275.3,235.8 L1279.5,236.3" fill="none" stroke="#000" stroke-width="2.4" stroke-linejoin="round" stroke-linecap="round" />
<ellipse cx="1282.8" cy="222.7" rx="9.7" ry="13.9" transform="rotate(14 1282.8 222.7)" fill="#fff" stroke="#000" stroke-width="2.4" />
<path d="M1286.2,209.2 L1290.2,210.2 L1283.2,238.0 L1279.5,236.3Z" fill="#fff" stroke="#000" stroke-width="0.1" stroke-linejoin="round" stroke-linecap="round" />
<path d="M1286.2,209.2 L1290.2,210.2" fill="none" stroke="#000" stroke-width="2.4" stroke-linejoin="round" stroke-linecap="round" />
<path d="M1279.5,236.3 L1283.2,238.0" fill="none" stroke="#000" stroke-width="2.4" stroke-linejoin="round" stroke-linecap="round" />
<ellipse cx="1286.7" cy="224.1" rx="10.1" ry="14.3" transform="rotate(14 1286.7 224.1)" fill="#fff" stroke="#000" stroke-width="2.4" />
<path d="M1290.2,210.2 L1294.7,213.1 L1288.4,238.6 L1283.2,238.0Z" fill="#fff" stroke="#000" stroke-width="0.1" stroke-linejoin="round" stroke-linecap="round" />
<path d="M1290.2,210.2 L1294.7,213.1" fill="none" stroke="#000" stroke-width="2.4" stroke-linejoin="round" stroke-linecap="round" />
<path d="M1283.2,238.0 L1288.4,238.6" fill="none" stroke="#000" stroke-width="2.4" stroke-linejoin="round" stroke-linecap="round" />
<ellipse cx="1291.5" cy="225.8" rx="9.1" ry="13.2" transform="rotate(14 1291.5 225.8)" fill="#fff" stroke="#000" stroke-width="2.4" />
<path d="M1294.7,213.1 L1302.4,216.2 L1296.2,240.9 L1288.4,238.6Z" fill="#fff" stroke="#000" stroke-width="0.1" stroke-linejoin="round" stroke-linecap="round" />
<path d="M1294.7,213.1 L1302.4,216.2" fill="none" stroke="#000" stroke-width="2.4" stroke-linejoin="round" stroke-linecap="round" />
<path d="M1288.4,238.6 L1296.2,240.9" fill="none" stroke="#000" stroke-width="2.4" stroke-linejoin="round" stroke-linecap="round" />
<ellipse cx="1299.3" cy="228.5" rx="8.9" ry="12.8" transform="rotate(14 1299.3 228.5)" fill="#fff" stroke="#000" stroke-width="2.4" />
<ellipse cx="1299.3" cy="228.9" rx="5.4" ry="8.9" transform="rotate(14 1299.3 228.9)" fill="#fff" stroke="#000" stroke-width="2.4" />
<path d="M1296.4,234.2 L1301.6,224.5" fill="none" stroke="#000" stroke-width="1.5" stroke-linejoin="round" stroke-linecap="round" />
<path d="M1294.5,229.3 L1299.3,223.5" fill="none" stroke="#000" stroke-width="1.5" stroke-linejoin="round" stroke-linecap="round" />
<ellipse cx="1335.5" cy="251.0" rx="22.0" ry="31.1" transform="rotate(20 1335.5 251.0)" fill="#fff" stroke="#000" stroke-width="2.4" />
<ellipse cx="1340.0" cy="251.9" rx="22.0" ry="31.4" transform="rotate(20 1340.0 251.9)" fill="#fff" stroke="#000" stroke-width="1.7" />
<ellipse cx="1348.4" cy="252.9" rx="22.4" ry="31.8" transform="rotate(20 1348.4 252.9)" fill="#fff" stroke="#000" stroke-width="2.4" />
<ellipse cx="1347.3" cy="252.9" rx="17.0" ry="25.3" transform="rotate(20 1347.3 252.9)" fill="#fff" stroke="#000" stroke-width="1.7" />
<ellipse cx="1346.4" cy="253.1" rx="13.0" ry="20.0" transform="rotate(20 1346.4 253.1)" fill="#fff" stroke="#000" stroke-width="2.4" />
<ellipse cx="1345.5" cy="253.7" rx="7.9" ry="13.3" transform="rotate(20 1345.5 253.7)" fill="#fff" stroke="#000" stroke-width="2.4" />
<ellipse cx="1344.9" cy="253.8" rx="4.5" ry="9.1" transform="rotate(20 1344.9 253.8)" fill="#fff" stroke="#000" stroke-width="1.7" />
<path d="M1342.3,259.0 L1348.4,248.4" fill="none" stroke="#000" stroke-width="1.5" stroke-linejoin="round" stroke-linecap="round" />
<path d="M1340.8,256.0 L1346.4,246.9" fill="none" stroke="#000" stroke-width="1.5" stroke-linejoin="round" stroke-linecap="round" />
<path d="M1344.6,260.5 L1349.9,251.4" fill="none" stroke="#000" stroke-width="1.5" stroke-linejoin="round" stroke-linecap="round" />
<path d="M1389.3,250.7 C1388.2,250.3 1385.3,247.1 1382.5,248.4 C1379.7,249.6 1375.4,253.3 1372.6,258.2 C1369.9,263.2 1366.2,271.6 1365.8,277.9 C1365.4,284.3 1367.3,291.5 1370.4,296.1 C1373.4,300.8 1379.2,305.0 1384.0,306.0 C1388.8,307.0 1394.6,305.9 1399.2,302.2 C1403.7,298.5 1408.6,290.1 1411.3,284.0 C1414.0,277.9 1415.8,271.1 1415.5,265.8 C1415.3,260.5 1412.1,254.8 1409.8,252.2 C1407.4,249.5 1403.7,249.6 1401.4,249.9 C1399.2,250.1 1397.0,253.1 1396.1,253.7 L1399.2,261.3 C1400.2,261.3 1404.0,260.0 1405.2,261.3 C1406.5,262.5 1407.3,265.1 1406.8,268.8 C1406.2,272.6 1405.0,279.5 1402.2,284.0 C1399.4,288.6 1393.9,294.6 1390.1,296.1 C1386.3,297.7 1381.7,295.9 1379.5,293.1 C1377.2,290.3 1376.2,284.3 1376.4,279.5 C1376.7,274.7 1379.2,267.7 1381.0,264.3 C1382.7,260.9 1385.4,260.3 1387.0,259.0 C1388.7,257.7 1390.2,257.1 1390.8,256.7Z" fill="#fff" stroke="#000" stroke-width="2.4" stroke-linejoin="round" stroke-linecap="round" />
<path d="M1381.0,249.9 C1379.3,251.8 1373.3,256.3 1371.1,261.3 C1369.0,266.2 1367.8,273.6 1368.1,279.5 C1368.3,285.3 1371.9,293.4 1372.6,296.1" fill="none" stroke="#000" stroke-width="1.7" stroke-linejoin="round" stroke-linecap="round" />
<ellipse cx="1388.3" cy="256.3" rx="0.9" ry="0.9" transform="rotate(0 1388.3 256.3)" fill="#fff" stroke="#000" stroke-width="1.5" />
<ellipse cx="1403.4" cy="256.7" rx="0.9" ry="0.9" transform="rotate(0 1403.4 256.7)" fill="#fff" stroke="#000" stroke-width="1.5" />
<ellipse cx="1439.4" cy="296.4" rx="22.7" ry="32.6" transform="rotate(20 1439.4 296.4)" fill="#fff" stroke="#000" stroke-width="2.4" />
<path d="M1450.5,265.8 L1466.4,271.1 L1444.1,332.4 L1428.2,327.1Z" fill="#fff" stroke="#000" stroke-width="0.1" stroke-linejoin="round" stroke-linecap="round" />
<path d="M1450.5,265.8 L1466.4,271.1" fill="none" stroke="#000" stroke-width="2.4" stroke-linejoin="round" stroke-linecap="round" />
<path d="M1428.2,327.1 L1444.1,332.4" fill="none" stroke="#000" stroke-width="2.4" stroke-linejoin="round" stroke-linecap="round" />
<ellipse cx="1455.3" cy="301.8" rx="22.7" ry="32.6" transform="rotate(20 1455.3 301.8)" fill="#fff" stroke="#000" stroke-width="2.4" />
<ellipse cx="1455.3" cy="301.8" rx="18.8" ry="27.9" transform="rotate(20 1455.3 301.8)" fill="#fff" stroke="#000" stroke-width="2.4" />
<ellipse cx="1453.5" cy="302.5" rx="10.9" ry="16.4" transform="rotate(20 1453.5 302.5)" fill="#fff" stroke="#000" stroke-width="2.4" />
<ellipse cx="1452.5" cy="303.0" rx="7.0" ry="11.5" transform="rotate(20 1452.5 303.0)" fill="#fff" stroke="#000" stroke-width="2.4" />
<ellipse cx="1468.5" cy="307.1" rx="2.6" ry="3.6" transform="rotate(20 1468.5 307.1)" fill="#fff" stroke="#000" stroke-width="1.5" />
<ellipse cx="1462.1" cy="317.6" rx="2.6" ry="3.6" transform="rotate(20 1462.1 317.6)" fill="#fff" stroke="#000" stroke-width="1.5" />
<ellipse cx="1453.3" cy="323.1" rx="2.6" ry="3.6" transform="rotate(20 1453.3 323.1)" fill="#fff" stroke="#000" stroke-width="1.5" />
<ellipse cx="1444.9" cy="321.8" rx="2.6" ry="3.6" transform="rotate(20 1444.9 321.8)" fill="#fff" stroke="#000" stroke-width="1.5" />
<ellipse cx="1439.5" cy="314.1" rx="2.6" ry="3.6" transform="rotate(20 1439.5 314.1)" fill="#fff" stroke="#000" stroke-width="1.5" />
<ellipse cx="1439.1" cy="302.5" rx="2.6" ry="3.6" transform="rotate(20 1439.1 302.5)" fill="#fff" stroke="#000" stroke-width="1.5" />
<ellipse cx="1443.6" cy="290.8" rx="2.6" ry="3.6" transform="rotate(20 1443.6 290.8)" fill="#fff" stroke="#000" stroke-width="1.5" />
<ellipse cx="1451.6" cy="282.7" rx="2.6" ry="3.6" transform="rotate(20 1451.6 282.7)" fill="#fff" stroke="#000" stroke-width="1.5" />
<ellipse cx="1460.6" cy="280.8" rx="2.6" ry="3.6" transform="rotate(20 1460.6 280.8)" fill="#fff" stroke="#000" stroke-width="1.5" />
<ellipse cx="1467.6" cy="285.8" rx="2.6" ry="3.6" transform="rotate(20 1467.6 285.8)" fill="#fff" stroke="#000" stroke-width="1.5" />
<ellipse cx="1470.4" cy="296.1" rx="2.6" ry="3.6" transform="rotate(20 1470.4 296.1)" fill="#fff" stroke="#000" stroke-width="1.5" />
<ellipse cx="1647.4" cy="406.2" rx="20.9" ry="33.8" transform="rotate(17 1647.4 406.2)" fill="#fff" stroke="#000" stroke-width="2.4" />
<path d="M1647.4,373.4 L1687.2,366.5 L1671.3,440.0 L1639.5,439.0Z" fill="#fff" stroke="#000" stroke-width="0.1" stroke-linejoin="round" stroke-linecap="round" />
<path d="M1629.5,419.1 C1631.9,421.2 1637.8,428.1 1643.4,431.5 C1649.1,434.8 1658.7,438.0 1663.3,439.4 C1668.0,440.9 1669.9,440.1 1671.3,440.2" fill="none" stroke="#000" stroke-width="2.4" stroke-linejoin="round" stroke-linecap="round" />
<path d="M1642.0,438.5 L1639.9,437.2 L1637.9,435.5 L1636.2,433.3 L1634.8,430.7 L1633.6,427.8 L1632.8,424.5 L1632.2,421.0 L1632.0,417.3 L1632.1,413.4 L1632.6,409.4 L1633.3,405.4 L1634.4,401.4 L1635.7,397.5 L1637.3,393.8 L1639.2,390.2 L1641.3,387.0 L1643.6,384.0 L1646.0,381.4 L1648.5,379.2 L1651.1,377.4 L1653.7,376.0 L1656.4,375.2 L1658.9,374.8 L1661.4,374.9" fill="none" stroke="#000" stroke-width="1.7" stroke-linejoin="round" stroke-linecap="round" />
<path d="M1648.6,438.3 L1646.4,436.9 L1644.3,435.1 L1642.6,432.8 L1641.0,430.2 L1639.8,427.2 L1638.9,423.8 L1638.3,420.2 L1638.0,416.4 L1638.1,412.4 L1638.5,408.3 L1639.3,404.2 L1640.4,400.1 L1641.8,396.1 L1643.4,392.3 L1645.4,388.7 L1647.5,385.4 L1649.9,382.3 L1652.4,379.7 L1655.0,377.4 L1657.7,375.6 L1660.5,374.2 L1663.2,373.4 L1665.9,373.0 L1668.6,373.1" fill="none" stroke="#000" stroke-width="1.7" stroke-linejoin="round" stroke-linecap="round" />
<path d="M1578.9,314.8 L1589.8,313.4 L1617.6,321.8 L1624.0,317.8 L1639.5,321.8 L1665.3,303.9 L1679.2,300.9 L1686.2,307.9 L1686.6,319.8 L1677.6,328.1 L1670.7,366.5 L1687.2,369.5 L1663.3,380.4 L1638.5,373.4 L1635.5,366.5 L1577.9,335.7 L1574.3,323.8Z" fill="#fff" stroke="#000" stroke-width="2.4" stroke-linejoin="round" stroke-linecap="round" />
<path d="M1589.8,317.2 L1635.5,329.1 L1643.4,324.2 L1668.3,308.3 L1676.2,305.9" fill="none" stroke="#000" stroke-width="1.7" stroke-linejoin="round" stroke-linecap="round" />
<path d="M1624.0,317.8 L1640.5,324.8" fill="none" stroke="#000" stroke-width="1.6" stroke-linejoin="round" stroke-linecap="round" />
<path d="M1668.3,328.1 L1662.9,374.4" fill="none" stroke="#000" stroke-width="2.4" stroke-linejoin="round" stroke-linecap="round" />
<path d="M1679.2,303.9 L1681.6,319.8 L1677.6,328.1" fill="none" stroke="#000" stroke-width="1.7" stroke-linejoin="round" stroke-linecap="round" />
<path d="M1638.5,366.5 L1662.3,374.4" fill="none" stroke="#000" stroke-width="1.7" stroke-linejoin="round" stroke-linecap="round" />
<ellipse cx="1583.8" cy="327.4" rx="2.8" ry="3.4" transform="rotate(10 1583.8 327.4)" fill="#fff" stroke="#000" stroke-width="1.7" />
<ellipse cx="1671.9" cy="313.8" rx="2.8" ry="3.4" transform="rotate(10 1671.9 313.8)" fill="#fff" stroke="#000" stroke-width="1.7" />
<ellipse cx="1647.4" cy="353.2" rx="2.8" ry="3.4" transform="rotate(10 1647.4 353.2)" fill="#fff" stroke="#000" stroke-width="1.7" />
<ellipse cx="1678.2" cy="402.9" rx="26.8" ry="37.0" transform="rotate(17 1678.2 402.9)" fill="#fff" stroke="#000" stroke-width="2.4" />
<ellipse cx="1681.6" cy="403.3" rx="26.8" ry="37.0" transform="rotate(17 1681.6 403.3)" fill="#fff" stroke="#000" stroke-width="2.4" />
<ellipse cx="1683.2" cy="404.0" rx="22.3" ry="32.2" transform="rotate(17 1683.2 404.0)" fill="#fff" stroke="#000" stroke-width="1.7" />
<ellipse cx="1684.8" cy="406.2" rx="17.1" ry="26.8" transform="rotate(17 1684.8 406.2)" fill="#fff" stroke="#000" stroke-width="2.4" />
<path d="M1691.9,383.0 L1693.5,384.2 L1695.0,385.7 L1696.2,387.5 L1697.3,389.6 L1698.1,391.9 L1698.8,394.4 L1699.1,397.1 L1699.3,399.9 L1699.2,402.8 L1698.9,405.8 L1698.3,408.8 L1697.6,411.7 L1696.6,414.6 L1695.4,417.4 L1694.0,420.0 L1692.4,422.4 L1690.7,424.7 L1688.9,426.7 L1687.0,428.4 L1685.0,429.9 L1682.9,431.0 L1680.9,431.8 L1678.8,432.3 L1676.8,432.4" fill="none" stroke="#000" stroke-width="1.7" stroke-linejoin="round" stroke-linecap="round" />
<path d="M1691.0,386.0 L1692.1,387.4 L1693.1,389.0 L1694.0,390.8 L1694.7,392.7 L1695.2,394.8 L1695.5,397.1 L1695.7,399.4 L1695.7,401.9 L1695.5,404.3 L1695.2,406.9 L1694.7,409.4 L1694.0,411.9 L1693.2,414.3 L1692.2,416.7 L1691.1,419.0 L1689.8,421.1 L1688.5,423.1 L1687.0,425.0 L1685.5,426.6 L1683.8,428.1 L1682.2,429.4 L1680.5,430.4 L1678.7,431.1 L1677.0,431.7" fill="none" stroke="#000" stroke-width="1.5" stroke-linejoin="round" stroke-linecap="round" />
<path d="M1731.3,411.6 C1729.7,413.5 1723.7,418.9 1721.9,423.1 C1720.1,427.4 1719.1,433.0 1720.5,437.0 C1722.0,441.1 1726.7,446.3 1730.5,447.4 C1734.2,448.4 1739.7,446.0 1743.2,443.4 C1746.6,440.7 1749.7,435.2 1751.1,431.5 C1752.6,427.8 1752.8,424.1 1751.9,421.1 C1751.1,418.2 1747.7,414.8 1746.0,413.6 C1744.3,412.3 1742.5,413.6 1741.8,413.6 L1740.4,419.1 C1741.0,420.5 1744.3,424.2 1744.0,427.1 C1743.7,430.0 1741.0,434.7 1738.8,436.4 C1736.6,438.2 1732.6,438.7 1730.9,437.4 C1729.2,436.2 1728.2,432.1 1728.5,429.1 C1728.8,426.0 1731.1,421.5 1732.5,419.1 C1733.9,416.8 1736.1,415.5 1736.8,414.8Z" fill="#fff" stroke="#000" stroke-width="2.4" stroke-linejoin="round" stroke-linecap="round" />
<path d="M1725.9,417.2 C1725.5,419.1 1723.0,424.9 1723.3,429.1 C1723.7,433.2 1727.1,439.8 1727.9,442.0" fill="none" stroke="#000" stroke-width="1.6" stroke-linejoin="round" stroke-linecap="round" />
<ellipse cx="1773.9" cy="444.3" rx="21.5" ry="29.2" transform="rotate(20 1773.9 444.3)" fill="#fff" stroke="#000" stroke-width="2.4" />
<ellipse cx="1777.3" cy="443.9" rx="21.5" ry="29.2" transform="rotate(20 1777.3 443.9)" fill="#fff" stroke="#000" stroke-width="2.4" />
<ellipse cx="1780.8" cy="443.4" rx="21.5" ry="29.2" transform="rotate(20 1780.8 443.4)" fill="#fff" stroke="#000" stroke-width="2.4" />
<ellipse cx="1785.5" cy="443.0" rx="21.5" ry="29.2" transform="rotate(20 1785.5 443.0)" fill="#fff" stroke="#000" stroke-width="2.4" />
<ellipse cx="1785.1" cy="443.0" rx="18.5" ry="26.2" transform="rotate(20 1785.1 443.0)" fill="#fff" stroke="#000" stroke-width="1.3" />
<ellipse cx="1783.8" cy="443.9" rx="12.9" ry="21.9" transform="rotate(28 1783.8 443.9)" fill="#fff" stroke="#000" stroke-width="2.0" />
<path d="M1793.4,428.2 L1794.2,429.5 L1794.9,430.9 L1795.4,432.6 L1795.7,434.3 L1795.9,436.2 L1795.8,438.2 L1795.6,440.3 L1795.1,442.4 L1794.5,444.6 L1793.8,446.8 L1792.9,448.9 L1791.8,450.9 L1790.6,452.9 L1789.2,454.8 L1787.8,456.5 L1786.3,458.1 L1784.7,459.5 L1783.1,460.7 L1781.4,461.7 L1779.8,462.5 L1778.2,463.0 L1776.6,463.4 L1775.0,463.4 L1773.6,463.3" fill="none" stroke="#000" stroke-width="1.4" stroke-linejoin="round" stroke-linecap="round" />
<path d="M1741.0,287.5 L1771.0,279.0 L1774.0,290.5 L1743.0,299.0Z" fill="#fff" stroke="#000" stroke-width="2.4" stroke-linejoin="round" stroke-linecap="round" />
<ellipse cx="1742.0" cy="293.3" rx="2.8" ry="5.8" transform="rotate(10 1742.0 293.3)" fill="#fff" stroke="#000" stroke-width="2.4" />
<path d="M1745.5,297.4 L1745.2,297.2 L1745.0,297.0 L1744.7,296.6 L1744.5,296.2 L1744.4,295.7 L1744.2,295.2 L1744.1,294.6 L1744.1,294.0 L1744.1,293.4 L1744.1,292.7 L1744.1,292.1 L1744.2,291.4 L1744.4,290.8 L1744.5,290.1 L1744.8,289.5 L1745.0,288.9 L1745.2,288.4 L1745.5,287.9 L1745.8,287.4 L1746.2,287.0 L1746.5,286.7 L1746.8,286.5 L1747.2,286.3 L1747.5,286.2" fill="none" stroke="#000" stroke-width="1.5" stroke-linejoin="round" stroke-linecap="round" />
<path d="M1750.5,296.0 L1750.2,295.8 L1750.0,295.6 L1749.7,295.2 L1749.5,294.8 L1749.4,294.3 L1749.2,293.8 L1749.1,293.2 L1749.1,292.6 L1749.1,292.0 L1749.1,291.3 L1749.1,290.7 L1749.2,290.0 L1749.4,289.4 L1749.5,288.7 L1749.8,288.1 L1750.0,287.5 L1750.2,287.0 L1750.5,286.5 L1750.8,286.0 L1751.2,285.6 L1751.5,285.3 L1751.8,285.1 L1752.2,284.9 L1752.5,284.8" fill="none" stroke="#000" stroke-width="1.5" stroke-linejoin="round" stroke-linecap="round" />
<path d="M1755.5,294.6 L1755.2,294.4 L1755.0,294.2 L1754.7,293.8 L1754.5,293.4 L1754.4,292.9 L1754.2,292.4 L1754.1,291.8 L1754.1,291.2 L1754.1,290.6 L1754.1,289.9 L1754.1,289.3 L1754.2,288.6 L1754.4,288.0 L1754.5,287.3 L1754.8,286.7 L1755.0,286.1 L1755.2,285.6 L1755.5,285.1 L1755.8,284.6 L1756.2,284.2 L1756.5,283.9 L1756.8,283.7 L1757.2,283.5 L1757.5,283.4" fill="none" stroke="#000" stroke-width="1.5" stroke-linejoin="round" stroke-linecap="round" />
<path d="M1760.5,293.2 L1760.2,293.0 L1760.0,292.8 L1759.7,292.4 L1759.5,292.0 L1759.4,291.5 L1759.2,291.0 L1759.1,290.4 L1759.1,289.8 L1759.1,289.2 L1759.1,288.5 L1759.1,287.9 L1759.2,287.2 L1759.4,286.6 L1759.5,285.9 L1759.8,285.3 L1760.0,284.7 L1760.2,284.2 L1760.5,283.7 L1760.8,283.2 L1761.2,282.8 L1761.5,282.5 L1761.8,282.3 L1762.2,282.1 L1762.5,282.0" fill="none" stroke="#000" stroke-width="1.5" stroke-linejoin="round" stroke-linecap="round" />
<ellipse cx="1772.0" cy="284.0" rx="4.0" ry="9.0" transform="rotate(10 1772.0 284.0)" fill="#fff" stroke="#000" stroke-width="2.4" />
<path d="M1774.0,274.5 L1784.0,273.5 L1788.0,279.0 L1788.0,292.0 L1783.0,297.5 L1775.0,297.5 L1771.0,292.0 L1770.0,279.0Z" fill="#fff" stroke="#000" stroke-width="2.4" stroke-linejoin="round" stroke-linecap="round" />
<path d="M1779.0,274.0 L1779.0,297.5" fill="none" stroke="#000" stroke-width="1.6" stroke-linejoin="round" stroke-linecap="round" />
<path d="M1784.0,273.5 L1784.0,297.0" fill="none" stroke="#000" stroke-width="1.5" stroke-linejoin="round" stroke-linecap="round" />
<ellipse cx="1206.5" cy="481.9" rx="30.0" ry="38.0" transform="rotate(15 1206.5 481.9)" fill="#fff" stroke="#000" stroke-width="2.4" />
<ellipse cx="1221.5" cy="484.4" rx="29.0" ry="37.0" transform="rotate(15 1221.5 484.4)" fill="#fff" stroke="#000" stroke-width="2.4" />
<path d="M1241.0,488.4h0.1M1191.6,478.7h0.1M1215.4,506.6h0.1M1189.6,462.2h0.1M1220.4,494.4h0.1M1222.8,452.4h0.1M1197.1,459.5h0.1M1182.3,472.6h0.1M1202.0,506.8h0.1M1213.9,466.8h0.1M1230.9,504.2h0.1M1205.5,460.8h0.1M1231.9,481.0h0.1M1237.4,481.4h0.1M1240.0,488.5h0.1M1182.0,485.1h0.1M1235.2,471.8h0.1M1188.6,464.2h0.1M1192.3,458.5h0.1M1238.2,465.6h0.1M1187.7,494.5h0.1M1185.5,487.2h0.1M1188.8,471.0h0.1M1198.0,461.9h0.1M1192.3,507.5h0.1M1195.5,470.8h0.1M1233.1,499.8h0.1M1198.3,461.1h0.1M1233.7,476.0h0.1M1207.3,449.3h0.1M1184.0,482.1h0.1M1193.7,486.1h0.1M1243.0,490.3h0.1M1210.4,510.9h0.1M1198.3,453.1h0.1M1202.0,456.8h0.1M1235.6,497.5h0.1M1214.9,453.7h0.1M1191.4,493.4h0.1M1190.3,502.3h0.1M1222.8,470.3h0.1M1187.0,493.4h0.1M1209.6,509.6h0.1M1224.2,469.7h0.1M1217.4,451.0h0.1M1193.7,468.3h0.1M1224.3,458.3h0.1M1196.0,508.9h0.1M1223.4,492.8h0.1M1206.9,499.6h0.1M1183.7,479.2h0.1M1220.4,516.2h0.1M1224.2,502.1h0.1M1199.2,494.0h0.1M1201.5,502.7h0.1M1235.0,495.0h0.1M1182.3,486.0h0.1M1229.6,479.4h0.1M1226.4,493.3h0.1M1202.1,506.5h0.1M1216.4,463.8h0.1M1225.6,486.7h0.1M1212.0,515.5h0.1M1196.0,492.6h0.1M1199.3,454.5h0.1M1236.1,502.0h0.1M1201.2,510.4h0.1M1198.0,492.2h0.1M1194.0,473.2h0.1M1239.7,481.8h0.1M1221.5,471.7h0.1M1188.7,476.7h0.1M1204.2,455.8h0.1M1213.6,466.5h0.1M1195.4,472.2h0.1M1193.9,504.4h0.1M1224.9,492.1h0.1M1194.4,500.9h0.1M1239.2,470.4h0.1M1218.1,496.8h0.1M1230.4,465.2h0.1M1217.0,460.0h0.1M1232.7,464.2h0.1M1200.5,468.4h0.1M1225.1,488.3h0.1M1215.1,503.7h0.1M1199.9,502.4h0.1M1189.1,473.6h0.1M1212.9,514.9h0.1M1242.4,488.6h0.1M1228.1,465.0h0.1M1221.0,510.1h0.1M1217.6,501.5h0.1M1209.4,504.8h0.1M1192.9,509.5h0.1M1238.8,478.8h0.1M1186.2,471.8h0.1M1210.7,503.5h0.1M1220.7,449.5h0.1M1238.5,465.3h0.1M1196.1,501.1h0.1M1209.3,499.7h0.1M1231.2,502.9h0.1M1241.9,490.7h0.1M1193.7,480.4h0.1M1194.3,496.1h0.1M1233.9,493.7h0.1M1202.4,471.6h0.1M1186.6,503.3h0.1M1242.8,493.4h0.1M1223.0,463.3h0.1M1243.0,492.8h0.1M1200.2,503.2h0.1M1233.4,455.7h0.1M1197.9,477.4h0.1M1189.3,472.1h0.1M1214.5,469.9h0.1M1190.0,486.4h0.1M1197.6,458.5h0.1M1228.2,474.0h0.1M1200.7,489.4h0.1M1182.1,493.0h0.1M1187.5,477.5h0.1M1201.9,457.4h0.1M1220.9,459.6h0.1M1190.6,487.6h0.1M1233.4,497.6h0.1M1241.1,470.6h0.1M1222.4,509.8h0.1M1242.5,477.3h0.1M1192.3,510.4h0.1M1191.0,495.0h0.1M1204.4,450.4h0.1M1235.8,483.6h0.1M1238.7,461.8h0.1M1202.6,494.9h0.1M1216.6,516.0h0.1M1207.9,502.0h0.1M1209.1,496.7h0.1M1223.8,459.3h0.1M1197.5,456.7h0.1M1204.9,501.7h0.1M1201.8,478.0h0.1M1219.1,511.5h0.1M1192.4,474.5h0.1M1230.0,480.8h0.1M1198.9,454.1h0.1M1219.0,512.8h0.1M1223.2,507.6h0.1M1235.0,482.2h0.1M1220.2,505.9h0.1M1231.7,481.3h0.1M1219.2,494.7h0.1M1226.5,474.7h0.1M1221.7,491.2h0.1M1220.7,505.7h0.1M1215.5,502.5h0.1M1198.4,472.1h0.1M1212.0,452.5h0.1M1241.9,496.5h0.1M1213.9,503.6h0.1M1190.7,475.4h0.1M1190.9,477.3h0.1M1228.3,453.8h0.1M1243.3,485.6h0.1M1207.8,465.7h0.1M1194.1,495.1h0.1M1185.1,495.6h0.1M1197.7,509.9h0.1M1205.7,515.1h0.1M1227.7,485.1h0.1M1226.7,457.7h0.1M1221.5,457.0h0.1M1205.5,494.4h0.1M1214.1,465.6h0.1M1230.2,490.5h0.1M1232.9,468.8h0.1M1228.8,497.3h0.1M1207.6,464.6h0.1M1223.4,491.3h0.1M1235.1,465.7h0.1M1198.9,474.0h0.1M1228.2,457.2h0.1M1223.4,453.6h0.1M1182.0,488.7h0.1M1196.5,467.1h0.1M1222.1,511.9h0.1M1230.4,497.7h0.1M1235.6,467.6h0.1M1212.2,464.8h0.1" stroke="#000" stroke-width="1.4" stroke-linecap="round" fill="none"/>
<ellipse cx="1223.5" cy="486.9" rx="15.5" ry="19.5" transform="rotate(15 1223.5 486.9)" fill="#fff" stroke="#000" stroke-width="2.4" />
<ellipse cx="1224.0" cy="487.4" rx="11.5" ry="15.0" transform="rotate(15 1224.0 487.4)" fill="#fff" stroke="#000" stroke-width="1.7" />
<ellipse cx="1224.5" cy="487.9" rx="7.5" ry="10.5" transform="rotate(15 1224.5 487.9)" fill="#fff" stroke="#000" stroke-width="2.4" />
<ellipse cx="1225.0" cy="488.4" rx="4.2" ry="6.5" transform="rotate(15 1225.0 488.4)" fill="#fff" stroke="#000" stroke-width="1.7" />
<path d="M1257.4,494.0 C1259.7,491.4 1268.8,486.7 1271.5,486.1 C1274.2,485.5 1276.1,489.5 1277.7,489.5 C1279.4,489.5 1283.1,487.0 1283.9,486.1 C1284.8,485.2 1283.1,483.2 1283.9,482.7 C1284.8,482.2 1288.6,482.0 1290.1,482.5 C1291.7,483.0 1295.1,483.6 1295.8,486.7 C1296.5,489.7 1296.2,501.3 1295.6,505.3 C1295.0,509.3 1292.7,513.7 1291.3,516.6 C1289.8,519.5 1286.8,524.8 1284.5,526.8 C1282.2,528.7 1277.2,531.1 1274.3,531.3 C1271.5,531.4 1265.6,529.6 1263.0,527.9 C1260.5,526.2 1256.3,521.9 1255.1,518.9 C1253.9,515.8 1253.9,508.6 1254.2,505.3 C1254.5,502.0 1255.1,496.6 1257.4,494.0Z" fill="#fff" stroke="#000" stroke-width="2.4" stroke-linejoin="round" stroke-linecap="round" />
<path d="M1288.7,506.7 L1287.8,510.4 L1286.5,513.9 L1284.8,517.3 L1282.8,520.4 L1280.5,523.0 L1278.1,525.1 L1275.6,526.5 L1273.1,527.3 L1270.8,527.4 L1268.6,526.7 L1266.8,525.4 L1265.3,523.5 L1264.3,520.9 L1263.7,518.0 L1263.6,514.6 L1264.0,511.1 L1264.9,507.5 L1266.2,503.9 L1267.9,500.5 L1269.9,497.5 L1272.2,494.9 L1274.7,492.8 L1277.1,491.3 L1279.6,490.5" fill="none" stroke="#000" stroke-width="1.9" stroke-linejoin="round" stroke-linecap="round" />
<ellipse cx="1277.7" cy="507.8" rx="7.0" ry="14.7" transform="rotate(25 1277.7 507.8)" fill="#fff" stroke="#000" stroke-width="2.4" />
<path d="M1287.3,498.3 L1287.4,499.3 L1287.5,500.5 L1287.5,501.8 L1287.3,503.1 L1287.1,504.5 L1286.7,506.0 L1286.2,507.5 L1285.7,508.9 L1285.0,510.4 L1284.3,511.8 L1283.5,513.2 L1282.7,514.5 L1281.8,515.7 L1280.9,516.8 L1280.0,517.8 L1279.0,518.7 L1278.1,519.4 L1277.2,519.9 L1276.3,520.3 L1275.4,520.5 L1274.7,520.5 L1273.9,520.4 L1273.3,520.1 L1272.7,519.6" fill="none" stroke="#000" stroke-width="1.7" stroke-linejoin="round" stroke-linecap="round" />
<path d="M1285.3,486.1 L1285.8,501.3" fill="none" stroke="#000" stroke-width="1.9" stroke-linejoin="round" stroke-linecap="round" />
<path d="M1290.3,483.2 L1290.3,501.0" fill="none" stroke="#000" stroke-width="1.7" stroke-linejoin="round" stroke-linecap="round" />
<path d="M1285.4,501.3 L1295.3,502.7" fill="none" stroke="#000" stroke-width="1.7" stroke-linejoin="round" stroke-linecap="round" />
<path d="M1264.5,502.1 L1267.5,498.5 L1277.9,489.8" fill="none" stroke="#000" stroke-width="1.9" stroke-linejoin="round" stroke-linecap="round" />
<path d="M1302.6,518.6 C1304.8,516.2 1313.2,511.9 1315.7,511.3 C1318.2,510.7 1319.9,514.4 1321.5,514.4 C1323.0,514.4 1326.5,512.1 1327.2,511.3 C1328.0,510.5 1326.5,508.6 1327.2,508.2 C1328.0,507.7 1331.5,507.5 1333.0,507.9 C1334.4,508.4 1337.5,509.0 1338.2,511.8 C1338.9,514.6 1338.6,525.4 1338.0,529.1 C1337.4,532.8 1335.4,536.9 1334.0,539.5 C1332.7,542.2 1329.8,547.1 1327.7,549.0 C1325.7,550.8 1321.0,553.0 1318.3,553.1 C1315.7,553.3 1310.2,551.5 1307.9,550.0 C1305.5,548.5 1301.6,544.4 1300.6,541.6 C1299.5,538.8 1299.4,532.1 1299.7,529.1 C1300.0,526.0 1300.5,521.0 1302.6,518.6Z" fill="#fff" stroke="#000" stroke-width="2.4" stroke-linejoin="round" stroke-linecap="round" />
<path d="M1331.6,530.4 L1330.8,533.8 L1329.6,537.1 L1328.0,540.2 L1326.2,543.0 L1324.1,545.4 L1321.8,547.4 L1319.5,548.7 L1317.2,549.4 L1315.0,549.5 L1313.1,548.9 L1311.4,547.7 L1310.0,545.9 L1309.0,543.6 L1308.5,540.8 L1308.4,537.7 L1308.8,534.4 L1309.6,531.1 L1310.8,527.8 L1312.4,524.7 L1314.3,521.8 L1316.4,519.4 L1318.6,517.5 L1320.9,516.1 L1323.2,515.4" fill="none" stroke="#000" stroke-width="1.9" stroke-linejoin="round" stroke-linecap="round" />
<ellipse cx="1321.5" cy="531.4" rx="6.5" ry="13.6" transform="rotate(25 1321.5 531.4)" fill="#fff" stroke="#000" stroke-width="2.4" />
<path d="M1330.3,522.6 L1330.5,523.6 L1330.5,524.6 L1330.5,525.8 L1330.4,527.1 L1330.1,528.4 L1329.8,529.7 L1329.4,531.1 L1328.8,532.5 L1328.3,533.8 L1327.6,535.1 L1326.9,536.4 L1326.1,537.6 L1325.3,538.7 L1324.4,539.8 L1323.6,540.7 L1322.7,541.5 L1321.8,542.1 L1321.0,542.6 L1320.2,543.0 L1319.4,543.2 L1318.6,543.2 L1318.0,543.1 L1317.4,542.8 L1316.8,542.3" fill="none" stroke="#000" stroke-width="1.7" stroke-linejoin="round" stroke-linecap="round" />
<path d="M1328.5,511.3 L1329.0,525.4" fill="none" stroke="#000" stroke-width="1.9" stroke-linejoin="round" stroke-linecap="round" />
<path d="M1333.1,508.6 L1333.1,525.1" fill="none" stroke="#000" stroke-width="1.7" stroke-linejoin="round" stroke-linecap="round" />
<path d="M1328.6,525.4 L1337.8,526.7" fill="none" stroke="#000" stroke-width="1.7" stroke-linejoin="round" stroke-linecap="round" />
<path d="M1309.2,526.1 L1312.1,522.8 L1321.7,514.7" fill="none" stroke="#000" stroke-width="1.9" stroke-linejoin="round" stroke-linecap="round" />
<ellipse cx="1343.6" cy="543.2" rx="8.5" ry="11.8" transform="rotate(14 1343.6 543.2)" fill="#fff" stroke="#000" stroke-width="2.6" />
<ellipse cx="1348.0" cy="544.9" rx="9.1" ry="12.6" transform="rotate(14 1348.0 544.9)" fill="#fff" stroke="#000" stroke-width="2.0" />
<ellipse cx="1351.5" cy="546.2" rx="8.1" ry="11.2" transform="rotate(14 1351.5 546.2)" fill="#fff" stroke="#000" stroke-width="2.6" />
<ellipse cx="1355.0" cy="547.6" rx="13.6" ry="18.9" transform="rotate(14 1355.0 547.6)" fill="#fff" stroke="#000" stroke-width="2.0" />
<ellipse cx="1358.6" cy="548.9" rx="12.4" ry="17.3" transform="rotate(14 1358.6 548.9)" fill="#fff" stroke="#000" stroke-width="2.6" />
<ellipse cx="1362.9" cy="550.6" rx="17.8" ry="24.7" transform="rotate(14 1362.9 550.6)" fill="#fff" stroke="#000" stroke-width="2.0" />
<ellipse cx="1366.4" cy="551.9" rx="16.6" ry="23.1" transform="rotate(14 1366.4 551.9)" fill="#fff" stroke="#000" stroke-width="2.6" />
<ellipse cx="1370.7" cy="553.5" rx="21.0" ry="29.2" transform="rotate(14 1370.7 553.5)" fill="#fff" stroke="#000" stroke-width="2.0" />
<ellipse cx="1374.2" cy="554.9" rx="19.8" ry="27.6" transform="rotate(14 1374.2 554.9)" fill="#fff" stroke="#000" stroke-width="2.6" />
<ellipse cx="1378.5" cy="556.5" rx="23.4" ry="32.6" transform="rotate(14 1378.5 556.5)" fill="#fff" stroke="#000" stroke-width="2.0" />
<ellipse cx="1382.0" cy="557.9" rx="22.3" ry="31.0" transform="rotate(14 1382.0 557.9)" fill="#fff" stroke="#000" stroke-width="2.6" />
<ellipse cx="1386.3" cy="559.5" rx="25.2" ry="35.0" transform="rotate(14 1386.3 559.5)" fill="#fff" stroke="#000" stroke-width="2.0" />
<ellipse cx="1389.8" cy="560.9" rx="24.1" ry="33.4" transform="rotate(14 1389.8 560.9)" fill="#fff" stroke="#000" stroke-width="2.6" />
<ellipse cx="1394.2" cy="562.5" rx="26.4" ry="36.7" transform="rotate(14 1394.2 562.5)" fill="#fff" stroke="#000" stroke-width="2.0" />
<ellipse cx="1397.7" cy="563.8" rx="25.3" ry="35.1" transform="rotate(14 1397.7 563.8)" fill="#fff" stroke="#000" stroke-width="2.6" />
<ellipse cx="1402.0" cy="565.5" rx="27.2" ry="37.8" transform="rotate(14 1402.0 565.5)" fill="#fff" stroke="#000" stroke-width="2.0" />
<ellipse cx="1405.5" cy="566.8" rx="26.0" ry="36.2" transform="rotate(14 1405.5 566.8)" fill="#fff" stroke="#000" stroke-width="2.6" />
<ellipse cx="1409.8" cy="568.5" rx="27.6" ry="38.3" transform="rotate(14 1409.8 568.5)" fill="#fff" stroke="#000" stroke-width="2.0" />
<ellipse cx="1413.3" cy="569.8" rx="26.5" ry="36.7" transform="rotate(14 1413.3 569.8)" fill="#fff" stroke="#000" stroke-width="2.6" />
<ellipse cx="1417.6" cy="571.5" rx="27.8" ry="38.6" transform="rotate(14 1417.6 571.5)" fill="#fff" stroke="#000" stroke-width="2.0" />
<ellipse cx="1421.1" cy="572.8" rx="26.7" ry="37.0" transform="rotate(14 1421.1 572.8)" fill="#fff" stroke="#000" stroke-width="2.6" />
<ellipse cx="1425.4" cy="574.4" rx="27.9" ry="38.7" transform="rotate(14 1425.4 574.4)" fill="#fff" stroke="#000" stroke-width="2.0" />
<ellipse cx="1429.0" cy="575.8" rx="26.7" ry="37.1" transform="rotate(14 1429.0 575.8)" fill="#fff" stroke="#000" stroke-width="2.6" />
<ellipse cx="1431.6" cy="576.8" rx="27.9" ry="38.7" transform="rotate(14 1431.6 576.8)" fill="#fff" stroke="#000" stroke-width="2.0" />
<ellipse cx="1431.3" cy="576.8" rx="24.5" ry="34.5" transform="rotate(14 1431.3 576.8)" fill="#fff" stroke="#000" stroke-width="2.0" />
<path d="M1411.5,585.0h0.1M1412.0,591.7h0.1M1440.4,580.9h0.1M1432.2,561.2h0.1M1437.9,552.0h0.1M1444.0,563.9h0.1M1441.5,587.8h0.1M1433.7,553.9h0.1M1448.4,573.7h0.1M1409.2,592.6h0.1M1446.9,564.8h0.1M1443.8,562.3h0.1M1434.4,595.4h0.1M1427.8,591.6h0.1M1413.0,571.7h0.1M1445.8,562.3h0.1M1426.3,568.0h0.1M1426.3,592.4h0.1M1415.0,580.7h0.1M1419.9,553.9h0.1M1415.4,601.1h0.1M1420.3,581.3h0.1M1426.1,551.2h0.1M1441.2,572.3h0.1M1432.8,589.4h0.1M1445.4,587.1h0.1M1443.8,580.3h0.1M1426.7,560.5h0.1M1439.4,578.8h0.1M1421.3,561.9h0.1M1429.7,556.4h0.1M1412.9,562.9h0.1M1438.3,578.2h0.1M1425.6,591.0h0.1M1437.4,598.2h0.1M1442.0,587.0h0.1M1445.1,569.0h0.1M1432.8,563.9h0.1M1428.6,599.6h0.1M1435.1,563.3h0.1M1417.3,603.6h0.1M1439.9,556.1h0.1M1432.2,566.8h0.1M1432.0,560.1h0.1M1419.1,554.6h0.1" stroke="#000" stroke-width="1.3" stroke-linecap="round" fill="none"/>
<ellipse cx="1427.8" cy="575.8" rx="21.3" ry="30.5" transform="rotate(14 1427.8 575.8)" fill="none" stroke="#000" stroke-width="1.9" />
<ellipse cx="1424.3" cy="574.7" rx="18.5" ry="26.5" transform="rotate(14 1424.3 574.7)" fill="none" stroke="#000" stroke-width="1.9" />
<ellipse cx="1421.3" cy="573.8" rx="15.7" ry="22.5" transform="rotate(14 1421.3 573.8)" fill="none" stroke="#000" stroke-width="1.9" />
<ellipse cx="1418.3" cy="572.9" rx="12.9" ry="18.5" transform="rotate(14 1418.3 572.9)" fill="none" stroke="#000" stroke-width="1.9" />
<path d="M1631.6,650.4 C1630.4,651.9 1626.5,655.7 1624.3,659.3 C1622.2,663.0 1619.2,668.2 1618.6,672.3 C1618.1,676.3 1618.8,680.8 1621.1,683.6 C1623.4,686.5 1628.6,689.9 1632.4,689.6 C1636.2,689.4 1640.9,686.1 1643.8,682.3 C1646.6,678.6 1648.8,671.8 1649.6,667.4 C1650.4,663.1 1649.6,658.8 1648.6,656.1 C1647.7,653.4 1645.1,651.5 1643.8,651.2 C1642.4,650.9 1641.1,653.9 1640.5,654.5 L1640.5,656.4 C1640.9,658.0 1643.4,662.3 1643.0,665.8 C1642.6,669.3 1640.0,674.5 1638.1,677.2 C1636.2,679.9 1633.5,682.3 1631.6,682.0 C1629.7,681.8 1627.3,678.2 1626.8,675.5 C1626.2,672.8 1627.2,669.1 1628.4,665.8 C1629.6,662.6 1632.9,658.5 1634.1,656.1 C1635.2,653.6 1634.9,652.0 1635.0,651.2Z" fill="#fff" stroke="#000" stroke-width="2.4" stroke-linejoin="round" stroke-linecap="round" />
<path d="M1627.6,654.5 C1626.5,656.6 1621.9,663.0 1621.1,667.4 C1620.2,671.9 1620.9,677.8 1622.4,681.2 C1623.9,684.6 1628.7,686.6 1630.0,687.7" fill="none" stroke="#000" stroke-width="1.6" stroke-linejoin="round" stroke-linecap="round" />
<path d="M1646.2,654.5 C1646.3,656.6 1647.6,663.4 1647.0,667.4 C1646.4,671.4 1643.2,676.6 1642.5,678.5" fill="none" stroke="#000" stroke-width="1.6" stroke-linejoin="round" stroke-linecap="round" />
<path d="M1684.3,659.3 L1705.4,660.9 L1734.6,673.1 L1745.9,683.6 L1751.6,699.9 L1749.2,719.3 L1737.8,737.2 L1720.0,748.5 L1703.8,747.7 L1660.0,724.2 L1652.2,704.7 L1653.8,683.6 L1664.9,665.0Z" fill="#fff" stroke="#000" stroke-width="0.1" stroke-linejoin="round" stroke-linecap="round" />
<path d="M1684.3,659.3 C1681.1,660.3 1669.9,660.9 1664.9,665.0 C1659.8,669.1 1656.0,677.0 1653.8,683.6 C1651.7,690.3 1650.9,698.0 1651.9,704.7 C1652.9,711.5 1658.6,720.9 1660.0,724.2" fill="none" stroke="#000" stroke-width="2.4" stroke-linejoin="round" stroke-linecap="round" />
<path d="M1684.3,659.3 L1705.4,660.9 L1734.6,673.1" fill="none" stroke="#000" stroke-width="2.4" stroke-linejoin="round" stroke-linecap="round" />
<path d="M1660.0,724.2 L1703.8,747.7" fill="none" stroke="#000" stroke-width="2.4" stroke-linejoin="round" stroke-linecap="round" />
<path d="M1734.6,673.1 C1736.5,674.9 1743.1,679.2 1745.9,683.6 C1748.8,688.1 1751.1,693.9 1751.6,699.9 C1752.2,705.8 1751.5,713.1 1749.2,719.3 C1746.9,725.5 1742.7,732.3 1737.8,737.2 C1733.0,742.0 1725.7,746.8 1720.0,748.5 C1714.3,750.3 1706.5,747.8 1703.8,747.7" fill="none" stroke="#000" stroke-width="2.4" stroke-linejoin="round" stroke-linecap="round" />
<path d="M1734.6,673.4 C1731.1,674.6 1719.7,676.0 1713.5,680.4 C1707.3,684.8 1701.1,693.4 1697.3,699.9 C1693.5,706.3 1691.2,712.8 1690.8,719.3 C1690.4,725.8 1692.7,734.0 1694.9,738.8 C1697.0,743.5 1702.3,746.2 1703.8,747.7" fill="none" stroke="#000" stroke-width="2.4" stroke-linejoin="round" stroke-linecap="round" />
<path d="M1737.0,677.5 C1733.9,678.8 1723.6,681.3 1718.4,685.3 C1713.1,689.3 1708.6,695.8 1705.4,701.5 C1702.2,707.2 1699.8,713.4 1699.2,719.3 C1698.7,725.3 1700.3,732.6 1702.2,737.2 C1704.0,741.8 1708.9,745.3 1710.3,746.9" fill="none" stroke="#000" stroke-width="1.7" stroke-linejoin="round" stroke-linecap="round" />
<path d="M1673.0,673.9 L1681.1,662.2 L1733.3,675.1 L1720.0,678.5 L1703.8,688.8Z" fill="none" stroke="#000" stroke-width="2.4" stroke-linejoin="round" stroke-linecap="round" />
<path d="M1674.9,672.0 L1703.8,684.0 L1720.3,677.8" fill="none" stroke="#000" stroke-width="1.6" stroke-linejoin="round" stroke-linecap="round" />
<path d="M1659.2,700.2 L1661.6,696.0 L1694.9,710.6 L1688.9,723.4 L1688.4,735.5 L1660.8,721.8Z" fill="none" stroke="#000" stroke-width="2.4" stroke-linejoin="round" stroke-linecap="round" />
<path d="M1661.6,699.9 L1690.8,712.8 L1688.9,723.4" fill="none" stroke="#000" stroke-width="1.6" stroke-linejoin="round" stroke-linecap="round" />
<ellipse cx="1725.7" cy="716.6" rx="4.1" ry="9.2" transform="rotate(22 1725.7 716.6)" fill="#fff" stroke="#000" stroke-width="2.4" />
<path d="M1728.1,707.5 L1758.1,721.3 L1751.6,735.9 L1723.2,725.3Z" fill="#fff" stroke="#000" stroke-width="2.4" stroke-linejoin="round" stroke-linecap="round" />
<ellipse cx="1759.7" cy="727.4" rx="4.9" ry="10.1" transform="rotate(22 1759.7 727.4)" fill="#fff" stroke="#000" stroke-width="2.4" />
<path d="M1763.0,717.7 L1790.5,727.8 L1780.8,750.5 L1754.9,736.8Z" fill="#fff" stroke="#000" stroke-width="2.4" stroke-linejoin="round" stroke-linecap="round" />
<path d="M1761.8,720.4 L1775.6,726.5" fill="none" stroke="#000" stroke-width="1.5" stroke-linejoin="round" stroke-linecap="round" />
<path d="M1760.6,723.2 L1774.4,729.6" fill="none" stroke="#000" stroke-width="1.5" stroke-linejoin="round" stroke-linecap="round" />
<path d="M1759.5,725.9 L1773.3,732.8" fill="none" stroke="#000" stroke-width="1.5" stroke-linejoin="round" stroke-linecap="round" />
<path d="M1758.3,728.6 L1772.1,735.9" fill="none" stroke="#000" stroke-width="1.5" stroke-linejoin="round" stroke-linecap="round" />
<path d="M1757.2,731.4 L1771.0,739.0" fill="none" stroke="#000" stroke-width="1.5" stroke-linejoin="round" stroke-linecap="round" />
<path d="M1756.0,734.1 L1769.8,742.1" fill="none" stroke="#000" stroke-width="1.5" stroke-linejoin="round" stroke-linecap="round" />
<path d="M1772.4,745.1 L1771.7,744.7 L1771.2,744.1 L1770.7,743.4 L1770.3,742.5 L1770.1,741.5 L1769.9,740.4 L1769.9,739.1 L1770.0,737.8 L1770.2,736.4 L1770.5,735.0 L1771.0,733.5 L1771.5,732.1 L1772.1,730.7 L1772.8,729.4 L1773.6,728.1 L1774.4,727.0 L1775.2,726.0 L1776.1,725.1 L1777.0,724.4 L1777.9,723.8 L1778.8,723.4 L1779.6,723.2 L1780.4,723.2 L1781.1,723.4" fill="none" stroke="#000" stroke-width="2.4" stroke-linejoin="round" stroke-linecap="round" />
<ellipse cx="1786.5" cy="739.3" rx="10.1" ry="12.3" transform="rotate(22 1786.5 739.3)" fill="#fff" stroke="#000" stroke-width="2.4" />
<path d="M1780.3,749.9 L1781.8,747.4" fill="none" stroke="#000" stroke-width="1.4" stroke-linejoin="round" stroke-linecap="round" />
<path d="M1778.0,747.6 L1780.2,745.7" fill="none" stroke="#000" stroke-width="1.4" stroke-linejoin="round" stroke-linecap="round" />
<path d="M1776.6,744.5 L1779.2,743.4" fill="none" stroke="#000" stroke-width="1.4" stroke-linejoin="round" stroke-linecap="round" />
<path d="M1776.1,740.9 L1778.9,740.6" fill="none" stroke="#000" stroke-width="1.4" stroke-linejoin="round" stroke-linecap="round" />
<path d="M1776.6,737.1 L1779.3,737.8" fill="none" stroke="#000" stroke-width="1.4" stroke-linejoin="round" stroke-linecap="round" />
<path d="M1778.1,733.6 L1780.4,735.1" fill="none" stroke="#000" stroke-width="1.4" stroke-linejoin="round" stroke-linecap="round" />
<path d="M1780.4,730.6 L1782.2,732.8" fill="none" stroke="#000" stroke-width="1.4" stroke-linejoin="round" stroke-linecap="round" />
<path d="M1783.3,728.4 L1784.3,731.1" fill="none" stroke="#000" stroke-width="1.4" stroke-linejoin="round" stroke-linecap="round" />
<path d="M1786.5,727.3 L1786.7,730.2" fill="none" stroke="#000" stroke-width="1.4" stroke-linejoin="round" stroke-linecap="round" />
<path d="M1787.8,741.2 L1790.5,738.8" fill="none" stroke="#000" stroke-width="1.5" stroke-linejoin="round" stroke-linecap="round" />
<path d="M1081.6,656.5 C1080.8,657.5 1077.8,660.2 1076.6,662.2 C1075.4,664.2 1074.8,666.4 1074.4,668.5 C1074.0,670.5 1073.9,673.0 1074.4,674.7 C1074.9,676.5 1076.0,678.1 1077.2,679.1 C1078.4,680.2 1080.6,680.1 1081.6,681.0 C1082.7,682.0 1082.5,683.7 1083.5,684.8 C1084.6,685.8 1086.3,687.0 1087.9,687.3 C1089.5,687.6 1090.8,687.2 1092.9,686.7 C1095.0,686.1 1098.0,685.7 1100.5,684.1 C1103.0,682.6 1105.9,679.8 1108.0,677.2 C1110.1,674.7 1111.9,671.5 1113.0,669.1 C1114.1,666.7 1114.7,664.4 1114.6,662.8 C1114.5,661.2 1113.3,660.5 1112.4,659.7 C1111.5,658.8 1110.2,658.0 1109.3,657.8 C1108.3,657.6 1107.2,658.3 1106.7,658.4 L1106.7,659.7 C1106.5,660.3 1106.1,662.0 1105.5,663.4 C1104.9,664.9 1104.2,666.8 1103.0,668.5 C1101.7,670.1 1099.7,672.0 1098.0,673.5 C1096.2,674.9 1094.2,676.3 1092.3,677.2 C1090.4,678.2 1088.2,678.9 1086.7,679.1 C1085.1,679.3 1083.7,679.4 1082.9,678.5 C1082.1,677.6 1081.7,674.9 1081.6,673.5 C1081.5,672.0 1081.6,671.2 1082.3,669.7 C1082.9,668.2 1084.2,666.3 1085.4,664.7 C1086.5,663.1 1087.7,661.7 1089.2,660.3 C1090.6,658.9 1093.4,657.2 1094.2,656.5Z" fill="#fff" stroke="#000" stroke-width="2.4" stroke-linejoin="round" stroke-linecap="round" />
<path d="M1081.3,650.9 L1086.0,646.8 L1089.2,644.9 L1095.4,644.9 L1103.0,648.4 L1105.8,651.5 L1100.5,654.0 L1094.2,655.9 L1089.2,659.7 L1086.7,660.9 L1081.6,656.5Z" fill="#fff" stroke="#000" stroke-width="2.4" stroke-linejoin="round" stroke-linecap="round" />
<path d="M1095.4,646.5 L1100.5,647.7 L1105.8,651.5 L1100.5,652.9 L1098.9,651.2Z" fill="#000" stroke="#000" stroke-width="1.0" stroke-linejoin="round" stroke-linecap="round" />
<path d="M1081.6,651.6 L1083.6,656.0 L1090.5,650.9 L1088.0,648.4" fill="none" stroke="#000" stroke-width="1.8" stroke-linejoin="round" stroke-linecap="round" />
<path d="M1090.5,650.9 L1092.9,654.0 L1087.9,658.4" fill="none" stroke="#000" stroke-width="1.8" stroke-linejoin="round" stroke-linecap="round" />
<path d="M1089.2,645.2 L1094.2,650.2 L1098.9,651.2" fill="none" stroke="#000" stroke-width="1.8" stroke-linejoin="round" stroke-linecap="round" />
<ellipse cx="1120.3" cy="680.3" rx="6.8" ry="9.5" transform="rotate(14 1120.3 680.3)" fill="#fff" stroke="#000" stroke-width="3.2" />
<ellipse cx="1123.9" cy="681.5" rx="7.4" ry="10.3" transform="rotate(14 1123.9 681.5)" fill="#fff" stroke="#000" stroke-width="2.2" />
<ellipse cx="1126.5" cy="682.4" rx="6.7" ry="9.3" transform="rotate(14 1126.5 682.4)" fill="#fff" stroke="#000" stroke-width="3.2" />
<ellipse cx="1129.2" cy="683.4" rx="9.0" ry="12.5" transform="rotate(14 1129.2 683.4)" fill="#fff" stroke="#000" stroke-width="2.2" />
<ellipse cx="1132.3" cy="684.4" rx="7.9" ry="11.0" transform="rotate(14 1132.3 684.4)" fill="#fff" stroke="#000" stroke-width="3.2" />
<ellipse cx="1136.0" cy="685.7" rx="11.5" ry="16.0" transform="rotate(14 1136.0 685.7)" fill="#fff" stroke="#000" stroke-width="2.2" />
<ellipse cx="1139.2" cy="686.8" rx="10.4" ry="14.5" transform="rotate(14 1139.2 686.8)" fill="#fff" stroke="#000" stroke-width="3.2" />
<ellipse cx="1142.8" cy="688.1" rx="13.7" ry="19.0" transform="rotate(14 1142.8 688.1)" fill="#fff" stroke="#000" stroke-width="2.2" />
<ellipse cx="1146.0" cy="689.1" rx="12.6" ry="17.5" transform="rotate(14 1146.0 689.1)" fill="#fff" stroke="#000" stroke-width="3.2" />
<ellipse cx="1149.7" cy="690.4" rx="15.7" ry="21.8" transform="rotate(14 1149.7 690.4)" fill="#fff" stroke="#000" stroke-width="2.2" />
<ellipse cx="1152.8" cy="691.5" rx="14.6" ry="20.3" transform="rotate(14 1152.8 691.5)" fill="#fff" stroke="#000" stroke-width="3.2" />
<ellipse cx="1156.5" cy="692.7" rx="17.4" ry="24.2" transform="rotate(14 1156.5 692.7)" fill="#fff" stroke="#000" stroke-width="2.2" />
<ellipse cx="1159.6" cy="693.8" rx="16.3" ry="22.7" transform="rotate(14 1159.6 693.8)" fill="#fff" stroke="#000" stroke-width="3.2" />
<ellipse cx="1163.3" cy="695.1" rx="18.9" ry="26.2" transform="rotate(14 1163.3 695.1)" fill="#fff" stroke="#000" stroke-width="2.2" />
<ellipse cx="1166.4" cy="696.2" rx="17.8" ry="24.7" transform="rotate(14 1166.4 696.2)" fill="#fff" stroke="#000" stroke-width="3.2" />
<ellipse cx="1170.1" cy="697.4" rx="20.1" ry="27.9" transform="rotate(14 1170.1 697.4)" fill="#fff" stroke="#000" stroke-width="2.2" />
<ellipse cx="1173.2" cy="698.5" rx="19.0" ry="26.4" transform="rotate(14 1173.2 698.5)" fill="#fff" stroke="#000" stroke-width="3.2" />
<ellipse cx="1176.9" cy="699.8" rx="21.1" ry="29.3" transform="rotate(14 1176.9 699.8)" fill="#fff" stroke="#000" stroke-width="2.2" />
<ellipse cx="1180.0" cy="700.9" rx="20.0" ry="27.8" transform="rotate(14 1180.0 700.9)" fill="#fff" stroke="#000" stroke-width="3.2" />
<ellipse cx="1183.7" cy="702.1" rx="21.9" ry="30.4" transform="rotate(14 1183.7 702.1)" fill="#fff" stroke="#000" stroke-width="2.2" />
<ellipse cx="1186.8" cy="703.2" rx="20.8" ry="28.9" transform="rotate(14 1186.8 703.2)" fill="#fff" stroke="#000" stroke-width="3.2" />
<ellipse cx="1190.5" cy="704.5" rx="22.5" ry="31.2" transform="rotate(14 1190.5 704.5)" fill="#fff" stroke="#000" stroke-width="2.2" />
<ellipse cx="1193.6" cy="705.5" rx="21.4" ry="29.7" transform="rotate(14 1193.6 705.5)" fill="#fff" stroke="#000" stroke-width="3.2" />
<ellipse cx="1197.3" cy="706.8" rx="22.8" ry="31.7" transform="rotate(14 1197.3 706.8)" fill="#fff" stroke="#000" stroke-width="2.2" />
<ellipse cx="1200.5" cy="707.9" rx="21.7" ry="30.2" transform="rotate(14 1200.5 707.9)" fill="#fff" stroke="#000" stroke-width="3.2" />
<ellipse cx="1204.1" cy="709.2" rx="23.0" ry="31.9" transform="rotate(14 1204.1 709.2)" fill="#fff" stroke="#000" stroke-width="2.2" />
<ellipse cx="1207.3" cy="710.2" rx="21.9" ry="30.4" transform="rotate(14 1207.3 710.2)" fill="#fff" stroke="#000" stroke-width="3.2" />
<ellipse cx="1209.5" cy="711.0" rx="23.0" ry="32.0" transform="rotate(14 1209.5 711.0)" fill="#fff" stroke="#000" stroke-width="2.2" />
<ellipse cx="1209.0" cy="711.0" rx="20.5" ry="28.5" transform="rotate(14 1209.0 711.0)" fill="#fff" stroke="#000" stroke-width="2.2" />
<path d="M1221.6,723.0 L1218.5,727.7 L1214.7,731.4 L1210.6,734.0 L1206.2,735.4 L1201.9,735.4 L1197.8,734.0 L1194.3,731.4 L1191.4,727.6 L1189.4,722.9 L1188.3,717.5 L1188.2,711.8 L1189.2,706.0 L1191.1,700.4 L1193.8,695.3 L1197.3,691.1 L1201.3,687.9 L1205.6,685.9 L1210.0,685.3 L1214.2,686.0 L1218.0,688.0 L1221.2,691.2 L1223.7,695.5 L1225.3,700.5 L1225.9,706.1" fill="none" stroke="#000" stroke-width="2.0" stroke-linejoin="round" stroke-linecap="round" />
<path d="M1217.9,720.9 L1215.1,725.1 L1211.8,728.4 L1208.1,730.7 L1204.3,731.8 L1200.5,731.8 L1196.9,730.6 L1193.8,728.3 L1191.2,725.0 L1189.5,720.8 L1188.5,716.1 L1188.4,711.0 L1189.3,705.9 L1191.0,701.0 L1193.4,696.5 L1196.5,692.8 L1200.0,689.9 L1203.8,688.2 L1207.6,687.6 L1211.3,688.2 L1214.7,690.0 L1217.6,692.9 L1219.7,696.6 L1221.1,701.1 L1221.6,706.0" fill="none" stroke="#000" stroke-width="2.0" stroke-linejoin="round" stroke-linecap="round" />
<path d="M1214.9,717.4 L1212.7,721.3 L1209.9,724.5 L1206.6,726.8 L1203.2,728.1 L1199.8,728.4 L1196.5,727.5 L1193.7,725.6 L1191.3,722.8 L1189.6,719.1 L1188.7,714.9 L1188.6,710.4 L1189.4,705.8 L1190.9,701.4 L1193.1,697.5 L1195.9,694.2 L1199.1,691.8 L1202.5,690.3 L1205.9,690.0 L1209.2,690.8 L1212.1,692.6 L1214.5,695.4 L1216.2,698.9 L1217.2,703.1 L1217.4,707.6" fill="none" stroke="#000" stroke-width="2.0" stroke-linejoin="round" stroke-linecap="round" />
<path d="M1211.7,714.2 L1209.9,717.8 L1207.6,720.8 L1204.9,723.1 L1201.9,724.4 L1198.9,724.9 L1196.0,724.3 L1193.4,722.8 L1191.3,720.4 L1189.8,717.3 L1189.0,713.7 L1188.8,709.7 L1189.5,705.7 L1190.8,701.9 L1192.7,698.5 L1195.2,695.7 L1198.0,693.6 L1201.0,692.5 L1204.0,692.4 L1206.8,693.3 L1209.2,695.0 L1211.2,697.6 L1212.5,700.9 L1213.2,704.7 L1213.0,708.7" fill="none" stroke="#000" stroke-width="2.0" stroke-linejoin="round" stroke-linecap="round" />
<path d="M1208.4,710.4 L1207.3,713.7 L1205.5,716.6 L1203.4,718.9 L1200.9,720.5 L1198.3,721.3 L1195.7,721.1 L1193.4,720.0 L1191.5,718.2 L1190.0,715.6 L1189.2,712.5 L1189.0,709.1 L1189.6,705.6 L1190.7,702.3 L1192.5,699.4 L1194.6,697.1 L1197.1,695.5 L1199.7,694.7 L1202.3,694.9 L1204.6,696.0 L1206.5,697.8 L1208.0,700.4 L1208.8,703.5 L1209.0,706.9 L1208.4,710.4" fill="none" stroke="#000" stroke-width="2.0" stroke-linejoin="round" stroke-linecap="round" />
<path d="M1249.5,713.5 C1247.8,714.8 1242.4,718.0 1239.1,721.4 C1235.7,724.8 1231.7,729.7 1229.6,733.9 C1227.6,738.1 1226.7,742.6 1226.5,746.5 C1226.3,750.3 1227.0,753.8 1228.6,756.9 C1230.2,760.1 1233.1,762.9 1235.9,765.3 C1238.7,767.8 1241.5,769.9 1245.3,771.6 C1249.2,773.2 1254.2,775.4 1258.9,775.3 C1263.6,775.1 1269.0,772.9 1273.6,770.5 C1278.1,768.2 1282.6,764.8 1286.1,761.1 C1289.6,757.5 1292.4,752.8 1294.5,748.6 C1296.6,744.4 1297.9,739.5 1298.7,736.0 C1299.5,732.5 1299.7,729.7 1299.2,727.7 C1298.7,725.6 1297.0,724.3 1295.5,723.5 C1294.1,722.7 1291.2,723.0 1290.3,722.9 L1289.8,724.5 C1289.5,726.3 1289.2,731.7 1288.2,735.0 C1287.3,738.3 1286.1,741.3 1284.0,744.4 C1281.9,747.5 1278.8,751.0 1275.7,753.8 C1272.5,756.6 1268.7,759.3 1265.2,761.1 C1261.7,763.0 1257.9,763.8 1254.7,764.8 C1251.6,765.7 1248.7,767.1 1246.4,766.9 C1244.0,766.6 1241.9,765.2 1240.6,763.2 C1239.3,761.2 1238.7,757.8 1238.5,754.9 C1238.4,751.9 1238.6,748.6 1239.6,745.4 C1240.5,742.3 1242.1,739.2 1244.3,736.0 C1246.5,732.9 1249.9,729.2 1252.7,726.6 C1255.4,724.0 1258.2,722.0 1261.0,720.3 C1263.8,718.7 1268.0,717.3 1269.4,716.7Z" fill="#fff" stroke="#000" stroke-width="2.4" stroke-linejoin="round" stroke-linecap="round" />
<path d="M1248.5,715.6 L1254.2,709.9 L1258.9,712.5 L1269.4,707.3 L1272.3,706.7 L1278.5,713.5 L1269.4,716.9 L1258.9,721.1 L1251.6,720.5Z" fill="#fff" stroke="#000" stroke-width="2.4" stroke-linejoin="round" stroke-linecap="round" />
<path d="M1254.2,709.9 L1258.9,715.1 L1251.8,720.3" fill="none" stroke="#000" stroke-width="1.7" stroke-linejoin="round" stroke-linecap="round" />
<path d="M1258.9,712.5 L1267.3,710.9 L1267.3,715.3 L1261.0,715.8" fill="none" stroke="#000" stroke-width="1.7" stroke-linejoin="round" stroke-linecap="round" />
<path d="M1306.0,750.7 C1305.0,751.7 1301.0,754.2 1299.7,756.9 C1298.4,759.7 1297.6,764.6 1298.2,767.4 C1298.7,770.2 1300.9,772.6 1302.9,773.7 C1304.9,774.8 1307.7,775.1 1310.2,773.9 C1312.6,772.7 1315.9,769.0 1317.5,766.4 C1319.2,763.7 1320.0,760.4 1320.1,758.0 C1320.2,755.6 1319.2,753.2 1318.0,751.7 C1316.9,750.2 1314.1,749.5 1313.3,749.1 L1311.2,752.8 C1311.7,753.6 1313.8,755.9 1313.8,758.0 C1313.8,760.1 1312.5,763.7 1311.2,765.3 C1309.9,766.9 1307.3,767.9 1306.0,767.4 C1304.7,766.9 1303.6,764.1 1303.4,762.2 C1303.2,760.3 1304.3,757.6 1305.0,755.9 C1305.7,754.2 1307.1,752.8 1307.6,752.2Z" fill="#fff" stroke="#000" stroke-width="2.4" stroke-linejoin="round" stroke-linecap="round" />
<ellipse cx="1343.9" cy="776.8" rx="24.1" ry="37.7" transform="rotate(18 1343.9 776.8)" fill="#fff" stroke="#000" stroke-width="2.4" />
<ellipse cx="1347.6" cy="778.1" rx="23.2" ry="36.6" transform="rotate(18 1347.6 778.1)" fill="#fff" stroke="#000" stroke-width="1.8" />
<ellipse cx="1351.3" cy="779.6" rx="22.5" ry="35.6" transform="rotate(18 1351.3 779.6)" fill="#fff" stroke="#000" stroke-width="1.8" />
<ellipse cx="1356.5" cy="781.0" rx="22.0" ry="34.0" transform="rotate(18 1356.5 781.0)" fill="#fff" stroke="#000" stroke-width="2.4" />
<path d="M1336.7,811.7 L1342.5,811.6" fill="none" stroke="#000" stroke-width="1.5" stroke-linejoin="round" stroke-linecap="round" />
<path d="M1334.4,809.8 L1340.2,809.8" fill="none" stroke="#000" stroke-width="1.5" stroke-linejoin="round" stroke-linecap="round" />
<path d="M1332.4,807.5 L1338.2,807.5" fill="none" stroke="#000" stroke-width="1.5" stroke-linejoin="round" stroke-linecap="round" />
<path d="M1330.6,804.6 L1336.5,804.8" fill="none" stroke="#000" stroke-width="1.5" stroke-linejoin="round" stroke-linecap="round" />
<path d="M1329.2,801.4 L1335.1,801.7" fill="none" stroke="#000" stroke-width="1.5" stroke-linejoin="round" stroke-linecap="round" />
<path d="M1328.2,797.8 L1334.1,798.3" fill="none" stroke="#000" stroke-width="1.5" stroke-linejoin="round" stroke-linecap="round" />
<path d="M1327.5,793.9 L1333.4,794.6" fill="none" stroke="#000" stroke-width="1.5" stroke-linejoin="round" stroke-linecap="round" />
<path d="M1327.2,789.8 L1333.1,790.6" fill="none" stroke="#000" stroke-width="1.5" stroke-linejoin="round" stroke-linecap="round" />
<path d="M1327.3,785.6 L1333.2,786.5" fill="none" stroke="#000" stroke-width="1.5" stroke-linejoin="round" stroke-linecap="round" />
<path d="M1327.8,781.2 L1333.7,782.3" fill="none" stroke="#000" stroke-width="1.5" stroke-linejoin="round" stroke-linecap="round" />
<path d="M1328.7,776.8 L1334.5,778.1" fill="none" stroke="#000" stroke-width="1.5" stroke-linejoin="round" stroke-linecap="round" />
<path d="M1329.9,772.4 L1335.7,774.0" fill="none" stroke="#000" stroke-width="1.5" stroke-linejoin="round" stroke-linecap="round" />
<path d="M1331.5,768.2 L1337.2,769.9" fill="none" stroke="#000" stroke-width="1.5" stroke-linejoin="round" stroke-linecap="round" />
<path d="M1333.4,764.1 L1339.0,766.0" fill="none" stroke="#000" stroke-width="1.5" stroke-linejoin="round" stroke-linecap="round" />
<path d="M1335.6,760.3 L1341.1,762.4" fill="none" stroke="#000" stroke-width="1.5" stroke-linejoin="round" stroke-linecap="round" />
<path d="M1338.1,756.8 L1343.5,759.1" fill="none" stroke="#000" stroke-width="1.5" stroke-linejoin="round" stroke-linecap="round" />
<path d="M1340.8,753.7 L1346.1,756.1" fill="none" stroke="#000" stroke-width="1.5" stroke-linejoin="round" stroke-linecap="round" />
<path d="M1343.6,751.0 L1348.8,753.5" fill="none" stroke="#000" stroke-width="1.5" stroke-linejoin="round" stroke-linecap="round" />
<path d="M1346.6,748.8 L1351.7,751.4" fill="none" stroke="#000" stroke-width="1.5" stroke-linejoin="round" stroke-linecap="round" />
<path d="M1349.6,747.1 L1354.7,749.8" fill="none" stroke="#000" stroke-width="1.5" stroke-linejoin="round" stroke-linecap="round" />
<path d="M1352.7,745.9 L1357.6,748.6" fill="none" stroke="#000" stroke-width="1.5" stroke-linejoin="round" stroke-linecap="round" />
<path d="M1355.7,745.2 L1360.6,748.0" fill="none" stroke="#000" stroke-width="1.5" stroke-linejoin="round" stroke-linecap="round" />
<path d="M1358.7,745.1 L1363.5,748.0" fill="none" stroke="#000" stroke-width="1.5" stroke-linejoin="round" stroke-linecap="round" />
<path d="M1361.5,745.6 L1366.3,748.4" fill="none" stroke="#000" stroke-width="1.5" stroke-linejoin="round" stroke-linecap="round" />
<path d="M1364.2,746.6 L1368.9,749.4" fill="none" stroke="#000" stroke-width="1.5" stroke-linejoin="round" stroke-linecap="round" />
<path d="M1366.7,748.1 L1371.3,750.9" fill="none" stroke="#000" stroke-width="1.5" stroke-linejoin="round" stroke-linecap="round" />
<path d="M1368.9,750.2 L1373.5,752.9" fill="none" stroke="#000" stroke-width="1.5" stroke-linejoin="round" stroke-linecap="round" />
<ellipse cx="1362.8" cy="783.6" rx="20.9" ry="31.4" transform="rotate(18 1362.8 783.6)" fill="#fff" stroke="#000" stroke-width="2.4" />
<ellipse cx="1368.0" cy="785.7" rx="18.3" ry="27.7" transform="rotate(18 1368.0 785.7)" fill="#fff" stroke="#000" stroke-width="1.8" />
<ellipse cx="1372.2" cy="787.2" rx="15.7" ry="23.5" transform="rotate(18 1372.2 787.2)" fill="#fff" stroke="#000" stroke-width="2.4" />
<ellipse cx="1373.7" cy="788.3" rx="9.4" ry="14.3" transform="rotate(18 1373.7 788.3)" fill="#fff" stroke="#000" stroke-width="2.4" />
<ellipse cx="1373.2" cy="788.4" rx="5.9" ry="10.5" transform="rotate(18 1373.2 788.4)" fill="#fff" stroke="#000" stroke-width="2.4" />
<ellipse cx="1376.9" cy="790.4" rx="4.4" ry="11.3" transform="rotate(18 1376.9 790.4)" fill="#fff" stroke="#000" stroke-width="2.4" />
<path d="M1381.6,779.4 L1414.9,791.9 L1404.9,814.1 L1376.9,802.4Z" fill="#fff" stroke="#000" stroke-width="2.4" stroke-linejoin="round" stroke-linecap="round" />
<path d="M1381.5,783.0 L1410.3,793.9" fill="none" stroke="#000" stroke-width="1.6" stroke-linejoin="round" stroke-linecap="round" />
<path d="M1380.9,786.3 L1408.9,797.0" fill="none" stroke="#000" stroke-width="1.6" stroke-linejoin="round" stroke-linecap="round" />
<path d="M1380.2,789.6 L1407.5,800.2" fill="none" stroke="#000" stroke-width="1.6" stroke-linejoin="round" stroke-linecap="round" />
<path d="M1379.5,792.9 L1406.0,803.4" fill="none" stroke="#000" stroke-width="1.6" stroke-linejoin="round" stroke-linecap="round" />
<path d="M1378.9,796.1 L1404.6,806.5" fill="none" stroke="#000" stroke-width="1.6" stroke-linejoin="round" stroke-linecap="round" />
<path d="M1378.2,799.4 L1403.2,809.7" fill="none" stroke="#000" stroke-width="1.6" stroke-linejoin="round" stroke-linecap="round" />
<path d="M1407.7,789.3 L1400.4,812.3" fill="none" stroke="#000" stroke-width="1.8" stroke-linejoin="round" stroke-linecap="round" />
<ellipse cx="1408.8" cy="804.5" rx="4.0" ry="7.8" transform="rotate(18 1408.8 804.5)" fill="#fff" stroke="#000" stroke-width="2.4" />
<path d="M1409.8,797.0 L1427.1,803.7 L1424.5,815.8 L1405.9,812.0Z" fill="#fff" stroke="#000" stroke-width="2.4" stroke-linejoin="round" stroke-linecap="round" />
<path d="M1408.9,812.1 L1408.6,811.8 L1408.3,811.5 L1408.0,811.0 L1407.8,810.5 L1407.7,809.9 L1407.6,809.2 L1407.5,808.5 L1407.6,807.7 L1407.6,806.9 L1407.8,806.1 L1408.0,805.2 L1408.2,804.4 L1408.5,803.6 L1408.9,802.8 L1409.2,802.0 L1409.6,801.3 L1410.1,800.6 L1410.5,800.1 L1411.0,799.6 L1411.5,799.2 L1412.0,798.9 L1412.4,798.7 L1412.9,798.6 L1413.3,798.6" fill="none" stroke="#000" stroke-width="1.7" stroke-linejoin="round" stroke-linecap="round" />
<path d="M1413.2,812.9 L1412.9,812.6 L1412.6,812.3 L1412.3,811.9 L1412.1,811.4 L1411.9,810.8 L1411.8,810.1 L1411.8,809.4 L1411.8,808.7 L1411.9,807.9 L1412.0,807.1 L1412.2,806.3 L1412.4,805.5 L1412.7,804.7 L1413.0,804.0 L1413.4,803.2 L1413.8,802.6 L1414.2,802.0 L1414.7,801.4 L1415.1,801.0 L1415.6,800.6 L1416.1,800.3 L1416.5,800.1 L1417.0,800.0 L1417.4,800.0" fill="none" stroke="#000" stroke-width="1.7" stroke-linejoin="round" stroke-linecap="round" />
<path d="M1417.5,813.7 L1417.2,813.4 L1416.8,813.1 L1416.6,812.7 L1416.4,812.2 L1416.2,811.7 L1416.1,811.1 L1416.0,810.4 L1416.0,809.7 L1416.1,808.9 L1416.2,808.2 L1416.4,807.4 L1416.6,806.6 L1416.9,805.9 L1417.2,805.2 L1417.5,804.5 L1417.9,803.9 L1418.3,803.3 L1418.8,802.8 L1419.2,802.3 L1419.7,802.0 L1420.1,801.7 L1420.6,801.5 L1421.1,801.5 L1421.5,801.5" fill="none" stroke="#000" stroke-width="1.7" stroke-linejoin="round" stroke-linecap="round" />
<path d="M1421.8,814.5 L1421.4,814.3 L1421.1,814.0 L1420.9,813.6 L1420.6,813.1 L1420.5,812.6 L1420.3,812.0 L1420.3,811.3 L1420.3,810.6 L1420.3,809.9 L1420.4,809.2 L1420.6,808.5 L1420.8,807.8 L1421.0,807.1 L1421.3,806.4 L1421.7,805.7 L1422.0,805.1 L1422.5,804.6 L1422.9,804.1 L1423.3,803.7 L1423.8,803.4 L1424.2,803.1 L1424.7,803.0 L1425.1,802.9 L1425.6,802.9" fill="none" stroke="#000" stroke-width="1.7" stroke-linejoin="round" stroke-linecap="round" />
<ellipse cx="1428.1" cy="809.7" rx="4.0" ry="5.9" transform="rotate(18 1428.1 809.7)" fill="#fff" stroke="#000" stroke-width="2.4" />
<ellipse cx="1519.3" cy="859.1" rx="26.2" ry="35.7" transform="rotate(20 1519.3 859.1)" fill="#fff" stroke="#000" stroke-width="2.4" />
<ellipse cx="1523.5" cy="858.5" rx="26.2" ry="35.7" transform="rotate(20 1523.5 858.5)" fill="#fff" stroke="#000" stroke-width="2.4" />
<ellipse cx="1527.7" cy="858.0" rx="26.2" ry="35.7" transform="rotate(20 1527.7 858.0)" fill="#fff" stroke="#000" stroke-width="2.4" />
<ellipse cx="1533.5" cy="857.5" rx="26.2" ry="35.7" transform="rotate(20 1533.5 857.5)" fill="#fff" stroke="#000" stroke-width="2.4" />
<ellipse cx="1533.0" cy="857.5" rx="22.6" ry="32.0" transform="rotate(20 1533.0 857.5)" fill="#fff" stroke="#000" stroke-width="1.3" />
<ellipse cx="1531.4" cy="858.5" rx="15.8" ry="26.8" transform="rotate(28 1531.4 858.5)" fill="#fff" stroke="#000" stroke-width="2.0" />
<path d="M1543.2,839.4 L1544.2,841.0 L1545.0,842.8 L1545.6,844.7 L1546.0,846.9 L1546.2,849.2 L1546.1,851.7 L1545.8,854.2 L1545.3,856.8 L1544.5,859.5 L1543.6,862.1 L1542.5,864.7 L1541.2,867.2 L1539.7,869.6 L1538.1,871.9 L1536.3,874.0 L1534.5,875.9 L1532.5,877.6 L1530.6,879.1 L1528.5,880.3 L1526.5,881.3 L1524.5,882.0 L1522.6,882.4 L1520.7,882.4 L1518.9,882.2" fill="none" stroke="#000" stroke-width="1.4" stroke-linejoin="round" stroke-linecap="round" />
<path d="M1512.1,866.5h0.1M1548.2,837.9h0.1M1554.6,858.6h0.1M1526.5,835.6h0.1M1545.9,872.7h0.1M1514.0,871.1h0.1M1549.7,835.5h0.1M1517.4,844.8h0.1M1547.8,873.2h0.1M1512.0,865.4h0.1M1510.6,857.2h0.1M1526.9,834.0h0.1M1510.1,868.7h0.1M1536.1,881.3h0.1M1555.8,849.1h0.1M1512.9,871.9h0.1M1526.0,835.2h0.1M1523.3,884.1h0.1M1512.8,848.9h0.1M1515.0,879.5h0.1M1513.5,855.5h0.1M1525.1,885.1h0.1M1553.1,851.6h0.1M1526.9,883.6h0.1M1519.5,883.3h0.1M1541.8,877.0h0.1M1552.7,859.7h0.1M1525.2,835.7h0.1M1513.4,878.5h0.1M1512.8,867.7h0.1M1539.4,830.6h0.1M1542.0,830.5h0.1M1553.5,838.7h0.1M1554.3,863.5h0.1M1552.9,854.7h0.1M1519.3,880.0h0.1M1542.4,880.8h0.1M1539.0,883.8h0.1M1516.1,845.4h0.1M1515.9,844.6h0.1M1544.4,875.8h0.1M1554.5,853.3h0.1M1513.7,876.1h0.1M1528.3,885.1h0.1M1534.1,884.4h0.1M1523.5,837.7h0.1M1550.2,868.5h0.1M1513.2,863.5h0.1M1548.4,835.8h0.1M1547.7,873.9h0.1M1513.6,847.9h0.1M1553.5,863.0h0.1M1512.3,856.5h0.1M1513.1,861.1h0.1M1553.8,862.8h0.1M1510.4,867.8h0.1M1549.9,868.6h0.1M1546.1,833.4h0.1M1516.2,841.8h0.1M1515.5,876.6h0.1M1534.0,829.7h0.1M1530.1,831.7h0.1M1534.5,883.2h0.1M1515.1,880.1h0.1M1517.3,883.0h0.1M1512.8,855.9h0.1M1542.1,877.6h0.1M1553.0,859.1h0.1M1529.1,834.4h0.1M1513.1,849.8h0.1" stroke="#000" stroke-width="1.4" stroke-linecap="round" fill="none"/>
<ellipse cx="1572.3" cy="874.1" rx="12.0" ry="18.6" transform="rotate(15 1572.3 874.1)" fill="#fff" stroke="#000" stroke-width="2.4" />
<ellipse cx="1575.5" cy="874.7" rx="11.5" ry="18.0" transform="rotate(15 1575.5 874.7)" fill="#fff" stroke="#000" stroke-width="2.4" />
<path d="M1575.2,862.0 L1579.8,855.4 L1588.5,860.6 L1596.4,869.7 L1597.7,876.0 L1590.2,891.3 L1579.4,892.6 L1571.5,888.4 L1570.2,872.7Z" fill="#fff" stroke="#000" stroke-width="2.4" stroke-linejoin="round" stroke-linecap="round" />
<path d="M1579.8,855.4 L1582.0,862.5 L1589.8,866.5 L1596.4,869.7" fill="none" stroke="#000" stroke-width="1.7" stroke-linejoin="round" stroke-linecap="round" />
<path d="M1582.0,862.5 L1576.5,871.4 L1579.4,892.6" fill="none" stroke="#000" stroke-width="1.7" stroke-linejoin="round" stroke-linecap="round" />
<path d="M1589.8,866.5 L1584.3,875.4 L1588.3,891.0" fill="none" stroke="#000" stroke-width="1.7" stroke-linejoin="round" stroke-linecap="round" />
<path d="M1575.2,862.0 L1582.0,862.5" fill="none" stroke="#000" stroke-width="1.7" stroke-linejoin="round" stroke-linecap="round" />
<ellipse cx="1586.3" cy="879.3" rx="7.6" ry="11.2" transform="rotate(15 1586.3 879.3)" fill="#fff" stroke="#000" stroke-width="2.4" />
<path d="M1588.9,868.6 L1594.8,872.5 L1589.6,890.0 L1584.1,890.0Z" fill="#fff" stroke="#000" stroke-width="0.1" stroke-linejoin="round" stroke-linecap="round" />
<path d="M1588.9,868.6 L1594.5,872.5" fill="none" stroke="#000" stroke-width="2.4" stroke-linejoin="round" stroke-linecap="round" />
<path d="M1584.1,890.3 L1589.6,890.3" fill="none" stroke="#000" stroke-width="2.4" stroke-linejoin="round" stroke-linecap="round" />
<ellipse cx="1592.2" cy="881.4" rx="7.2" ry="9.3" transform="rotate(15 1592.2 881.4)" fill="#fff" stroke="#000" stroke-width="2.4" />
<ellipse cx="1592.5" cy="881.6" rx="3.8" ry="5.1" transform="rotate(15 1592.5 881.6)" fill="#fff" stroke="#000" stroke-width="1.7" />
<path d="M1591.1,883.9 L1593.5,879.3" fill="none" stroke="#000" stroke-width="1.4" stroke-linejoin="round" stroke-linecap="round" />
<g transform="translate(80.0 932.1) rotate(-23.5)" style="mix-blend-mode:multiply" fill="#f1f1f1" font-family="Liberation Sans, sans-serif" font-size="250">
<text transform="translate(0.0 0) scale(1 1.04)">H</text>
<text transform="translate(180.5 0) scale(1 0.985)">o</text>
<text transform="translate(319.6 0) scale(1 0.985)">n</text>
<text transform="translate(458.6 0) scale(1 1.02)">d</text>
<text transform="translate(597.7 0) scale(1 0.985)">a</text>
<text transform="translate(736.7 0) scale(1 1.04)">C</text>
<text transform="translate(917.2 0) scale(1 0.985)">a</text>
<text transform="translate(1056.3 0) scale(1 0.985)">r</text>
<text transform="translate(1139.5 0) scale(1 1.04)">M</text>
<text transform="translate(1347.8 0) scale(1 1.02)">i</text>
<text transform="translate(1403.3 0) scale(1 0.985)">n</text>
<text transform="translate(1542.4 0) scale(1 0.985)">e</text>
<text transform="translate(1681.4 0) scale(1 1.02)">.</text>
<text transform="translate(1750.9 0) scale(1 0.985)">r</text>
<text transform="translate(1834.1 0) scale(1 0.985)">u</text>
</g>
</svg>
</body></html>
